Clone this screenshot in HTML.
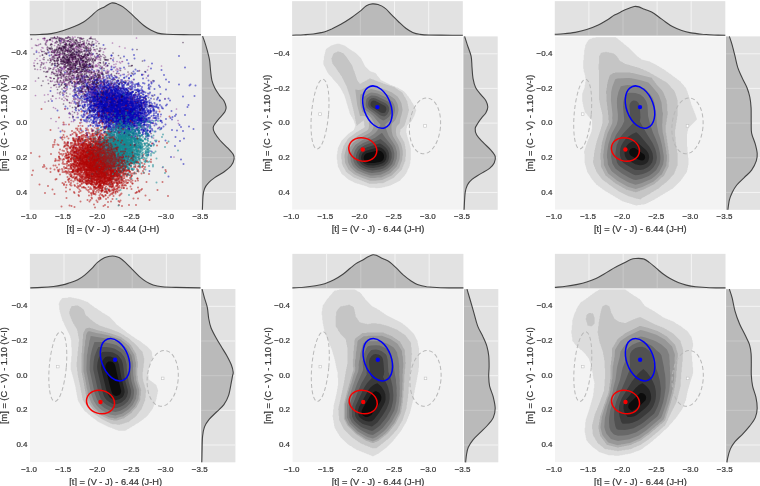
<!DOCTYPE html>
<html><head><meta charset="utf-8"><style>
html,body{margin:0;padding:0;background:#fff;overflow:hidden;}
svg{display:block;font-family:"Liberation Sans", sans-serif;will-change:transform;}
text{-webkit-font-smoothing:antialiased;}
</style></head><body>
<svg width="760" height="486" viewBox="0 0 760 486" font-family='"Liberation Sans", sans-serif' font-size="8" fill="#333333" stroke="none"><defs><clipPath id="c00"><rect x="29.66" y="36.00" width="171.40" height="173.80"/></clipPath><clipPath id="c01"><rect x="292.10" y="36.40" width="170.70" height="173.40"/></clipPath><clipPath id="c02"><rect x="554.80" y="36.40" width="170.50" height="173.40"/></clipPath><clipPath id="c10"><rect x="29.90" y="289.00" width="170.60" height="173.30"/></clipPath><clipPath id="c11"><rect x="292.35" y="289.00" width="171.05" height="173.30"/></clipPath><clipPath id="c12"><rect x="554.90" y="289.00" width="170.60" height="173.30"/></clipPath></defs><rect width="760" height="486" fill="#ffffff"/>
<rect x="29.66" y="36.00" width="171.40" height="173.80" fill="#eeeeee"/>
<g clip-path="url(#c00)"><g transform="scale(.5)">
<path d="M121 82h0m32 23h0m26 2h0m44 4h0m81 16h0m-35-10h0m-109 10h0m-14 15h0m23-11h0m3 10h0m8-10h0m4 8h0m4 3h0m27-11h0m9 8h0m47 0h0m31-2h0m21 3h0m5 10h0m-44-1h0m-17 0h0m-39 7h0m-21 2h0m-2-10h0m-1-1h0m-13 4h0m-17 2h0m-4 1h0m-2-2h0m-15 5h0m-19 17h0m23-10h0m14 9h0m0-13h0m5 6h0m4 5h0m5 3h0m1-9h0m0 10h0m3-14h0m4 10h0m5 1h0m2 1h0m1-11h0m2 1h0m4 12h0m1-2h0m0-6h0m4 7h0m2-3h0m2-8h0m2 3h0m1 5h0m1-1h0m2-1h0m5 4h0m1-5h0m1 0h0m6-2h0m2 8h0m0 1h0m1-7h0m5-3h0m1 3h0m2-5h0m0 0h0m5 3h0m1-1h0m5 1h0m6 9h0m7-3h0m6 0h0m0-4h0m25 5h0m17-2h0m20-7h0m-42 23h0m-9-4h0m-5 3h0m-10-1h0m0 5h0m-8-6h0m0 0h0m-1 6h0m-1-4h0m-1-1h0m-1 4h0m-4-13h0m0 15h0m-1-6h0m0 2h0m-1 3h0m-1-13h0m-4 2h0m-2 11h0m-2-1h0m-1-8h0m-5 7h0m-3-10h0m0 8h0m-3-5h0m-2 9h0m0-8h0m0 0h0m0 7h0m-1-8h0m-1 10h0m-1-15h0m-3 5h0m0 9h0m-1-8h0m-2 5h0m-1-7h0m0 11h0m-1-10h0m-1 6h0m-2-7h0m0 5h0m0-4h0m-2 8h0m-2-3h0m0-4h0m0 6h0m-1 1h0m0 0h0m0-7h0m0 4h0m-1 0h0m-1 1h0m0 0h0m-1 2h0m-2-7h0m0 3h0m0 3h0m0-4h0m0 6h0m-2-13h0m0 12h0m-3-6h0m0 1h0m0 4h0m-1 3h0m0-1h0m-1-7h0m-4 6h0m-1 2h0m0-8h0m0 7h0m-4-5h0m-2-2h0m0 5h0m0-12h0m-3 9h0m-2-6h0m-2 12h0m-12-1h0m-6-11h0m-1 5h0m-1-7h0m-3 7h0m-1 2h0m-1-10h0m-5 13h0m-51-7h0m3 20h0m51-9h0m16 6h0m1-6h0m1 2h0m0 4h0m1-1h0m0 4h0m0-7h0m4 7h0m1-7h0m0-1h0m2 6h0m4-6h0m2 9h0m1 4h0m3 0h0m1-6h0m1 5h0m0 1h0m1-10h0m1-3h0m0-1h0m0 6h0m0 6h0m1-3h0m0 2h0m0 3h0m1-10h0m0 10h0m1-13h0m0 5h0m0-6h0m0 1h0m1 2h0m0 11h0m0-12h0m0 3h0m0-1h0m0 6h0m0-10h0m1 10h0m0-7h0m0 10h0m1-3h0m1-9h0m0 4h0m1 6h0m1-6h0m0 0h0m1 6h0m2 0h0m0-9h0m0-1h0m1 8h0m0-9h0m1-1h0m0 0h0m1 8h0m0 6h0m1-12h0m0 1h0m0 8h0m1 0h0m0-11h0m0 12h0m0-5h0m0-7h0m1 12h0m0-7h0m0 10h0m0-5h0m0 0h0m1 2h0m0-5h0m1-7h0m1 2h0m0 2h0m0 0h0m2 10h0m0-4h0m0-10h0m1 0h0m0 4h0m0 10h0m0-9h0m1 3h0m0-6h0m1 2h0m0 4h0m0-5h0m1 4h0m0 0h0m1-1h0m0-4h0m0 12h0m0-14h0m0 15h0m1-9h0m0 0h0m0 6h0m1 3h0m0-9h0m1-2h0m0-4h0m0 10h0m0-1h0m1 4h0m0-3h0m0-5h0m1-1h0m0-4h0m1 12h0m0 3h0m1-7h0m0 1h0m2-3h0m1 0h0m0 0h0m2 1h0m0 5h0m1-6h0m1-2h0m0 4h0m0 0h0m0 3h0m1-4h0m0 6h0m1-7h0m0-3h0m0 5h0m1 5h0m0-1h0m1-4h0m0-3h0m0-5h0m1 6h0m1-6h0m0 10h0m2-10h0m0 15h0m2-4h0m1 3h0m0-2h0m0 3h0m0-2h0m1-5h0m0-5h0m0 6h0m2 4h0m0-6h0m0 0h0m0 1h0m0-2h0m1-4h0m0-1h0m1 12h0m0-3h0m0-10h0m2 13h0m0-7h0m0-2h0m1 10h0m0-4h0m0-1h0m0 6h0m1-2h0m0 0h0m1-3h0m0 1h0m3 4h0m0-13h0m3 11h0m1 0h0m1-7h0m0 2h0m1-7h0m0 5h0m0 9h0m1-12h0m0 5h0m1 4h0m0-9h0m1 12h0m1-3h0m0 2h0m1-1h0m2-5h0m1 7h0m0-14h0m1 5h0m2 3h0m2 0h0m1 3h0m2-3h0m3-1h0m1 7h0m4-15h0m23 7h0m1-2h0m22 0h0m-11 20h0m-12-8h0m-1 14h0m-7-2h0m-4-9h0m-2 9h0m-1-11h0m-10 1h0m-1 6h0m-2-8h0m0 2h0m0 12h0m-1-14h0m0 12h0m-2-3h0m0-7h0m-1 3h0m0-4h0m-2 8h0m-1-6h0m0 5h0m0 1h0m0-4h0m-1-4h0m-1 13h0m-3-12h0m0 2h0m-2 1h0m0 2h0m0-4h0m-1 10h0m-1-4h0m0-2h0m-1 4h0m0-5h0m0 7h0m-1-3h0m-1-1h0m0-8h0m0 11h0m0-6h0m0 1h0m-1-8h0m0 15h0m-1 0h0m0-5h0m0-1h0m-1 3h0m0 0h0m0-7h0m0 0h0m-1 5h0m0-10h0m-1 7h0m0-7h0m0 4h0m0-2h0m-1 10h0m0-12h0m-1 7h0m0 3h0m0 5h0m-1-2h0m0-10h0m-1 7h0m-1-7h0m0 0h0m-1 1h0m0 7h0m-1 3h0m0-13h0m0 4h0m0 3h0m-1-3h0m0-4h0m-1 8h0m0-3h0m-1 0h0m0 7h0m0 2h0m0-5h0m0 1h0m0 0h0m-1-1h0m-1 2h0m0-11h0m-1 6h0m0 5h0m0-1h0m0 0h0m0 2h0m-1-2h0m-1-7h0m0 11h0m-1-2h0m-1 0h0m0-8h0m0 0h0m0 1h0m0-1h0m-1 1h0m0-1h0m-1 1h0m0 7h0m-1-3h0m0-3h0m0 4h0m0 2h0m-1-3h0m0-3h0m0-3h0m0 4h0m0 4h0m-1-12h0m0 15h0m0-14h0m-1 8h0m-1 5h0m-1-3h0m0-9h0m-1 3h0m0-4h0m-1 11h0m0-2h0m-1-5h0m0 10h0m0-4h0m-1-8h0m0 1h0m0 6h0m-1-8h0m0 2h0m-1 0h0m0 0h0m0 4h0m0 5h0m-1-4h0m0 0h0m-1 0h0m0-3h0m0 6h0m0-7h0m-1 9h0m0-10h0m0 2h0m-1 0h0m-1 1h0m0 3h0m0 2h0m-1-7h0m0 2h0m0-1h0m-1 8h0m0 1h0m-1-3h0m0 1h0m0-1h0m0-4h0m-1-5h0m-1 5h0m0 1h0m-2-6h0m0 5h0m-1-6h0m0 5h0m-1-4h0m0 0h0m0 6h0m-1 3h0m0-1h0m-1-1h0m0 5h0m0-9h0m0 2h0m-1-3h0m0 9h0m0-11h0m-1 10h0m0-1h0m-1-7h0m0 2h0m0 4h0m-1-4h0m0 1h0m0 6h0m-2-6h0m-1-2h0m0-4h0m-1 0h0m-1 13h0m-1-4h0m0 4h0m-2-1h0m0-5h0m0-4h0m0 0h0m0 9h0m-1-12h0m-1 13h0m0-11h0m0-4h0m-2 14h0m0-9h0m-2 3h0m0-6h0m0 1h0m-1 2h0m-1 4h0m-2-5h0m-3 1h0m-1-2h0m-3 1h0m-1-1h0m-1 9h0m-2-7h0m-13-3h0m0 13h0m-3-9h0m-31 3h0m-4-4h0m15 21h0m22-6h0m5-1h0m1 8h0m5-4h0m2-2h0m7 5h0m2 0h0m2-5h0m1 6h0m2-11h0m2 2h0m1 6h0m0-5h0m2 8h0m1 1h0m1 2h0m1-5h0m1 0h0m1-6h0m1-3h0m0 0h0m2 5h0m0-4h0m1 2h0m1 1h0m0 4h0m1-5h0m0 7h0m0 1h0m0-4h0m0-4h0m2 2h0m0 0h0m0 2h0m3 5h0m1-12h0m1 4h0m2 6h0m0 3h0m0-6h0m2-6h0m0 8h0m1 1h0m1 1h0m0 0h0m1 4h0m0-6h0m0 6h0m1-2h0m1-8h0m0 5h0m1-4h0m0 5h0m1-10h0m1 14h0m0-7h0m1-2h0m1 2h0m1 7h0m0-10h0m0 4h0m1-4h0m0 7h0m0-9h0m0 11h0m1-8h0m0-3h0m0-1h0m0 12h0m1-10h0m0 6h0m0-7h0m0 1h0m1 4h0m0-4h0m0 7h0m1-4h0m0-6h0m0 3h0m1-2h0m0 5h0m0-4h0m0 3h0m1 1h0m0-3h0m0 11h0m0-15h0m0 8h0m1 5h0m0 1h0m0-6h0m0 1h0m1 6h0m0-8h0m0 6h0m1-5h0m0-3h0m0 2h0m2-3h0m0 10h0m0-8h0m0 0h0m0 8h0m1-2h0m0-4h0m1-2h0m0 1h0m0-2h0m0 10h0m1-13h0m0 12h0m0-13h0m0 4h0m0-1h0m0 7h0m1-10h0m1 1h0m1 13h0m0-15h0m2 11h0m1-3h0m0 7h0m1-15h0m1 1h0m0 8h0m2-8h0m0 12h0m0-4h0m1-7h0m1 10h0m2-7h0m1 10h0m0-5h0m0 1h0m1 0h0m0-10h0m1 6h0m1-3h0m2 9h0m0-13h0m1 2h0m0 2h0m0 10h0m0 1h0m1-3h0m2-1h0m2 1h0m1 1h0m0-4h0m0-2h0m0-6h0m1 12h0m1-3h0m0-3h0m1-7h0m1 13h0m1 2h0m0-14h0m1 12h0m1 0h0m2-10h0m2 10h0m1-5h0m0 7h0m2-10h0m1-3h0m3 13h0m2-15h0m13 7h0m4 1h0m1 4h0m39-7h0m26 24h0m-76-8h0m-8-3h0m-5 7h0m-1-4h0m0 9h0m-6-8h0m0 6h0m0-12h0m0 0h0m-1 1h0m-1 9h0m-1-8h0m-1 3h0m-1 6h0m-1-3h0m-1-8h0m0 7h0m-2-4h0m-3 9h0m-1-12h0m0 12h0m0-9h0m0 3h0m-1 7h0m-1-3h0m-3-9h0m-1 2h0m0 6h0m-1-7h0m0 3h0m0-5h0m0 15h0m-1-5h0m0-7h0m0 4h0m-1-4h0m-1 6h0m-2-5h0m0 9h0m-1-12h0m0 2h0m0-1h0m-4 12h0m0-12h0m-1 1h0m0 0h0m0 4h0m-1 4h0m0-9h0m-1 8h0m-1-2h0m0-6h0m0-1h0m0 1h0m-1-1h0m-1 14h0m-1-3h0m-1-2h0m0-4h0m-1 8h0m0-14h0m-1 2h0m0 6h0m0 5h0m-2-10h0m-1 6h0m-1-3h0m-1-3h0m-1 4h0m0-1h0m-1 2h0m0 7h0m-1-4h0m-1 0h0m0 2h0m-1-3h0m-1-2h0m-1 1h0m-2-8h0m-1 1h0m0 2h0m-2-2h0m-3 0h0m-1 12h0m-1-14h0m0 1h0m0 2h0m-1 2h0m-1-5h0m0 5h0m-1 6h0m-1-2h0m-3-6h0m0 8h0m-1 2h0m-4-13h0m-8 0h0m-1 5h0m0-5h0m-12 0h0m-66 23h0m53 8h0m36-8h0m0-6h0m9 3h0m5 8h0m16-8h0m9-4h0m1 9h0m5-3h0m4-5h0m6 2h0m0 7h0m2-1h0m0-1h0m1 4h0m3 0h0m7 3h0m1-9h0m3-3h0m3-3h0m1 12h0m5-1h0m0-10h0m1 10h0m1-10h0m1 10h0m0-9h0m1 13h0m1-10h0m5-5h0m53 5h0m-3 13h0m-45 13h0m-10-10h0m-44-5h0m-6 1h0m-3 1h0m-27 7h0m-19-5h0m-31 9h0m0 12h0m131 8h0m40 48h0" stroke="#0000b4" stroke-opacity="0.5" stroke-width="4.0" stroke-linecap="round" fill="none"/>
<path d="M186 108h0m79-9h0m-24 38h0m34 5h0m16 2h0m-5 13h0m-16-10h0m-17 6h0m-34 2h0m-28-4h0m-30 8h0m-12-4h0m-31 14h0m24-6h0m20 12h0m2-3h0m16-11h0m1-1h0m3 14h0m2-12h0m2 9h0m2-11h0m1 14h0m0 0h0m1-14h0m3 12h0m1-11h0m4 2h0m1 12h0m0-5h0m2 3h0m1 0h0m2 0h0m2-12h0m1 10h0m0-11h0m3 15h0m0-2h0m1-8h0m4 4h0m1-1h0m3 6h0m1-4h0m0 4h0m2 1h0m3-5h0m8-7h0m1 8h0m0-10h0m10 11h0m2-2h0m2-5h0m0 2h0m10 6h0m13-5h0m11 6h0m5-7h0m8-6h0m0 10h0m1 4h0m5-8h0m78 2h0m10 2h0m-59 8h0m-23-1h0m-10 0h0m-11 6h0m-9-3h0m-1 9h0m0-8h0m-1 1h0m-2-1h0m-6-2h0m-5-1h0m0 7h0m-4 0h0m-1-9h0m0 9h0m-1-9h0m-1 13h0m-1-4h0m-2 4h0m0-10h0m-1 0h0m0 7h0m0-8h0m-2 5h0m-1-7h0m-1 4h0m-1 6h0m-1-9h0m-1 9h0m0 1h0m0-4h0m0 5h0m-3-12h0m-2 3h0m-1 9h0m-1-6h0m0 4h0m-1-3h0m-1 5h0m0-1h0m-1-8h0m0 11h0m-1-11h0m0 6h0m-3-9h0m0 13h0m-2-6h0m0 7h0m0-5h0m-1 4h0m-1-6h0m-1 3h0m0 4h0m-1-3h0m0 3h0m0-6h0m-1 3h0m-1-6h0m-1-5h0m-1 3h0m0 6h0m-1-4h0m0 5h0m0-6h0m-1 9h0m0-4h0m0 5h0m-1-15h0m-1 13h0m-1-4h0m0-1h0m0-6h0m-1 1h0m-5 6h0m-1 3h0m0-2h0m-2 0h0m-1-3h0m-1 5h0m-1-2h0m0 2h0m-2-9h0m0 12h0m-3-1h0m-2-13h0m0 14h0m0-15h0m-1 13h0m-1 1h0m0-2h0m-2-5h0m-5 6h0m-1-6h0m-1 3h0m0-8h0m0-1h0m-1 2h0m-2-1h0m-5 12h0m-1-12h0m-1 5h0m-25 6h0m-2 1h0m-24 0h0m37 2h0m3 0h0m10 4h0m3 5h0m1 6h0m2-2h0m0-10h0m0 2h0m2 4h0m5-8h0m0 4h0m3-3h0m0 2h0m2 3h0m0 3h0m0-9h0m0 4h0m2 10h0m2-3h0m0-2h0m2 4h0m0-7h0m0-6h0m0 13h0m0-7h0m1 7h0m0-12h0m3 0h0m0 0h0m0 13h0m1-3h0m0-7h0m1 2h0m2-1h0m0-3h0m0 5h0m0-7h0m1 11h0m0 2h0m0-10h0m3 7h0m1 1h0m0-7h0m0-4h0m1 6h0m0 6h0m0-1h0m1-1h0m0 4h0m1-7h0m1-1h0m0-3h0m1 2h0m0 7h0m2 1h0m0-11h0m1-3h0m0 1h0m0 11h0m0-12h0m1 3h0m0 1h0m1 11h0m0-2h0m0-4h0m0-8h0m2 8h0m0-5h0m0-1h0m0 8h0m0-1h0m1 4h0m0-10h0m0 11h0m0 0h0m1-3h0m0-5h0m1-7h0m0 10h0m1 3h0m0-11h0m0 1h0m0 9h0m1-10h0m0 6h0m0-8h0m1 8h0m1 1h0m0-6h0m0 5h0m1-8h0m0 3h0m0 1h0m1-2h0m1 3h0m0 9h0m0-3h0m1-3h0m1 0h0m0-8h0m0 4h0m0 1h0m1 5h0m0 4h0m0-5h0m0 4h0m0-1h0m0-1h0m1-9h0m0 12h0m1-6h0m0 6h0m0-4h0m2 4h0m0-2h0m1-1h0m0-4h0m0 5h0m1-3h0m0-8h0m0-1h0m0 13h0m1-6h0m0-7h0m0 0h0m0 11h0m0 2h0m2 1h0m1 0h0m0-13h0m0 14h0m1-12h0m0 11h0m1-7h0m1 8h0m1-7h0m0-4h0m1 0h0m1 8h0m0 0h0m0-1h0m0-1h0m0-2h0m1-2h0m0 8h0m0-9h0m1 8h0m0 2h0m0-6h0m3 6h0m0-12h0m0 1h0m0 0h0m0-1h0m2 7h0m0 0h0m1 2h0m2-10h0m1 12h0m0-2h0m1 3h0m0 0h0m2-13h0m1 13h0m0 0h0m1-4h0m1-9h0m0 12h0m0-12h0m0 9h0m1 1h0m1 3h0m0-1h0m1-12h0m2 11h0m0-1h0m3-11h0m0 5h0m1 0h0m1-5h0m3 1h0m1 6h0m1 0h0m1 6h0m4-5h0m2 2h0m1 2h0m81 9h0m-51 2h0m-4-6h0m-7 1h0m-6 7h0m-1-6h0m-3 0h0m0 11h0m-1 0h0m-1-6h0m0 4h0m-1-9h0m-3 8h0m-7 3h0m-1-5h0m0 0h0m-2 1h0m-3-6h0m0 3h0m0-5h0m-1 11h0m0-12h0m-3 9h0m0 0h0m-1-6h0m-1 0h0m-1 8h0m-1-7h0m-1-3h0m0 1h0m0 11h0m-1-6h0m-3-8h0m-1 8h0m0 5h0m-1-7h0m0 5h0m-1-8h0m-1 6h0m0 0h0m-1-9h0m0 10h0m-2 3h0m0-8h0m0-3h0m0 9h0m-1-3h0m-1 4h0m0-4h0m-2-6h0m0 4h0m0 3h0m-1-1h0m0-6h0m-1 4h0m0-6h0m-1 2h0m-1 3h0m0-1h0m-1-1h0m-1 1h0m0 5h0m-1-7h0m0-3h0m0 11h0m0 2h0m0-10h0m0-3h0m-2 5h0m0-2h0m-1 5h0m0-6h0m-1 13h0m0-11h0m0 6h0m0 2h0m-1-1h0m0-1h0m0-7h0m0 12h0m-1-7h0m0 7h0m0-14h0m0 11h0m0-5h0m-1-5h0m0 0h0m-1 0h0m0-1h0m0 5h0m0 7h0m-1-1h0m0-9h0m0 1h0m-1-4h0m0 10h0m0 2h0m0-2h0m0 3h0m0-6h0m0-7h0m-1 6h0m0-3h0m0 2h0m-2 9h0m0-6h0m-1 1h0m0 2h0m0 0h0m0-4h0m0 0h0m-1-4h0m0 2h0m0-3h0m0-1h0m-1 3h0m0 0h0m0 10h0m0-11h0m0 11h0m0-7h0m-1-6h0m0 2h0m0 4h0m0-2h0m-1-4h0m0 13h0m-1-13h0m0 11h0m0-7h0m-1 5h0m0 2h0m0 1h0m0 2h0m-1 0h0m0-15h0m-2 11h0m0-9h0m0 6h0m0-8h0m0 12h0m-1 3h0m-1-14h0m0 6h0m0-3h0m0 7h0m0-5h0m0 1h0m-2-1h0m-1-4h0m0-1h0m0 11h0m-1-2h0m0-9h0m0 12h0m0-12h0m0 1h0m-2 1h0m0 3h0m0 9h0m-1-9h0m0-4h0m0 8h0m-1-10h0m0 9h0m0 6h0m0-10h0m0 7h0m-1-12h0m0 8h0m-1 4h0m0-10h0m-1 0h0m0 10h0m-1-6h0m-1-1h0m0 2h0m0-4h0m-1 7h0m0-6h0m0 6h0m-1 1h0m0-2h0m0 6h0m-1-4h0m-1 1h0m0-1h0m0-6h0m0-5h0m-2 2h0m0 0h0m0-1h0m0 7h0m0-3h0m-1-3h0m0 10h0m0-1h0m0 0h0m-1 3h0m-2 0h0m0-1h0m-1-3h0m0-10h0m0 15h0m0-9h0m-1 1h0m-1 3h0m-2-7h0m-2 0h0m-1 4h0m-1-4h0m-1 4h0m-4 5h0m0-7h0m0-4h0m-1 4h0m0 1h0m-1 9h0m0-15h0m0 7h0m-1-3h0m-1 6h0m-1 3h0m0-1h0m-4-8h0m0 4h0m-2 7h0m0-14h0m-3 7h0m-2 3h0m-10-8h0m-7 10h0m-1-9h0m-1 23h0m23 1h0m6-7h0m4 8h0m2-2h0m5-10h0m0-1h0m0 3h0m0 4h0m1-1h0m1-1h0m1 2h0m3 2h0m1 3h0m2-5h0m1 2h0m0 4h0m0-4h0m1 5h0m1-4h0m2-5h0m0 1h0m0-5h0m1 3h0m0 4h0m0 5h0m2 2h0m0-6h0m2-9h0m0 3h0m1-2h0m1 4h0m0 10h0m1 0h0m1-15h0m0 5h0m2-2h0m1 1h0m1 7h0m1-11h0m1 12h0m1-10h0m0 2h0m0 1h0m2 1h0m0 4h0m0-9h0m1 7h0m1 1h0m1-3h0m0-6h0m2 9h0m1-5h0m0 2h0m0 8h0m0-8h0m0-1h0m1-4h0m0 3h0m0 0h0m1 6h0m0 5h0m1-1h0m0-13h0m1 3h0m0 0h0m1 11h0m0-3h0m1-9h0m0 9h0m0-11h0m0 6h0m1-2h0m1 6h0m0-10h0m1 3h0m0 7h0m0 3h0m1-13h0m0 9h0m0-6h0m1 8h0m0-2h0m2-3h0m0 1h0m0 5h0m3 2h0m0-4h0m2-6h0m0-2h0m1 10h0m0-9h0m0 3h0m0-5h0m0-1h0m0 14h0m1-6h0m0 6h0m0-7h0m0-5h0m1 4h0m0-2h0m0 2h0m1 8h0m1-15h0m0 2h0m0 8h0m0 3h0m0-13h0m1 6h0m0-2h0m0-2h0m1 5h0m0 6h0m1-11h0m0 9h0m1-4h0m0 4h0m0-9h0m1 11h0m0 2h0m0-10h0m0 7h0m1-5h0m0-7h0m0 13h0m0 1h0m1-11h0m0 8h0m1-1h0m0 5h0m0-5h0m1-6h0m1-4h0m0 14h0m1 0h0m1-8h0m0-5h0m0 8h0m1 1h0m0-9h0m1 14h0m0-14h0m0 4h0m1 1h0m0 2h0m0 2h0m3-5h0m1-4h0m1 10h0m0-1h0m0 1h0m0-4h0m1 6h0m2 1h0m1-6h0m1-5h0m0-1h0m1 10h0m0-11h0m1 4h0m0 7h0m1 0h0m1-9h0m1 1h0m2-2h0m1 6h0m0 5h0m0 2h0m2 0h0m0-8h0m1 2h0m4 3h0m11-9h0m4-1h0m4 4h0m28 9h0m1-5h0m5-2h0m9 18h0m-48-3h0m-5-1h0m-6 4h0m-2-6h0m-5 7h0m-5-2h0m-2-9h0m-2 0h0m-2 7h0m0-5h0m0 12h0m-2-13h0m-2 4h0m-1-5h0m-1 1h0m-1 0h0m-3 12h0m0-2h0m-1-11h0m-2 1h0m0 10h0m-2 0h0m0 0h0m-1-2h0m-2-7h0m0 0h0m-4 1h0m0-2h0m-2 7h0m0 4h0m0-6h0m0-4h0m-1 5h0m0 0h0m-1-1h0m0 0h0m0 6h0m-2-8h0m-2-4h0m0 1h0m-1-1h0m-1 13h0m-1 2h0m-1-13h0m0 10h0m0 0h0m0-5h0m0-1h0m-1 1h0m-3-3h0m0 5h0m0-9h0m-3 3h0m-1 2h0m0 1h0m-1 8h0m0-5h0m-1 4h0m-1-2h0m0-10h0m-1 7h0m0-6h0m-3 12h0m0-9h0m-1 3h0m0 5h0m-1-11h0m-4 12h0m-1-14h0m-1 6h0m-1-5h0m0 1h0m-2 1h0m-3 1h0m-1 7h0m0 1h0m-1-10h0m-3 3h0m-2 8h0m-3-9h0m0 4h0m-3-4h0m-5-1h0m-1 8h0m-6-4h0m0-7h0m-3 9h0m-16-7h0m-12 19h0m9 0h0m2 5h0m34-10h0m11 7h0m3-1h0m1-3h0m4 2h0m2 8h0m2-5h0m1-5h0m1 0h0m1 8h0m2-4h0m4 6h0m1-5h0m1-7h0m1 7h0m0-2h0m0-3h0m0 2h0m0-1h0m2 11h0m9-9h0m1-6h0m3 4h0m0 3h0m1-4h0m4 1h0m3 6h0m1 5h0m3-10h0m2-5h0m4 4h0m28-2h0m12-1h0m28 3h0m22 2h0m-74 12h0m-18 3h0m-10-3h0m-27 8h0m-5-2h0m-17 11h0m24 5h0m123 23h0m-20-5h0m-72-7h0m-29-1h0" stroke="#0000b4" stroke-opacity="0.5" stroke-width="4.0" stroke-linecap="round" fill="none"/>
<path d="M73 104h0m195 6h0m-20 3h0m-36 13h0m-47-3h0m1 16h0m7-10h0m6 12h0m17 0h0m27-7h0m12 9h0m23 14h0m-9-2h0m-1-6h0m-14 6h0m-10-2h0m-11-1h0m-7 0h0m-27 6h0m-6-7h0m-10 1h0m-33 16h0m21 0h0m4-3h0m11 9h0m1-7h0m1 6h0m1-12h0m2 1h0m4 10h0m1 2h0m11-5h0m1 6h0m1-2h0m4-5h0m1-3h0m0 9h0m1-14h0m6 5h0m2 4h0m0-1h0m2 4h0m0 1h0m3-9h0m1 3h0m0 1h0m1 6h0m0-9h0m3 0h0m1 6h0m1-8h0m0 7h0m1-9h0m4 13h0m9-9h0m1 3h0m1-1h0m1 8h0m1-5h0m1 1h0m3 4h0m3-9h0m0 9h0m5-2h0m12-5h0m7 2h0m0 1h0m1-6h0m1 3h0m0 5h0m11-7h0m1 3h0m22 16h0m-1 2h0m-2-10h0m-11 12h0m-6-8h0m-4-2h0m0 11h0m-8 0h0m-2-6h0m-1-8h0m-2 13h0m0-1h0m-1-10h0m0 10h0m0-1h0m-5-1h0m0 0h0m0-2h0m-1-1h0m-1-2h0m-1 4h0m-1-6h0m0 9h0m-1 0h0m-1 0h0m-1-2h0m-1 4h0m-1-2h0m0-3h0m-2-9h0m-3 13h0m-2 2h0m-2-1h0m-1-9h0m-1 8h0m0 0h0m-1-8h0m-2-1h0m0 9h0m0 0h0m0-6h0m-1 3h0m-1-4h0m-1-6h0m0 10h0m-2-5h0m0 5h0m-1 5h0m0 0h0m0-2h0m0-9h0m-2 6h0m-1-6h0m-1 8h0m-1-3h0m-3-1h0m-2 2h0m0 1h0m0 1h0m-1 3h0m0-1h0m0-12h0m0 13h0m-1-3h0m0 0h0m0-7h0m-1-3h0m0 7h0m-1-9h0m-1 7h0m0 5h0m-1-5h0m0 5h0m0 1h0m-2-2h0m-2-3h0m-1 0h0m-1 1h0m0-8h0m0 9h0m-4-3h0m-3-4h0m-2 10h0m-1-4h0m-1-4h0m-1 1h0m-1 4h0m0 0h0m0 5h0m0-9h0m0 2h0m-2-3h0m0 0h0m-1 8h0m-1 1h0m-3 0h0m-1-4h0m0 0h0m0 1h0m-1 3h0m-3-12h0m-4-2h0m-1 2h0m-19 1h0m-3-3h0m-6 18h0m8 1h0m5 2h0m1-3h0m6 0h0m1 5h0m1-7h0m3 0h0m1 9h0m2-9h0m1 1h0m7 1h0m0-1h0m3 3h0m0 7h0m0-10h0m0 5h0m2 3h0m0 2h0m1-3h0m1-3h0m3 6h0m1-7h0m0-4h0m1 11h0m1 4h0m1-6h0m0-3h0m1 2h0m1 5h0m0-1h0m0-12h0m1 10h0m0-1h0m1-9h0m0 12h0m1 1h0m0 0h0m0-4h0m0-6h0m1 1h0m1-2h0m1 7h0m0 0h0m1-5h0m0 1h0m2 8h0m0-9h0m0 2h0m1-2h0m1 5h0m0 3h0m0 0h0m0 0h0m0-5h0m0 2h0m1 1h0m0 0h0m0-1h0m0-5h0m2-2h0m0-1h0m1-1h0m0 15h0m0-10h0m1 8h0m1-5h0m2-8h0m0 9h0m1 3h0m1-6h0m1 6h0m0-1h0m1 0h0m0-5h0m1 8h0m0-4h0m0-3h0m0 2h0m1 2h0m0-4h0m0 0h0m0 8h0m0-6h0m0 5h0m1-2h0m1-2h0m0-9h0m0 11h0m0-4h0m2 7h0m0-5h0m0-9h0m1 8h0m0 4h0m0-3h0m0 3h0m0-6h0m1-1h0m1 8h0m0-11h0m0 4h0m0 2h0m1 6h0m0-2h0m0-4h0m1 2h0m0-8h0m0 11h0m1-6h0m0-2h0m0 9h0m0-4h0m1-4h0m0-5h0m1 11h0m0 2h0m0-7h0m0-8h0m1 15h0m0-7h0m0 2h0m1 1h0m1-3h0m0-2h0m0 0h0m1 7h0m1-3h0m0-7h0m1 2h0m0 7h0m0-7h0m1 3h0m0 5h0m0-5h0m0-3h0m2 6h0m1-9h0m0 3h0m2 5h0m0 2h0m1-6h0m1 7h0m0 2h0m0-7h0m1 7h0m1-3h0m1 0h0m0-8h0m0 8h0m0 1h0m1-10h0m0 11h0m0-3h0m1-2h0m0 0h0m1-2h0m0-1h0m1 5h0m2 2h0m0 1h0m1-3h0m0-6h0m2 6h0m1-3h0m3-6h0m0-1h0m1-1h0m1 2h0m1 11h0m0-6h0m0 3h0m1 2h0m1-5h0m1 3h0m0-4h0m1 8h0m0-5h0m1-8h0m0 8h0m1-4h0m1 5h0m3-9h0m0 8h0m1 5h0m2 0h0m3-11h0m1 10h0m2-1h0m1-10h0m2 11h0m7 1h0m10 0h0m34 16h0m-11-11h0m-23 11h0m-1-9h0m0 10h0m-1-4h0m0-4h0m-3-7h0m-2 14h0m-1-10h0m-3 0h0m-2 10h0m-2-1h0m0-1h0m0-11h0m-3 6h0m-1-7h0m0 3h0m-2-3h0m-1 11h0m-2-3h0m0 1h0m-1-2h0m-1 6h0m-1-10h0m-1-2h0m0 2h0m-1 1h0m-2 5h0m-1-8h0m-1 8h0m0-3h0m0-3h0m-1 11h0m-3-1h0m-1-4h0m0-2h0m-1 5h0m0-6h0m-1 7h0m-1 2h0m-1-5h0m0-10h0m-1 4h0m-1 10h0m0-6h0m0 5h0m-1 0h0m0-6h0m0 2h0m0 4h0m0-6h0m-1-5h0m0 1h0m0 11h0m-1-14h0m0 7h0m0 2h0m0 6h0m0-3h0m-1-10h0m-1-2h0m0 14h0m0-1h0m-3-9h0m0 4h0m-1-6h0m0 3h0m0 1h0m0-1h0m0 5h0m0 3h0m-1-8h0m0 10h0m0-2h0m0-10h0m-1 3h0m-1 3h0m0-1h0m0 4h0m0-3h0m-1-3h0m0 1h0m0-4h0m0 11h0m0-5h0m-1-5h0m-1 11h0m0-6h0m-1-5h0m-1 4h0m-1-2h0m-1 2h0m0-2h0m0 8h0m-1-10h0m0 2h0m-1 1h0m0-7h0m0 5h0m-1 3h0m0-5h0m0 3h0m0-1h0m0 10h0m0-13h0m0 3h0m0 4h0m-1-1h0m0-8h0m0 15h0m-1-3h0m0 3h0m0-12h0m0-2h0m0 5h0m-1 5h0m-1 2h0m-1-9h0m0 0h0m0 3h0m-1-4h0m0 4h0m0-3h0m0 1h0m0-2h0m-1 9h0m0-6h0m0 7h0m0-9h0m0 7h0m0 3h0m-1-2h0m0-4h0m0-6h0m0 12h0m0-14h0m0 6h0m-1-3h0m-1-1h0m0 10h0m-1-8h0m-2 6h0m-1-4h0m0-2h0m-1-2h0m0 10h0m0-9h0m-1 8h0m0-9h0m0-2h0m-1 13h0m-1-8h0m-1 3h0m0-2h0m0 5h0m-1 2h0m0-5h0m0-7h0m0-1h0m-1 12h0m0 3h0m0-8h0m0-3h0m-1 2h0m0-2h0m0 8h0m0-5h0m0 6h0m-1 0h0m0-9h0m-1-2h0m0-1h0m-1 2h0m-1-1h0m-1 13h0m-1-6h0m0-7h0m-1 10h0m0-11h0m-1 5h0m0 5h0m0 3h0m0-12h0m0 2h0m-1 1h0m0-5h0m0 15h0m-2-13h0m0 1h0m-1-1h0m0 9h0m0-8h0m0 6h0m0-5h0m0 10h0m-2-1h0m0 1h0m0-11h0m-1 1h0m0 1h0m0 8h0m0-5h0m-2-8h0m0 8h0m0-1h0m-1 0h0m0-3h0m0-3h0m-1 14h0m0-14h0m-1 14h0m-2 0h0m0-9h0m-1-5h0m-1 7h0m0-5h0m-1-3h0m-1 10h0m-2-9h0m-1 3h0m-1 6h0m-1 1h0m-2-9h0m-4 0h0m-1 13h0m-2-11h0m-1 2h0m-1 6h0m-1-5h0m-8-2h0m-2 2h0m-1 7h0m0 12h0m0-4h0m2-6h0m0 7h0m7 4h0m1 0h0m3-11h0m2 15h0m1-8h0m4 3h0m3 3h0m3-10h0m0 1h0m1 8h0m2-10h0m1 3h0m1-4h0m0 9h0m5-3h0m1 0h0m0 0h0m0-4h0m1 2h0m0-2h0m0 12h0m0-7h0m0-8h0m0 0h0m1 4h0m1 8h0m0 1h0m1 0h0m1-10h0m1-3h0m1 4h0m0 2h0m1 6h0m1 3h0m1-11h0m0 0h0m1-2h0m0 7h0m2 2h0m0-4h0m1-1h0m0 5h0m0 2h0m4-3h0m0-8h0m0-2h0m1 9h0m0-7h0m0 12h0m1-12h0m1 0h0m0 7h0m1 3h0m0-11h0m1 3h0m0 1h0m1 7h0m1-4h0m0-1h0m1 6h0m0-12h0m0 10h0m0-9h0m0-2h0m1 9h0m1 0h0m1-3h0m0 8h0m2-10h0m0 8h0m1-3h0m0-5h0m0-2h0m1 10h0m3-8h0m1 7h0m0-8h0m0 6h0m0-1h0m0 0h0m0 2h0m1-4h0m0-4h0m2 12h0m0-11h0m0 0h0m0 3h0m1 1h0m0 3h0m0-2h0m0 6h0m0-14h0m1 7h0m0-1h0m1-6h0m0 12h0m0-3h0m1 3h0m0-3h0m0 3h0m1-1h0m1-2h0m0-5h0m0 9h0m0-13h0m1 0h0m0 15h0m1-10h0m0 8h0m1-3h0m0-6h0m0-2h0m1 4h0m0 3h0m0 0h0m1 3h0m1-6h0m2-3h0m0 2h0m0 2h0m0 0h0m0 7h0m1-12h0m1 2h0m0-4h0m1 0h0m1 5h0m0 0h0m0 3h0m1-7h0m1 9h0m1 0h0m1-1h0m0 4h0m1-8h0m2-2h0m2 7h0m1-4h0m0 0h0m1 9h0m1-2h0m1-5h0m2 2h0m0-3h0m0-3h0m1 4h0m2 5h0m0-11h0m1 6h0m0 0h0m0-4h0m0 7h0m3 3h0m6-9h0m5 1h0m3-4h0m1-1h0m11 11h0m7 1h0m5-8h0m40 25h0m-31-5h0m-4 4h0m-6-11h0m-8 7h0m-2-8h0m-14 9h0m-2 4h0m-3-13h0m0 3h0m-2 0h0m0 6h0m-2-9h0m-2 3h0m0 6h0m-2-6h0m-2 8h0m-2-1h0m-4 4h0m-7-8h0m0-7h0m0 11h0m-1-1h0m0-8h0m-1 13h0m-1-1h0m-1-14h0m-2 5h0m0 8h0m-3-6h0m0 7h0m-4-14h0m-1 6h0m0 6h0m-1 0h0m0-7h0m0 5h0m-2 3h0m0-8h0m0 6h0m-1-11h0m0 4h0m0 4h0m-2-2h0m0-5h0m0 2h0m-1-3h0m0 8h0m-1 7h0m-1-10h0m-2-1h0m-1 5h0m-1-2h0m-1-4h0m0 5h0m0-8h0m-1 1h0m0 3h0m0-3h0m-1 11h0m-2-9h0m-1-2h0m0 6h0m-5-5h0m-2 2h0m-3 11h0m0-3h0m-2-9h0m-2-2h0m0-1h0m-2 14h0m-2-8h0m-2-4h0m-1 0h0m-1-2h0m-1 1h0m-1 0h0m-3 12h0m-3-8h0m-1-3h0m-3 13h0m-4-8h0m-3 5h0m-2-8h0m-1 8h0m-2-9h0m-3 0h0m-5-3h0m-13 2h0m34 25h0m15-10h0m3 0h0m2 0h0m2 1h0m11 4h0m3 5h0m1-2h0m1 5h0m2-14h0m5 3h0m2 0h0m0 1h0m1 4h0m0 6h0m3-2h0m1-9h0m1 4h0m2-2h0m0-3h0m4 5h0m11 4h0m2-11h0m0 4h0m2 3h0m2-7h0m5 4h0m3 0h0m4 3h0m0 5h0m0-8h0m4 11h0m6-10h0m21-3h0m-19 15h0m-23-1h0m-11 7h0m-5-6h0m-12-1h0m-43 12h0m-33-10h0m-55 1h0m76 13h0m37 1h0m28 5h0m40-3h0m-48 17h0" stroke="#0000b4" stroke-opacity="0.5" stroke-width="4.0" stroke-linecap="round" fill="none"/>
<path d="M99 111h0m74-11h0m116 21h0m-35-1h0m-28 0h0m-56 17h0m2-5h0m76 3h0m19 8h0m103-8h0m-74 17h0m-12-2h0m-16 9h0m-10-3h0m-27-3h0m-9-3h0m-8 6h0m-14 0h0m-6 2h0m-5-3h0m-1 3h0m-22-4h0m-36-9h0m19 29h0m0-3h0m5-4h0m6 7h0m7-1h0m8-2h0m4 2h0m9 0h0m0-5h0m1 0h0m1-3h0m1-5h0m1 13h0m2-9h0m13-2h0m3 11h0m3-6h0m4 1h0m0 2h0m1 1h0m1 4h0m5 0h0m1-1h0m1 1h0m1-2h0m9-12h0m2 6h0m6 0h0m6-2h0m9-2h0m4 0h0m7 12h0m5-6h0m5 3h0m6-6h0m23 24h0m-24-9h0m-7 3h0m0 4h0m0 1h0m-1-2h0m-6 4h0m-6-7h0m-2 1h0m-2 1h0m-2 4h0m0-1h0m-5-3h0m-1 2h0m-1-1h0m-1 3h0m-1-9h0m-2-2h0m-2-1h0m0 8h0m-3-1h0m0 6h0m-1-1h0m0 0h0m0-12h0m-1 9h0m0-6h0m-2 6h0m-1 4h0m0-4h0m-1 4h0m0 0h0m-1-6h0m0-7h0m0 8h0m-1-9h0m-1 7h0m-1 7h0m-1-13h0m-2 5h0m0 4h0m-2-8h0m-1 7h0m0-8h0m-1 13h0m-1-8h0m-1 0h0m0 8h0m-1-5h0m0-6h0m-1 0h0m-1 8h0m0 1h0m-1-4h0m0-5h0m-2-3h0m-1 11h0m-3-5h0m0 6h0m0-5h0m-1-8h0m0 9h0m-1 4h0m0-6h0m-2 4h0m0-5h0m0 7h0m-1-12h0m-3 0h0m-2 12h0m-1-12h0m-3 8h0m0 6h0m-2 0h0m-1-3h0m-1-2h0m0-10h0m-1 15h0m0-2h0m-1 2h0m-1-4h0m-3-2h0m0 5h0m-1 1h0m0-15h0m-2 3h0m0 5h0m0-2h0m0 0h0m-3 9h0m0-9h0m-1 1h0m0-3h0m-1 4h0m-5-1h0m-2 7h0m-5-10h0m-5 4h0m-15-6h0m-23 4h0m24 15h0m13 7h0m1-2h0m10-4h0m4-4h0m1 9h0m1 3h0m5-7h0m3-1h0m0 4h0m1-2h0m0 1h0m0-6h0m2 12h0m0 0h0m2-15h0m1 5h0m0 10h0m1-8h0m0-5h0m0 6h0m1 2h0m1-3h0m0 3h0m1-6h0m0-3h0m1 12h0m1 0h0m0 1h0m0-5h0m3-7h0m0 6h0m0 5h0m0-9h0m0 10h0m0-3h0m1-4h0m0-3h0m1-1h0m2 4h0m0 7h0m1-4h0m0 2h0m0 1h0m0 0h0m0-8h0m0 8h0m0-13h0m1 2h0m1 2h0m0-2h0m0 12h0m3-5h0m0-6h0m1 4h0m1 0h0m0 8h0m0-11h0m0 5h0m0 0h0m1 6h0m1 0h0m1 0h0m0-6h0m0-8h0m1 12h0m0-6h0m1-1h0m1 7h0m0-1h0m0-10h0m1 13h0m0-12h0m0 12h0m0-1h0m1-6h0m0 1h0m0-3h0m1 7h0m0-2h0m1-4h0m0 3h0m0-4h0m0 2h0m1-7h0m0 5h0m0 8h0m0-14h0m0 7h0m1 2h0m1-9h0m1 3h0m1 8h0m0-8h0m1 8h0m0-4h0m0-2h0m0-4h0m0 3h0m1 1h0m0-5h0m0 7h0m0 6h0m1-5h0m0 0h0m1 4h0m1-11h0m0 0h0m0 5h0m1 7h0m0 1h0m1-3h0m0-8h0m0 10h0m1-1h0m0-6h0m0 9h0m0-11h0m2 11h0m0-5h0m0-6h0m0 6h0m0-1h0m1 4h0m0-8h0m1 4h0m0-6h0m0-1h0m1 9h0m1 4h0m0-8h0m1 4h0m0 4h0m0-14h0m2 9h0m0-2h0m0-2h0m0 3h0m1-6h0m1-2h0m0 11h0m1-8h0m0-3h0m0-1h0m0 1h0m0 10h0m0 4h0m0-1h0m1-9h0m0 8h0m1-1h0m0 0h0m1-10h0m0 13h0m0-9h0m1 4h0m0-10h0m0 6h0m0 6h0m1-7h0m1 0h0m0 6h0m0 0h0m0-9h0m1 10h0m0 1h0m0-4h0m0-6h0m1 6h0m0 5h0m0-11h0m1-2h0m0 8h0m0 1h0m0 2h0m1 2h0m0-7h0m2 6h0m0-1h0m0-8h0m0-2h0m1 6h0m2 5h0m0 1h0m2 0h0m1-5h0m3 6h0m1-3h0m1 0h0m1-2h0m1 4h0m1 0h0m1-2h0m0-6h0m1-2h0m1 9h0m2-3h0m1 5h0m0-6h0m0 1h0m4 3h0m1-8h0m2 7h0m0 0h0m26-9h0m3 6h0m11-3h0m10 3h0m49-9h0m-75 22h0m-10-2h0m-6 2h0m-2 8h0m-2-9h0m-1-5h0m-2 6h0m-1-6h0m-1 13h0m-1 1h0m-2-2h0m-2-4h0m-1 2h0m-2-1h0m0 3h0m-1-11h0m-1 10h0m-6-6h0m-1-3h0m-3 11h0m-1 1h0m0-5h0m0 3h0m-1 2h0m0-4h0m-1 2h0m0-7h0m-1 8h0m0-8h0m0 7h0m0 3h0m-1-14h0m0 11h0m-1-12h0m0 11h0m0-10h0m0 3h0m-1 3h0m-1 3h0m-1 1h0m0 1h0m-1 1h0m0-12h0m-1 1h0m-1 7h0m0-2h0m-1 6h0m0 1h0m0 0h0m-1-3h0m-1-9h0m0 11h0m-1-2h0m0-11h0m0 9h0m-1-3h0m0 0h0m-1 2h0m0 7h0m0-12h0m0 8h0m0 2h0m-1-2h0m0-10h0m0 4h0m0 3h0m-1-3h0m0 1h0m0 0h0m-1 0h0m0 7h0m0-10h0m0 5h0m0-5h0m-1 0h0m0 2h0m0 8h0m-1-10h0m0 12h0m-1-12h0m-1 5h0m0-2h0m0-6h0m0 9h0m0 1h0m-1-9h0m-1 8h0m0 6h0m0-10h0m0 9h0m-1-2h0m-1-5h0m-1 2h0m-1-7h0m0 10h0m0 3h0m-1-9h0m0 5h0m0-2h0m0-2h0m-1 6h0m0 0h0m-1-8h0m0-5h0m0 5h0m0 5h0m-1-3h0m0 0h0m0-4h0m0 6h0m0 5h0m-1-10h0m0 7h0m-1 3h0m0-6h0m0 5h0m0-7h0m0 4h0m0-5h0m-1-3h0m0 1h0m-1-1h0m0 2h0m0 3h0m0-2h0m-1 2h0m0 8h0m-1-5h0m0-7h0m-1-3h0m0 3h0m-1 3h0m0 0h0m0-5h0m0-1h0m-1 13h0m0-6h0m0 2h0m0-2h0m-1 5h0m0-10h0m-1-2h0m-1 6h0m0-4h0m0-2h0m0 8h0m0-3h0m-1-5h0m0 10h0m0 1h0m-1-4h0m0 1h0m0-1h0m-2 2h0m0 6h0m-1-5h0m0-3h0m0-3h0m0 6h0m-1-9h0m0 8h0m0 3h0m0-11h0m0 4h0m-1 8h0m-1-3h0m-2-9h0m0 10h0m-1-10h0m0 5h0m0 0h0m-1 7h0m0-5h0m0-1h0m0-3h0m-1 8h0m0 1h0m0-8h0m0 8h0m-1-8h0m0 8h0m0-10h0m0 6h0m-1 6h0m0-2h0m0-4h0m-1-9h0m0 5h0m-1-1h0m-1 7h0m0 3h0m0-1h0m-1-12h0m-1-1h0m-2 10h0m-2-1h0m0 3h0m0-5h0m0 8h0m0-9h0m-2-2h0m0 7h0m-2-9h0m-1 3h0m-1-5h0m-1 3h0m0 1h0m-1 2h0m0-2h0m0 7h0m-1-4h0m0 6h0m-1-10h0m0 8h0m-8-10h0m-1 14h0m0-2h0m-8 1h0m-1-13h0m-18-1h0m-13 19h0m26 7h0m8 3h0m6-10h0m5 6h0m3-9h0m1 5h0m1-5h0m1 5h0m5 0h0m1 8h0m1-1h0m3-5h0m1 2h0m2 3h0m0-6h0m2 6h0m0-3h0m0-5h0m1 4h0m1-3h0m0 0h0m1 2h0m0-6h0m0 0h0m2 0h0m1 10h0m1-11h0m0 10h0m0-10h0m0 1h0m1 9h0m1 2h0m1 0h0m1 3h0m1 0h0m0-4h0m1-9h0m0 3h0m0 0h0m1-5h0m0 3h0m1 4h0m0-3h0m0-2h0m1 0h0m0 4h0m2-1h0m0 5h0m0-8h0m1 8h0m1 0h0m0 3h0m1 0h0m0-5h0m0-1h0m1-1h0m2-2h0m0 5h0m0-3h0m1 2h0m0 0h0m0-6h0m1 9h0m1-6h0m0 7h0m1-12h0m0 12h0m0-7h0m1 8h0m0-7h0m0-1h0m1 4h0m0-8h0m1 4h0m1-1h0m0 2h0m0 0h0m0 4h0m1 2h0m0-7h0m0 8h0m0-12h0m0 2h0m2 7h0m0-1h0m0 5h0m1-5h0m0-9h0m0 0h0m1 13h0m0-8h0m1 7h0m0 2h0m0-11h0m0 6h0m0-5h0m0-1h0m1 10h0m0-7h0m0-1h0m0 2h0m1-6h0m1 0h0m0 11h0m0-3h0m2 2h0m0-8h0m1-3h0m0 5h0m0 2h0m0-6h0m0 5h0m1-3h0m0 4h0m1-1h0m0 0h0m0-3h0m0 11h0m2-2h0m0-3h0m1 3h0m0-9h0m2 7h0m0-1h0m1-8h0m0 13h0m1-3h0m0-8h0m0 4h0m2 5h0m0-11h0m0 7h0m1 0h0m0-4h0m0 1h0m1-3h0m0 4h0m0 3h0m0-2h0m1 1h0m0 3h0m0 4h0m1-7h0m1-5h0m0 0h0m0 11h0m0-3h0m1-3h0m1 2h0m0-10h0m0 3h0m2 3h0m2 9h0m1-8h0m0-6h0m0 7h0m1-4h0m1-1h0m1 2h0m0 3h0m1 4h0m1-10h0m0 12h0m1-4h0m0-9h0m2 12h0m1-9h0m3 4h0m3 2h0m0-7h0m2-3h0m0 13h0m2-3h0m1-2h0m2 5h0m0 1h0m3-2h0m1-7h0m1 8h0m2-11h0m40 10h0m-32 15h0m-7-5h0m-2-2h0m-5 5h0m-2 0h0m-3-6h0m-1 3h0m-1 4h0m-2-9h0m-1 4h0m-3-5h0m0 8h0m-3 1h0m-1-6h0m0-3h0m0 9h0m-2-3h0m-1 5h0m-1-11h0m-1 7h0m0-1h0m0 3h0m-2-4h0m-1-1h0m-1 8h0m-1 1h0m-1-10h0m-2-1h0m-1 5h0m0 0h0m0 1h0m-2-8h0m-5 3h0m0 10h0m0-2h0m-3 0h0m-1-3h0m0-5h0m0 8h0m-1-1h0m0-5h0m-1-1h0m0-3h0m0 8h0m0 2h0m-1-2h0m-1-1h0m0-5h0m0-1h0m-1-1h0m0 6h0m0 4h0m-1-3h0m-1 5h0m-3-1h0m-1-9h0m-1 7h0m-1 2h0m-1-7h0m-1-5h0m-1 6h0m-1-2h0m0 8h0m-1-5h0m-1-4h0m-1 6h0m0-8h0m0 10h0m-1-6h0m-3-2h0m-2 0h0m0 1h0m0-3h0m-7 6h0m-1-5h0m-1 12h0m0-3h0m-2 2h0m0 0h0m-3-9h0m0 6h0m-1-4h0m-4 7h0m-3-11h0m-2 0h0m0-2h0m-5 11h0m-4-1h0m-2-7h0m-4 1h0m-26-3h0m-14-1h0m37 22h0m24 2h0m2-8h0m6 2h0m5 1h0m7 5h0m3-7h0m7-1h0m0 4h0m8 9h0m2-3h0m3-5h0m2-1h0m1 4h0m1-2h0m2-5h0m0-1h0m0 0h0m0 12h0m10-9h0m2 4h0m4-5h0m1-2h0m3 9h0m2 1h0m5-2h0m3-2h0m7-1h0m1 9h0m0-3h0m4-4h0m-29 14h0m-1-4h0m-1 3h0m0 4h0m0 4h0m-7 0h0m0-9h0m-11-2h0m-18 2h0m117 17h0m-114 27h0m131 9h0" stroke="#0000b4" stroke-opacity="0.5" stroke-width="4.0" stroke-linecap="round" fill="none"/>
<path d="M257 127h0m-61-15h0m-2 1h0m-43 18h0m3 6h0m24-5h0m23 5h0m21 2h0m6-4h0m34 16h0m-14 5h0m-7-5h0m-13 8h0m-2-3h0m-3 3h0m-4-6h0m-1-2h0m-1 0h0m-6 8h0m-16-2h0m-33-13h0m-6 12h0m3 11h0m6-4h0m6 3h0m2 3h0m3 5h0m7-6h0m1 1h0m0 5h0m2-9h0m1 3h0m7-3h0m1 7h0m5-1h0m0 1h0m1 1h0m0-4h0m1-2h0m2-2h0m6 5h0m6 4h0m1-2h0m3-10h0m0 0h0m1 7h0m8 6h0m3-2h0m1-11h0m2 13h0m4-6h0m4-9h0m1 15h0m0-15h0m4 14h0m0-10h0m6 6h0m7 3h0m9-4h0m28 0h0m9-6h0m1-1h0m13 26h0m-34 1h0m-2-5h0m-1 2h0m-8-3h0m-4-3h0m-2 10h0m-3 0h0m-1-7h0m-4 6h0m-4 1h0m-3-2h0m-1-3h0m-2-7h0m-1 6h0m-3 3h0m-2-5h0m-1 5h0m0 4h0m-1-1h0m-1-7h0m0 6h0m0-13h0m0 0h0m0 8h0m-1 2h0m0-2h0m-1 6h0m0-2h0m-1-5h0m0 2h0m-1-2h0m-1-6h0m-1 1h0m-1 13h0m-1-1h0m0-6h0m0 2h0m-1-8h0m0 3h0m-3-3h0m0 3h0m-1-4h0m0 11h0m-2-10h0m0 12h0m-1-5h0m-2 0h0m-1 4h0m-1-1h0m-2 3h0m0-9h0m-1-5h0m-2 13h0m0-2h0m-1 3h0m-1-1h0m-1-4h0m-1-4h0m0-1h0m0 4h0m0 1h0m-2-7h0m0 2h0m-1 3h0m0 7h0m-2-11h0m0-1h0m-2 10h0m0-13h0m0 6h0m-1 7h0m0-13h0m-1 13h0m-1-6h0m0 2h0m0-5h0m-3 5h0m0-9h0m0 0h0m0 8h0m-1 4h0m-1 0h0m-1 2h0m-1-13h0m-1 12h0m-2 2h0m0-7h0m0-6h0m-1 11h0m0 0h0m-1-11h0m-1 0h0m0 3h0m-1 7h0m0-3h0m-1-9h0m0 14h0m-5-2h0m-1-2h0m-1-8h0m-2 11h0m0-5h0m-3 1h0m0-4h0m-1 5h0m-3 1h0m-1 2h0m-2 1h0m-1 0h0m-7-6h0m-4-3h0m-2 1h0m-7 2h0m10 13h0m6 0h0m3 7h0m1 1h0m0-7h0m3-1h0m3 0h0m5-1h0m0 3h0m2 4h0m1 1h0m0 0h0m0 1h0m0-11h0m2 8h0m0-5h0m0 3h0m1-8h0m1 2h0m0 2h0m1 6h0m0 2h0m1-5h0m0 1h0m1 3h0m1-10h0m0 6h0m1 5h0m0-11h0m2 12h0m0-11h0m0 5h0m1 4h0m2 2h0m1 0h0m0-5h0m2 6h0m1-6h0m1 3h0m1-10h0m0 8h0m1-3h0m1 4h0m0 3h0m0-2h0m0-7h0m1-2h0m0-1h0m2 1h0m0 9h0m1 0h0m1 0h0m3-6h0m0-1h0m0-4h0m0 0h0m0 4h0m1 9h0m0-4h0m0 1h0m1-4h0m0-3h0m0 5h0m0 2h0m2-2h0m0 4h0m0 1h0m0-1h0m1 2h0m0-5h0m1-7h0m0-1h0m0 13h0m1-4h0m0-4h0m0 2h0m0 7h0m1 0h0m1-11h0m0 11h0m0 0h0m1-5h0m0-3h0m0-4h0m1 10h0m1-12h0m0 3h0m1 2h0m0 7h0m0-2h0m3 3h0m0-4h0m1-5h0m0 10h0m1-1h0m0-6h0m1-2h0m0-5h0m0 10h0m1-8h0m0-3h0m1 13h0m0-6h0m1 2h0m0 3h0m0-11h0m1 6h0m0 7h0m2-4h0m0-5h0m0 8h0m0-12h0m0 13h0m1-10h0m0-1h0m0-3h0m1 13h0m1-9h0m0 10h0m0-1h0m0-7h0m0 3h0m0-1h0m1-8h0m0 5h0m0-3h0m1 9h0m0-10h0m0 8h0m0 5h0m0-9h0m1 9h0m0-14h0m0 1h0m0 2h0m1 6h0m0 1h0m2-1h0m0-6h0m0-1h0m0 5h0m1-3h0m0 10h0m1 0h0m1-10h0m1 0h0m0 7h0m1 4h0m1-13h0m0 3h0m0 5h0m1-6h0m0-3h0m0 13h0m2-4h0m1-6h0m0-2h0m0 7h0m1 3h0m0-5h0m0 8h0m1-8h0m0-5h0m0 11h0m1-5h0m1 5h0m0-2h0m0 4h0m1-1h0m0-8h0m1 2h0m0 7h0m3-7h0m0-5h0m0 8h0m1-4h0m1-3h0m0 0h0m0 0h0m1 7h0m0-5h0m1 1h0m2 0h0m3 5h0m7-9h0m1 11h0m4 0h0m1-11h0m0 6h0m4-9h0m0 5h0m0 2h0m4 4h0m1-8h0m5 2h0m21 16h0m-6 2h0m-5-1h0m-22 7h0m-4-1h0m-2-12h0m0 0h0m-2 5h0m-1-1h0m-2-1h0m-1-1h0m0 2h0m0 3h0m-3 5h0m-1-6h0m0 2h0m0-3h0m-1 3h0m0-7h0m0 5h0m-1 8h0m0-10h0m-3-2h0m0 9h0m0-4h0m-1 7h0m-1-9h0m-2 8h0m0-2h0m-1-11h0m-1 10h0m0-8h0m0 13h0m0-10h0m-1 8h0m0 1h0m0-3h0m0-2h0m0-9h0m-1 15h0m-2-15h0m0 12h0m0-4h0m-2 5h0m0-1h0m-1-2h0m-1-6h0m-1 11h0m-1-13h0m0 13h0m-1-14h0m0 14h0m0-11h0m0 8h0m0-7h0m0-3h0m0 0h0m0 7h0m-1 2h0m0-8h0m-1 1h0m0 11h0m-1-14h0m0 11h0m-1-6h0m0 2h0m-1 2h0m0 0h0m-1-10h0m0 0h0m0 14h0m0-5h0m0-4h0m-1-3h0m0 4h0m0-5h0m0 0h0m-1 13h0m-1-1h0m0 0h0m-1-13h0m0 0h0m-1 13h0m0-13h0m-1 13h0m-1 0h0m0-8h0m0 2h0m-1 8h0m0-2h0m-1-13h0m0 5h0m0 10h0m-1-7h0m0-2h0m-1-3h0m0 3h0m0 6h0m0-3h0m0-5h0m-1 0h0m0-1h0m0 9h0m0 3h0m-1-12h0m0 12h0m0 0h0m0-15h0m0 6h0m0-4h0m-1 8h0m0-8h0m-1 0h0m0 10h0m0 2h0m0-9h0m0 5h0m-1-7h0m-1 10h0m0 1h0m0-3h0m-1 2h0m0-1h0m-1-5h0m0 4h0m0-9h0m-1 10h0m0-5h0m-1-3h0m0 3h0m0 5h0m-1-1h0m0 1h0m0-9h0m-1 2h0m0-2h0m0 10h0m0-7h0m-1 5h0m0-10h0m-3 3h0m0 11h0m-1-4h0m0-7h0m-1 0h0m0-4h0m0 15h0m-1-13h0m0 8h0m0-1h0m0-1h0m-1 2h0m0 4h0m-1-8h0m0 1h0m0 8h0m-1-11h0m0 7h0m-1-7h0m-1-1h0m0-1h0m0 11h0m-1-6h0m0 6h0m0 2h0m0-12h0m-1-2h0m0 1h0m0 8h0m0-1h0m-1-2h0m0-5h0m-1 12h0m0-2h0m-1-9h0m-1 6h0m0-8h0m0 5h0m-1 9h0m0-2h0m-1-13h0m0 1h0m-1 4h0m0 10h0m-2-14h0m0 12h0m-1-6h0m-1-6h0m-1 3h0m0-1h0m0-1h0m-2 11h0m0-9h0m-1-4h0m-4 4h0m0 9h0m-1-13h0m0 3h0m-2 6h0m0 0h0m-1-5h0m0 4h0m0 2h0m-1 1h0m-1-8h0m0 6h0m0 0h0m0 3h0m-1-12h0m-1 14h0m0-9h0m-2 0h0m-5-4h0m-1 13h0m-9-9h0m0 8h0m-6-10h0m-44 10h0m48 10h0m11-6h0m1 9h0m2-3h0m11 6h0m1 2h0m2-9h0m3-5h0m0 8h0m2-4h0m2-2h0m2-3h0m0 4h0m0-2h0m0 0h0m1-2h0m3 0h0m1 7h0m0-4h0m0 12h0m1-11h0m1 5h0m1-6h0m1-1h0m0 1h0m0 2h0m1 2h0m0-6h0m0 6h0m1-1h0m0 1h0m0 0h0m1 6h0m1-8h0m0-5h0m0 7h0m1-7h0m1 2h0m1 5h0m1 6h0m0-1h0m0-5h0m1-5h0m0 0h0m0 10h0m1-7h0m0-5h0m0 2h0m1 1h0m0 11h0m1-5h0m1 6h0m0-15h0m2 3h0m0 1h0m1 11h0m1-15h0m1 5h0m0 3h0m1 1h0m1-8h0m0 2h0m0 3h0m2 4h0m0-9h0m1 8h0m0-5h0m0 3h0m1-7h0m0 11h0m0-8h0m0 4h0m0-3h0m0-4h0m0 9h0m1 0h0m2-8h0m0 12h0m1-8h0m0 9h0m0-4h0m0-1h0m0 1h0m1-6h0m0 2h0m1 7h0m0-8h0m1-4h0m0 13h0m0-13h0m1 11h0m0-6h0m0-6h0m1 5h0m0 5h0m0 5h0m1-12h0m0 9h0m1-3h0m0-7h0m0 6h0m1 2h0m0 1h0m0-4h0m0 2h0m2 3h0m0 1h0m1-10h0m1 4h0m0 2h0m1 3h0m0-7h0m1 10h0m0-3h0m1 3h0m1-7h0m0-1h0m0 4h0m1-10h0m1 8h0m0-6h0m0-1h0m1-2h0m1 14h0m0-4h0m0-10h0m1 6h0m1-3h0m1-1h0m0 4h0m0-3h0m0 2h0m1 7h0m0-9h0m0 2h0m1-2h0m0 10h0m2 1h0m0 1h0m0-10h0m2 3h0m0 5h0m1 0h0m0 2h0m0-11h0m0-2h0m0 0h0m0 7h0m0 4h0m2-6h0m1 8h0m0-12h0m0-1h0m1 7h0m1-1h0m1-2h0m4-4h0m0-1h0m0 1h0m2 5h0m0 2h0m0 4h0m0 1h0m1-13h0m1 2h0m0-1h0m1 7h0m0-6h0m2 9h0m0-9h0m1 5h0m0 4h0m2-3h0m2 3h0m2-11h0m1 13h0m5-11h0m1-3h0m2 11h0m1-11h0m6 7h0m1 5h0m3 0h0m13 9h0m-1-3h0m-19-1h0m-7 12h0m0-13h0m-1 0h0m-1 2h0m-5 0h0m-2 1h0m-5-1h0m0-2h0m-1 1h0m-5 0h0m-1 0h0m-1 6h0m-7 0h0m-1 2h0m0-6h0m0 10h0m-1-2h0m-1-5h0m0-6h0m-3 11h0m-1-7h0m0-3h0m-1 0h0m0 8h0m0-7h0m0 3h0m-1 4h0m-1 5h0m0-14h0m-1 4h0m-3-2h0m0 5h0m-1-4h0m0 1h0m-1-3h0m-2 2h0m0-1h0m-1-2h0m-2 4h0m0 2h0m-2 8h0m-1 1h0m0-5h0m-1-1h0m-1-8h0m0-1h0m-1 10h0m0-7h0m-1 8h0m0-4h0m-1-6h0m0 6h0m-2 3h0m-2-9h0m-1 13h0m0-8h0m-1-4h0m-2 11h0m-1-1h0m0 3h0m-3-5h0m-4-6h0m0-3h0m-1 7h0m0 1h0m-2-3h0m-1 6h0m-1-3h0m0-9h0m0 4h0m0 0h0m-3-1h0m-2 3h0m0 8h0m-1-10h0m-5 0h0m-3 1h0m-8 7h0m-9-6h0m-6 4h0m-2-7h0m-2 9h0m-5-9h0m-4-3h0m6 29h0m17-1h0m25-10h0m1-2h0m0 10h0m8-5h0m2-5h0m1 0h0m0 2h0m2 0h0m1 3h0m6 1h0m0 3h0m1 1h0m5-9h0m3 0h0m2 10h0m1-4h0m2 1h0m2 2h0m2 3h0m4-6h0m1 1h0m11-4h0m1-1h0m1-1h0m5 9h0m6-8h0m1 10h0m1-4h0m1-5h0m14 3h0m22-7h0m45 21h0m-56 6h0m-33-4h0m-17-1h0m-1 3h0m-23-7h0m-4 9h0m-35-10h0m5 15h0m76 6h0" stroke="#0000b4" stroke-opacity="0.5" stroke-width="4.0" stroke-linecap="round" fill="none"/>
<path d="M207 90h0m-20 0h0m-90 15h0m126 6h0m135 1h0m-196 8h0m-52 11h0m14 6h0m52 6h0m32-2h0m124 18h0m-70-7h0m-30 3h0m-7 4h0m-9-15h0m-17 15h0m-16-5h0m-3 4h0m-14 1h0m-2-3h0m-20 10h0m26-2h0m3 8h0m0-2h0m1-3h0m1 8h0m3 0h0m1-1h0m7-6h0m3 7h0m3-6h0m16-4h0m0 4h0m1-7h0m10 9h0m1 4h0m2-9h0m1-1h0m1 2h0m0 8h0m0-8h0m1-3h0m2 7h0m1 4h0m0-1h0m3-1h0m2-1h0m3 1h0m1-11h0m6 1h0m1 8h0m3-1h0m8-2h0m7-2h0m41-1h0m17 9h0m38-5h0m21 2h0m-75 20h0m-13-6h0m-7-4h0m-1-3h0m-4 9h0m-2-6h0m-2-2h0m-2 1h0m-3 8h0m0 1h0m-3 2h0m-4 0h0m-5-3h0m-1-6h0m-2-2h0m-3 9h0m-3 2h0m-2-15h0m-4 14h0m0-7h0m-1 7h0m-1-12h0m-4 3h0m0-2h0m-4-1h0m0 7h0m-1 0h0m0 6h0m0-2h0m-1-6h0m0 6h0m-2-9h0m-2 8h0m-1 0h0m-1-1h0m-1-6h0m-1 5h0m0-1h0m-1-6h0m0 1h0m0 8h0m-1 2h0m-1-13h0m-1 14h0m-2-12h0m0 12h0m0 0h0m0-5h0m-1-9h0m-1 5h0m-1-6h0m-1 12h0m-2 1h0m-2-13h0m0 3h0m-1 6h0m-2-7h0m0 11h0m-1-2h0m-2-1h0m-4-6h0m0 9h0m-2-2h0m-1 3h0m-3 1h0m-1-4h0m0 3h0m0-8h0m0-2h0m-1-2h0m-1 1h0m-2 4h0m0 5h0m-1-10h0m-1 5h0m0 2h0m-1-5h0m-1 8h0m0-2h0m-2 0h0m0-4h0m-1-4h0m0 5h0m-1 1h0m0 0h0m-1 4h0m-3 0h0m-3 2h0m-1-6h0m-11-3h0m-7 10h0m-3-10h0m-1 10h0m-2-11h0m-18 3h0m16 9h0m3 11h0m1 2h0m8 1h0m14-2h0m1-12h0m1 6h0m0 7h0m3-7h0m4 4h0m2 2h0m0-1h0m1-2h0m2 0h0m0-3h0m1-4h0m1 1h0m3 7h0m1-7h0m1 4h0m1-6h0m0 3h0m1-3h0m2 3h0m0 2h0m1-2h0m1 3h0m1-1h0m0 6h0m0-5h0m1 2h0m1-8h0m1 14h0m1-5h0m2-9h0m2 6h0m1 0h0m0 3h0m1 1h0m0-2h0m0 2h0m0 1h0m0 1h0m1-1h0m0-8h0m1 5h0m1-8h0m1-1h0m0 7h0m0-7h0m0 15h0m2-8h0m1-4h0m0 0h0m1 7h0m0 5h0m0-9h0m0-2h0m0-1h0m1 5h0m0 7h0m1-3h0m0-10h0m1 13h0m0-2h0m0-2h0m1-6h0m1 0h0m0 8h0m0-12h0m0 1h0m0 13h0m0-6h0m1 1h0m0-2h0m1-4h0m0 11h0m0-14h0m0 14h0m2 0h0m0-13h0m0 5h0m1-2h0m1 8h0m0 1h0m0-6h0m0-1h0m1-5h0m0 12h0m1-8h0m0 6h0m0-8h0m1 9h0m0 2h0m1-11h0m0 9h0m0-5h0m1 3h0m0-3h0m0 4h0m0-11h0m1 0h0m0 12h0m0-5h0m1 3h0m0-1h0m1 5h0m0 0h0m1-6h0m0 1h0m0 0h0m1 4h0m0 1h0m0-10h0m0 8h0m0-9h0m1 2h0m0 4h0m0-8h0m1 3h0m0 5h0m1 5h0m0 0h0m1-1h0m0-7h0m1 4h0m0-10h0m0 5h0m1-1h0m1 4h0m0 5h0m0 1h0m0-6h0m0-9h0m1 11h0m1-6h0m0 1h0m2 5h0m0 0h0m1 4h0m2-8h0m1 5h0m1-3h0m0 1h0m1 4h0m0-8h0m0 0h0m2-1h0m1 0h0m2 10h0m0-10h0m1-5h0m0 11h0m0-5h0m1 6h0m0 1h0m1 1h0m0-10h0m0 1h0m1 9h0m2-3h0m3 3h0m1-1h0m1 2h0m0-1h0m3-9h0m2 5h0m0-1h0m1 5h0m2-3h0m0-7h0m3 5h0m0 5h0m4-11h0m1 10h0m1-2h0m1-8h0m2 4h0m1 5h0m1-12h0m5 13h0m0-4h0m3 4h0m18-4h0m46-8h0m11 17h0m-43-1h0m-18 7h0m-6-3h0m-2 7h0m-3-5h0m-11 2h0m-1-6h0m-3 2h0m0-4h0m-2 8h0m-2-4h0m-1 4h0m-2-5h0m-3 6h0m0 3h0m0 2h0m-1-9h0m-1-6h0m0 6h0m-1-4h0m-2 8h0m0 0h0m-2 1h0m-1-4h0m-1 8h0m0-7h0m0-3h0m-1-1h0m-1 8h0m0 2h0m0-4h0m0 4h0m-2 0h0m-1-2h0m0-5h0m0-5h0m-1 9h0m-1-3h0m0 0h0m0-3h0m-1 8h0m-1-1h0m-1-5h0m0 0h0m-1 8h0m0-14h0m-1 2h0m0 12h0m-1-1h0m0-13h0m-1 11h0m-1-7h0m0 8h0m0-2h0m-1-1h0m0-10h0m-1 10h0m0-9h0m0-1h0m0 3h0m-1 2h0m-1 3h0m0-2h0m0 4h0m0 2h0m0-6h0m-1-2h0m0 4h0m-1-1h0m-1-5h0m-1 6h0m0 4h0m0 0h0m-1-2h0m0-4h0m0 2h0m0-8h0m0 2h0m0 9h0m-1 2h0m0-1h0m-1-10h0m0 2h0m-1 7h0m-1-8h0m0 3h0m-1-6h0m0 9h0m-1-3h0m0 9h0m0-10h0m0 4h0m-1 6h0m0-4h0m0-11h0m0 3h0m-1 3h0m0 8h0m-1-4h0m0 5h0m-1-11h0m0 1h0m-1 0h0m0 3h0m0 5h0m0 1h0m0-9h0m-1-1h0m0-3h0m0 7h0m0 6h0m0-8h0m-1 4h0m0-4h0m0 7h0m-1-1h0m-1-8h0m0-3h0m0 1h0m-1 3h0m0-5h0m0 7h0m0-2h0m-1 2h0m0-4h0m0 11h0m0-4h0m-1 3h0m0-6h0m0-2h0m-1 10h0m0-6h0m-1 0h0m0-4h0m0 4h0m0 5h0m0-8h0m0-3h0m-1 9h0m-1-11h0m0 13h0m0-2h0m-1-6h0m0-2h0m0 11h0m0-13h0m-1 11h0m-1-13h0m0 1h0m0 6h0m0-3h0m0 11h0m0-15h0m-1 15h0m0-14h0m0 1h0m0 4h0m0-4h0m0-1h0m0 11h0m-1 0h0m0-1h0m0 4h0m-1-6h0m-1 4h0m0 2h0m0-13h0m-1 0h0m-1 9h0m0-10h0m0 9h0m-1-10h0m-2 11h0m0 4h0m0 0h0m0-6h0m0-8h0m0 12h0m-2 1h0m0-9h0m0 0h0m0-2h0m-1 1h0m0 0h0m-1 1h0m0 0h0m0-5h0m-1 12h0m0-6h0m0-1h0m-1 8h0m0-3h0m-1-2h0m0 5h0m0-8h0m0-3h0m-1-2h0m-1 11h0m-1-11h0m0 14h0m-1-8h0m-2 4h0m0-8h0m-1-1h0m-1 14h0m-1-15h0m0 11h0m-1-5h0m0 9h0m0-14h0m-2 7h0m-1-6h0m-1 11h0m-1 1h0m-1-12h0m-1 12h0m-2 0h0m-1-5h0m-1 6h0m-2-6h0m-3-2h0m-1 3h0m-2-9h0m0 9h0m-2-6h0m-6-2h0m-7 8h0m-2-7h0m-8 10h0m0-5h0m-1 3h0m24 16h0m6-1h0m2-2h0m2 0h0m3-8h0m1 8h0m7-1h0m1 3h0m2-4h0m1-1h0m1 2h0m2 5h0m1-3h0m0-5h0m1-3h0m3 14h0m0-14h0m1 1h0m1-1h0m1 8h0m0-6h0m1 3h0m1 7h0m0-7h0m0 2h0m1 1h0m0 1h0m1-1h0m1-5h0m1 10h0m2-4h0m1 0h0m1 5h0m0-14h0m0 11h0m1-5h0m1-7h0m1 6h0m1 5h0m1 4h0m0-2h0m0-6h0m1-5h0m1 0h0m1 7h0m0 3h0m1-1h0m0-5h0m0-2h0m0 9h0m1-12h0m0 4h0m0-1h0m0 7h0m1-1h0m0-7h0m0-3h0m2 7h0m0 6h0m0 0h0m1-9h0m0-2h0m1 4h0m0-3h0m0 3h0m0 3h0m0 3h0m1-2h0m0 4h0m0-12h0m0 11h0m1-13h0m0 12h0m0-1h0m1-9h0m0 6h0m0 6h0m1 1h0m0-9h0m1-6h0m0 8h0m0 2h0m0 0h0m1-2h0m0 6h0m0 0h0m0-8h0m1 0h0m0-2h0m1 11h0m0-10h0m0-4h0m0 5h0m0 5h0m0-8h0m0 6h0m1 2h0m0-5h0m1 1h0m0 2h0m0 5h0m0-12h0m0 13h0m2-3h0m0-3h0m0-5h0m0 10h0m1-3h0m0-8h0m1-1h0m0 11h0m1-9h0m0-2h0m1 2h0m0-1h0m0 6h0m1 0h0m0-4h0m1-4h0m0 8h0m0-4h0m1-3h0m0 0h0m0-2h0m1 12h0m1-3h0m0 6h0m1-12h0m0 11h0m0-2h0m0-1h0m1-1h0m1 4h0m0-12h0m0 9h0m0-3h0m1-6h0m0-2h0m0 10h0m1-10h0m1 15h0m1-14h0m0 0h0m0 10h0m2-5h0m1 5h0m2-3h0m0-5h0m0 1h0m0 9h0m1-9h0m1 9h0m0-1h0m0-8h0m0 7h0m0-3h0m2-4h0m1-3h0m1 4h0m1 7h0m0-10h0m0-1h0m1 9h0m0-9h0m1 3h0m0 4h0m0-5h0m0-1h0m1 9h0m0 4h0m1-14h0m0-1h0m0 1h0m1 11h0m2-10h0m0 0h0m0 10h0m2-12h0m0 1h0m2 12h0m6-11h0m1 4h0m9 2h0m13 1h0m0-5h0m16 10h0m38-8h0m-49 11h0m-2 14h0m-6-15h0m-8 6h0m-4 7h0m-1-12h0m-15 11h0m-1-11h0m-3 2h0m-1 4h0m0-7h0m-1 11h0m-1-1h0m-2-4h0m-2-1h0m0 7h0m-2-7h0m0 1h0m0-3h0m-1 4h0m0-7h0m-2 9h0m-2 1h0m-1-3h0m-1 7h0m-1-9h0m-1 6h0m0 3h0m-1-9h0m0 0h0m-3 1h0m-3 3h0m-1-3h0m-1-6h0m-1 12h0m-3 0h0m0-9h0m-2 8h0m0-9h0m0 3h0m-1 2h0m-1-7h0m0 1h0m-2 10h0m-1-9h0m0 3h0m0 6h0m-1-6h0m0 6h0m0-7h0m-1-3h0m-1 11h0m-2 1h0m0-12h0m-2 0h0m0 1h0m-3-1h0m-1 2h0m-1-3h0m0 13h0m0-9h0m-1-2h0m-1 13h0m0-14h0m-1 3h0m-2-2h0m-1-2h0m0 9h0m-2 6h0m0-8h0m-1 7h0m0-12h0m-1 0h0m0 8h0m-1-10h0m0 2h0m-2 5h0m0-7h0m-1 6h0m0-1h0m-1-2h0m0 11h0m-4-13h0m-2 6h0m-1-6h0m0 14h0m-5-13h0m-4 2h0m-12 2h0m-2 6h0m0-10h0m-2 3h0m-12-5h0m13 20h0m15 10h0m8-5h0m11 4h0m2-2h0m15-2h0m1-8h0m6 0h0m0 6h0m0 6h0m1-9h0m2 1h0m2 4h0m3-6h0m1 1h0m4-2h0m3-1h0m0 14h0m1-11h0m1 11h0m1-6h0m3-7h0m1 10h0m1-2h0m4-3h0m6 2h0m0-5h0m11-3h0m0 5h0m2-4h0m3 7h0m1-3h0m6 2h0m5-3h0m6 2h0m76-5h0m-27 24h0m-29-1h0m-33-9h0m-1 0h0m-25 6h0m-1-6h0m-22 3h0m-27-3h0m22 29h0m36-7h0m23 9h0m-6 7h0m-148-6h0m150 38h0m-106 7h0" stroke="#0000b4" stroke-opacity="0.5" stroke-width="4.0" stroke-linecap="round" fill="none"/>
<path d="M118 235h0m79-9h0m1 3h0m-33 23h0m-5-6h0m-59 14h0m26 10h0m25-2h0m14 2h0m6-13h0m2 2h0m2 1h0m6 11h0m12-6h0m1 4h0m0-8h0m5 1h0m13 9h0m105 12h0m-44-10h0m-28 9h0m-18-6h0m-5 5h0m0-2h0m-6 6h0m-2-8h0m-1 6h0m0-3h0m-1-4h0m-4-3h0m-1 11h0m-1-1h0m-6 4h0m-2-12h0m0 10h0m-1-7h0m0 9h0m-3-3h0m0-1h0m-1 2h0m-1 2h0m-1-5h0m-5 1h0m0-2h0m-4-9h0m-2 7h0m-2 0h0m-2 8h0m-7-7h0m-3-6h0m-4 11h0m-2-4h0m0-2h0m-4 5h0m-7-1h0m-1 4h0m-3-9h0m-10 6h0m-11-10h0m-16 15h0m19 5h0m4 3h0m11-3h0m1 5h0m2-9h0m1 10h0m3-2h0m0-8h0m2 6h0m5-5h0m2 10h0m5-2h0m0-11h0m1 12h0m1-1h0m0-7h0m2 9h0m2-2h0m0-4h0m1 0h0m0 2h0m0 6h0m0-9h0m1 4h0m4-2h0m0-1h0m1 1h0m1 5h0m1-11h0m1 12h0m1-7h0m2 6h0m1-2h0m0 0h0m0-1h0m3 3h0m1-8h0m0 2h0m0-6h0m0 13h0m1-11h0m0-1h0m1 0h0m0 9h0m0-3h0m1 2h0m2 2h0m1-7h0m3-3h0m0 10h0m0-4h0m0 5h0m1-6h0m1-2h0m1 1h0m0 8h0m0-3h0m0 2h0m0-7h0m0 0h0m1 9h0m1-12h0m0 3h0m0 8h0m0-14h0m1 6h0m1-2h0m0 9h0m0-10h0m1 7h0m1 1h0m1-6h0m1 2h0m0 2h0m0-4h0m1 3h0m0-5h0m1 7h0m1 4h0m1-1h0m2-4h0m2-2h0m0-5h0m1 3h0m1 0h0m0 8h0m0 1h0m0-11h0m0 12h0m1-14h0m0 12h0m0-9h0m3 11h0m2-11h0m0 3h0m1 5h0m0 1h0m1-3h0m2 2h0m1 1h0m0-3h0m1 4h0m4-12h0m0 9h0m3-7h0m3 2h0m0 9h0m0-15h0m1 4h0m7 11h0m0-14h0m1 0h0m2 13h0m4-4h0m2-7h0m11 9h0m29-11h0m-10 30h0m-10-5h0m-6 1h0m-3-6h0m-4-5h0m-9 2h0m-3 0h0m0 2h0m0 3h0m-4 7h0m-2-6h0m-1 2h0m-2-6h0m0 11h0m-3-5h0m-1 4h0m-4-5h0m0 4h0m0-12h0m0 13h0m-1-2h0m-2 1h0m0-9h0m0 8h0m-1-10h0m-1 5h0m0-2h0m0-4h0m-1 9h0m0 2h0m-1-7h0m-1 3h0m-1-7h0m0 14h0m-2-9h0m0-4h0m-1-2h0m-1 10h0m-1 2h0m0-3h0m-1-6h0m0 6h0m0 0h0m-2-2h0m-1 5h0m-1-3h0m0 4h0m0-6h0m-1 8h0m0-6h0m-2-1h0m0-5h0m0 5h0m-1-7h0m-2 5h0m-1-4h0m0-2h0m0 13h0m-1-3h0m0-9h0m-1 3h0m0-2h0m0 12h0m0-1h0m0-7h0m-1-6h0m0 9h0m-1-1h0m0 0h0m0-7h0m0 6h0m0-7h0m0 7h0m0-7h0m0 13h0m-3-3h0m0-3h0m0 6h0m0-1h0m-1-1h0m0-9h0m0 7h0m0 1h0m0-7h0m0 7h0m0-4h0m-1 1h0m-1 0h0m0 6h0m-1-1h0m0-5h0m-1 2h0m0-3h0m-1-2h0m0 7h0m0-7h0m0 7h0m0 2h0m-1-7h0m-1-4h0m0 6h0m-1-1h0m0 2h0m-1-8h0m0 4h0m-2-1h0m0-2h0m-1 5h0m0 4h0m0 1h0m-1-4h0m0-1h0m0-5h0m0 0h0m-1 11h0m0-10h0m0-1h0m-1 0h0m-1 2h0m0 1h0m-1 5h0m0-8h0m0 8h0m0-2h0m0 6h0m-2-8h0m0 2h0m-1 1h0m0-4h0m-1 4h0m0 2h0m0-1h0m-1 2h0m-1 3h0m0-13h0m0 12h0m-1-13h0m0 3h0m-1 8h0m0-10h0m-1 4h0m-1-5h0m-1-1h0m0 12h0m-1-3h0m0-8h0m0 5h0m-1-3h0m-1 9h0m-1-5h0m0 0h0m-3-2h0m-1 6h0m0-10h0m0 12h0m-1-3h0m0 5h0m-2-10h0m0 1h0m-1 1h0m0-3h0m0-3h0m0 7h0m-1 0h0m0-6h0m0 11h0m-4 0h0m-3-2h0m0-2h0m-2 5h0m-1 1h0m-4-2h0m-1-7h0m0 1h0m-3 7h0m-4-3h0m-2-4h0m-3 4h0m-1-4h0m-1 5h0m-8-8h0m2 19h0m0-7h0m2 8h0m7 0h0m2-7h0m2 3h0m3-2h0m2-2h0m1 11h0m4-3h0m0-8h0m1 3h0m0 11h0m0-6h0m1-2h0m0 9h0m2-12h0m0 8h0m1-4h0m2-1h0m2-6h0m1 9h0m1 1h0m1-3h0m0-3h0m1-4h0m0 14h0m1-14h0m1 11h0m1 1h0m0-5h0m1 8h0m1-8h0m0 2h0m1-3h0m1 5h0m0-9h0m0 3h0m1 1h0m1 5h0m0-7h0m1-2h0m2 10h0m0-3h0m0 0h0m0-9h0m1 3h0m0 2h0m1 6h0m0-8h0m1 7h0m0 3h0m1 1h0m1-6h0m1 3h0m1-3h0m0-6h0m0 9h0m0-1h0m1-10h0m0 6h0m0-1h0m0 5h0m1-3h0m1 5h0m0-1h0m0-5h0m1 0h0m0-1h0m1 7h0m0-7h0m1 5h0m0-9h0m0-1h0m1 15h0m1-2h0m0-7h0m0 8h0m0-12h0m0-1h0m1 4h0m0 6h0m0-11h0m1 13h0m0-12h0m0 11h0m0 2h0m1-9h0m0 2h0m0 8h0m1-15h0m0 12h0m0-2h0m0 0h0m0 4h0m1 1h0m0-4h0m0-1h0m0-10h0m0 1h0m0 9h0m0 4h0m0-9h0m1-5h0m1 6h0m1 1h0m0-7h0m1 8h0m0 4h0m0 0h0m1-3h0m0-8h0m0 2h0m1-3h0m0 7h0m0-1h0m1 2h0m0 6h0m0 1h0m1-2h0m0-5h0m0 0h0m1-6h0m0 12h0m0-9h0m0-3h0m1 6h0m0-4h0m0 10h0m1-4h0m0 4h0m1-6h0m0 7h0m0-14h0m0 7h0m0 7h0m1-8h0m0 2h0m0-4h0m0-1h0m0 6h0m0-1h0m1 4h0m0-6h0m0-2h0m0 8h0m1-5h0m2-4h0m0 10h0m0-8h0m1 0h0m0-1h0m0 2h0m1-1h0m0-4h0m1 7h0m0 6h0m0 0h0m2 0h0m0-3h0m1-4h0m0-4h0m1 8h0m1-9h0m0 10h0m0 2h0m0-3h0m0-5h0m1-5h0m0 9h0m0-7h0m1 9h0m1-12h0m0 14h0m1-11h0m0 4h0m1 3h0m0-4h0m0-1h0m0 1h0m1 6h0m2-11h0m1 6h0m0 5h0m2-6h0m1-4h0m0 4h0m1 6h0m1-2h0m3-9h0m1 0h0m0 0h0m2 0h0m0 7h0m2 5h0m1 0h0m0-10h0m1-4h0m4 13h0m8-9h0m5 3h0m10-2h0m2 5h0m-3 17h0m-2 0h0m-2 4h0m-1-4h0m-1 2h0m-2-4h0m-2 5h0m0-14h0m-2 4h0m-3 0h0m-2 0h0m-2 1h0m-2-2h0m0-1h0m-2 13h0m-1-15h0m-3 8h0m-1 0h0m0-1h0m-2-1h0m0-1h0m-1 6h0m0-8h0m-1 12h0m-1-6h0m-2-3h0m0 7h0m-1-13h0m0 0h0m0 9h0m-1 0h0m0 3h0m-2-1h0m0-3h0m-2-4h0m0 7h0m0-4h0m-1 7h0m-1-8h0m-1 0h0m0-1h0m-1 3h0m-1 4h0m-1-7h0m-1 1h0m0-3h0m-1 6h0m-1-7h0m0 8h0m0-7h0m-1-2h0m0-1h0m-2 3h0m-1 0h0m0 9h0m0-8h0m-2 5h0m0 0h0m0 0h0m0 3h0m0 1h0m0-10h0m-2 6h0m-1 5h0m0-10h0m0-1h0m-1 9h0m0-10h0m0 10h0m0-11h0m-1 7h0m0 3h0m-1 3h0m0-11h0m-1 8h0m0-9h0m0 7h0m-1 5h0m0 0h0m0-4h0m-1-3h0m0-3h0m0 2h0m0 6h0m0-10h0m-1 10h0m0-4h0m0 3h0m0-11h0m-1 9h0m0-2h0m0 2h0m0-7h0m-1 5h0m0 6h0m-1-8h0m-1-4h0m-1 11h0m0-5h0m-1 0h0m0-5h0m-1 10h0m0 2h0m0-7h0m-1-3h0m-1 2h0m-1 9h0m0-12h0m0 6h0m0-1h0m-1-2h0m0-2h0m-1 2h0m0-2h0m-1 11h0m-1-9h0m0-3h0m0 1h0m-1 8h0m0-12h0m-1 6h0m-2 2h0m0 1h0m0 0h0m-1-6h0m0 10h0m0-10h0m0-1h0m-1-1h0m0 8h0m-1-8h0m0 0h0m0 10h0m0-7h0m-1-4h0m-1 14h0m0-14h0m0 6h0m-1 3h0m0-8h0m0 11h0m-2 1h0m-1-3h0m-1-6h0m-1 3h0m-2 5h0m0-7h0m-2 3h0m0-3h0m0-5h0m0 9h0m-1-7h0m-2 3h0m0 0h0m-3-5h0m-2 2h0m0 1h0m0 9h0m-1-6h0m-5-3h0m0 4h0m-2-3h0m0 9h0m-4-6h0m-1-5h0m-3 5h0m-2 1h0m-2 0h0m0 1h0m-7-1h0m-3 0h0m-2-7h0m-4 7h0m0-4h0m-1-2h0m-11 20h0m12 8h0m11-7h0m14-2h0m2-3h0m3 7h0m5 2h0m1-4h0m2-5h0m6 0h0m0 5h0m1-4h0m2-1h0m2 9h0m1-8h0m3 7h0m0-6h0m1 0h0m0-4h0m0 14h0m1-12h0m0 2h0m1 7h0m1 1h0m1-11h0m0 4h0m1 0h0m0-1h0m1-1h0m0 9h0m2-10h0m0 0h0m1 11h0m2-13h0m0 8h0m2-7h0m0 13h0m1-7h0m0 8h0m1 0h0m2-13h0m0 4h0m3-6h0m0 11h0m2-8h0m1 6h0m0-5h0m2 7h0m3 4h0m0-14h0m2 3h0m1-4h0m0 1h0m0 0h0m0 5h0m1 0h0m1-5h0m1 2h0m0 8h0m0 1h0m1-11h0m2 1h0m0 1h0m0-3h0m0 0h0m1 7h0m0-1h0m2 0h0m0 4h0m1 3h0m0-8h0m2-5h0m1 11h0m1 0h0m5-4h0m5-7h0m4 6h0m1 8h0m1-14h0m3 5h0m0 7h0m2-11h0m1 10h0m0 0h0m10 2h0m3-4h0m1-5h0m2 8h0m0-5h0m9 3h0m5-1h0m0 14h0m-13 3h0m-13-8h0m-14-1h0m-9 12h0m-2-8h0m-5 0h0m-6 10h0m-2-3h0m-2-4h0m-5-3h0m-1 9h0m0-4h0m-3-2h0m-1-8h0m0 3h0m-7 5h0m-2-1h0m-3-5h0m-7-2h0m-4 6h0m-4-6h0m-2 8h0m-7-1h0m-3 7h0m-5-6h0m-7-6h0m-6 1h0m-1 0h0m-2 8h0m-12-9h0m55 20h0m4-2h0m5-4h0m5 12h0m0-12h0m6 0h0m11 2h0m2 9h0m3-4h0m7-6h0m15 4h0m26 8h0m6-12h0m-1 25h0m-31-9h0m-2 3h0m-29 6h0m-15-6h0m-14-4h0" stroke="#b00000" stroke-opacity="0.5" stroke-width="4.0" stroke-linecap="round" fill="none"/>
<path d="M149 163h0m54 27h0m52 31h0m-92 2h0m0 16h0m98 3h0m-42 3h0m-14 3h0m0-2h0m-67 3h0m6 13h0m7 3h0m1-8h0m6 6h0m3-4h0m24 8h0m6-3h0m12 7h0m1-2h0m14 2h0m2-1h0m57 17h0m-29-10h0m-5 0h0m-1 5h0m0-8h0m-5-2h0m0 4h0m-8 7h0m-1 4h0m-2-3h0m-6-3h0m-6 4h0m-2-10h0m-1 6h0m-1-3h0m0-3h0m-1 10h0m-2-4h0m-2 4h0m-1-9h0m-2-1h0m0 0h0m-2-2h0m-3 14h0m-6-2h0m-1 1h0m-1-7h0m-1 4h0m-1-5h0m-4 4h0m-2-8h0m-1 4h0m-4 4h0m-2-3h0m-1-4h0m-8 6h0m0-3h0m-3 4h0m-1-8h0m-3 6h0m0-6h0m-1 12h0m-2 1h0m-4-4h0m-4-2h0m-12 4h0m-6-1h0m-6-8h0m2 25h0m10-4h0m12-2h0m1-3h0m5 3h0m1 4h0m4 4h0m1-8h0m0-1h0m2-4h0m0-2h0m0 11h0m1-8h0m2 11h0m0-5h0m1-2h0m2 6h0m1 2h0m0 0h0m2-6h0m5-1h0m0-2h0m0 8h0m0-4h0m1-6h0m5 3h0m1-7h0m1 2h0m0 6h0m0-1h0m0 5h0m2-11h0m0 3h0m1 8h0m0-8h0m0 11h0m1-3h0m1-6h0m2 0h0m1 8h0m0-6h0m1-1h0m0-3h0m0-2h0m2 13h0m1-7h0m1-7h0m2 14h0m0-7h0m0-4h0m1 10h0m1 0h0m1 0h0m0-12h0m0 7h0m1-4h0m0 7h0m1 2h0m1 0h0m1-1h0m2-1h0m1-10h0m1 2h0m1-2h0m0 8h0m1 3h0m0 0h0m1 1h0m1-1h0m1 0h0m2-5h0m1-1h0m1-3h0m1 8h0m1-4h0m1 4h0m1-5h0m1-6h0m1 10h0m0-1h0m0 1h0m0-4h0m1-3h0m1 0h0m1-1h0m2 12h0m1-14h0m1 11h0m1 0h0m0 3h0m2-11h0m4 7h0m2 0h0m9-1h0m5-2h0m4 5h0m27 11h0m-19 5h0m-1-4h0m-4-2h0m-2 4h0m-6-8h0m-2 6h0m-4 6h0m-1-7h0m-2 3h0m-2-5h0m-3 3h0m-1-8h0m-3 14h0m0-1h0m-1-1h0m-1-5h0m0 3h0m-1 2h0m-1-3h0m-1 4h0m0-12h0m-1 13h0m0-7h0m-1-8h0m-1 15h0m0-3h0m-3-11h0m-1 9h0m0 4h0m-1-10h0m0 7h0m0-4h0m-1 4h0m-2-4h0m0 7h0m0-8h0m-1 2h0m-1 7h0m0-7h0m0-2h0m-1 6h0m0-7h0m0 9h0m0-7h0m-1-3h0m0 6h0m-1 1h0m0-9h0m0 11h0m0-1h0m0-7h0m-1 5h0m0-8h0m-1 2h0m0 2h0m0 4h0m-1-5h0m0 1h0m0 9h0m-1-5h0m0-10h0m0 1h0m-1 14h0m-1-13h0m0 6h0m-1 5h0m-1-2h0m0-5h0m-1 5h0m0-7h0m-1 8h0m0 0h0m0-9h0m-1 8h0m0 1h0m0-5h0m-1-3h0m0 4h0m-1 6h0m-1-4h0m0-6h0m-1-1h0m0 2h0m0-1h0m-1 1h0m0 9h0m-1-11h0m-1 6h0m0 1h0m-1-4h0m0 5h0m0 3h0m0-13h0m-1 9h0m0 3h0m0-8h0m0-5h0m0 11h0m-1 1h0m0-1h0m-1-7h0m0 1h0m0 0h0m0 4h0m-1 0h0m0 3h0m-1-11h0m0 14h0m0-15h0m-1 13h0m-1-1h0m0 2h0m0-13h0m-1 7h0m0-8h0m-1 10h0m0-3h0m0 4h0m-1-8h0m-1 11h0m0-8h0m0 8h0m-1-6h0m0-6h0m-2 1h0m0 10h0m0-11h0m0 13h0m0-5h0m-2 2h0m0-1h0m-1-11h0m0 2h0m0 9h0m0-5h0m-1 4h0m0-5h0m-1-2h0m-2 6h0m0 2h0m-1-3h0m-1-7h0m0 7h0m-1 7h0m0-6h0m0 4h0m-1-6h0m0 3h0m0-6h0m-1 7h0m-1-5h0m0-3h0m0 0h0m-1 8h0m0-11h0m-2 5h0m0 10h0m0-11h0m-2-3h0m0 0h0m-1 12h0m-2-2h0m0-3h0m-1-1h0m0-1h0m-1 7h0m0-6h0m-1-1h0m-1 5h0m-1 0h0m0-7h0m0 9h0m-5-6h0m-1 4h0m0-10h0m0 8h0m-2 1h0m0-8h0m-3 10h0m0-6h0m-2-3h0m-5 2h0m0 6h0m0 4h0m-2-15h0m-2 4h0m-5 11h0m-8-11h0m-13 23h0m5-10h0m4 0h0m18 5h0m0-2h0m0 8h0m3-1h0m4-3h0m1 3h0m0 3h0m1-11h0m3 4h0m2 6h0m0-7h0m1 8h0m1-9h0m0-3h0m1 11h0m3-3h0m0-3h0m0 6h0m0-6h0m1-7h0m2 0h0m0 0h0m1 10h0m2-3h0m0-7h0m1 7h0m0-1h0m1 1h0m0-7h0m0 4h0m2 4h0m0 1h0m1-8h0m0 4h0m1 5h0m0 0h0m1-7h0m0 10h0m0 2h0m0-12h0m1 3h0m0 6h0m1 1h0m0-3h0m1 3h0m0-8h0m1-3h0m2-2h0m0 3h0m0 7h0m0-2h0m1 2h0m0 5h0m1-7h0m0-1h0m0 0h0m0 8h0m1-5h0m1-4h0m0 3h0m0-5h0m2 2h0m0 4h0m0 4h0m1 0h0m0-5h0m0-4h0m0-5h0m1 8h0m0 1h0m0 3h0m1 2h0m0 1h0m0-1h0m0-1h0m0 2h0m1-2h0m0-5h0m0-8h0m1 13h0m1-10h0m0 11h0m0-13h0m1 9h0m0-9h0m1 5h0m0-5h0m0 12h0m1 0h0m0 1h0m2-12h0m0 7h0m0-3h0m0 5h0m1-11h0m0 11h0m0 3h0m0-5h0m1 4h0m0-3h0m0 5h0m0-9h0m1 6h0m0 2h0m1-13h0m0 11h0m0 3h0m1-4h0m0-9h0m0 10h0m0-6h0m0-6h0m1 0h0m0 9h0m0 3h0m1 1h0m0-10h0m0-2h0m0 0h0m1 10h0m0-2h0m1-6h0m0 6h0m0 3h0m0-10h0m0 1h0m1 11h0m0-10h0m0 5h0m1 6h0m0-2h0m1 2h0m0-14h0m1 7h0m0 0h0m0-3h0m0 10h0m0-7h0m1-4h0m0 5h0m0-1h0m0 5h0m2-5h0m0-5h0m1 3h0m0-3h0m0-3h0m0 13h0m1-10h0m0 5h0m0 0h0m0 6h0m0-13h0m1 11h0m0 0h0m1-8h0m0 1h0m0 3h0m1-3h0m0-2h0m0 10h0m0-2h0m1-11h0m0 15h0m1-7h0m0-8h0m0 1h0m1 14h0m0-6h0m0-2h0m1-2h0m1 4h0m1 2h0m0-5h0m0 9h0m1-9h0m0-4h0m0 1h0m0 1h0m1-1h0m0 3h0m1 1h0m1-6h0m0 0h0m0 0h0m1 8h0m2-9h0m0 9h0m2 4h0m0-10h0m0-1h0m2 11h0m0-12h0m1 13h0m1 0h0m0 0h0m0-1h0m1-2h0m1-9h0m0 5h0m0 1h0m1 4h0m0-6h0m0-5h0m1 3h0m1 8h0m1 1h0m2-5h0m2 4h0m0 1h0m2-11h0m0-1h0m2 1h0m2 5h0m4-7h0m4 2h0m3 7h0m4-5h0m1 10h0m1-8h0m13-2h0m10 9h0m-9 10h0m-21 6h0m-3 2h0m-2-14h0m0 10h0m-1 1h0m-2-10h0m0 0h0m-1 3h0m-7-4h0m-1 5h0m0 1h0m-2 3h0m0-2h0m0-1h0m-1-7h0m-1 10h0m-2-4h0m-4 6h0m-1-6h0m0 8h0m0-7h0m0-5h0m-2 12h0m-1-8h0m-3 7h0m0-12h0m-1 3h0m-1-4h0m-1 14h0m-1-11h0m-2 5h0m-1-2h0m0-3h0m-1-1h0m0 11h0m0 0h0m-2 1h0m0 1h0m-1-7h0m0-8h0m0 10h0m0-9h0m0 12h0m0-11h0m-1 9h0m-1-2h0m-1 0h0m0-6h0m0-3h0m-1 15h0m-2-7h0m-1 0h0m0-6h0m0 6h0m-1 7h0m-1-2h0m0-5h0m-1-3h0m0 5h0m-1 3h0m0-13h0m-1 8h0m0 3h0m-1-9h0m0 5h0m0 0h0m0 1h0m-1-1h0m0 7h0m0-11h0m0 1h0m0 7h0m-1-9h0m0 3h0m-1 7h0m0-3h0m-1-4h0m0-5h0m0 3h0m0 5h0m-1-6h0m0 9h0m0-8h0m-1 3h0m0-2h0m0 3h0m-2 4h0m0-5h0m-1 2h0m0 1h0m0-7h0m0 13h0m-1-1h0m0-1h0m-1-13h0m0 14h0m0-6h0m-1 2h0m0-1h0m0-9h0m0 4h0m0 5h0m-1-3h0m-1 0h0m0-6h0m-1 15h0m0-15h0m0 3h0m0-3h0m0 11h0m-1-9h0m0 0h0m-1-1h0m0 0h0m0 3h0m-1-4h0m-2 4h0m0 9h0m-1-9h0m0 1h0m-1 9h0m-2-8h0m0 8h0m0 1h0m0-15h0m0 14h0m-1 1h0m-1-6h0m0-7h0m-1-1h0m-2 8h0m-1-6h0m-4 6h0m0-6h0m-1 2h0m-1 10h0m-1-13h0m-1 13h0m-2-3h0m0-11h0m-1 3h0m0 4h0m-1 3h0m-1 0h0m-2-5h0m-1 6h0m0-6h0m-3 7h0m-3-8h0m0 4h0m-7-1h0m-7-8h0m-13 3h0m-18 5h0m10 15h0m28-2h0m2-5h0m3 3h0m4-2h0m0 2h0m6-1h0m5 3h0m3 4h0m1-2h0m1-3h0m1 6h0m0-8h0m1 5h0m5 6h0m0-2h0m0-3h0m3 1h0m2-9h0m1 7h0m1 6h0m0-8h0m1 8h0m0-9h0m2 6h0m1-5h0m2 10h0m0-14h0m0 11h0m0-3h0m2-4h0m1-5h0m4 1h0m0 14h0m1-13h0m2 13h0m0-4h0m0-9h0m1-1h0m0 6h0m0 5h0m1-5h0m0 4h0m2-11h0m0 13h0m0-10h0m0-3h0m0 2h0m1 13h0m0 0h0m0 0h0m1-12h0m0 1h0m0 6h0m1-8h0m2 2h0m2-3h0m1 11h0m0-12h0m2 9h0m0 4h0m1-10h0m0-3h0m0 0h0m4 3h0m4 0h0m0 5h0m0-1h0m2-2h0m1-4h0m1 6h0m1 4h0m1-11h0m0 2h0m1 4h0m1-4h0m0 3h0m0-4h0m0 4h0m1 1h0m1-6h0m2 1h0m5 13h0m1-6h0m2-2h0m1 4h0m2-6h0m3 9h0m0-11h0m6 11h0m7-5h0m37 4h0m22 16h0m-63-9h0m-5 4h0m0 1h0m-4 0h0m-7-2h0m-1 4h0m-1-6h0m0-1h0m-1 8h0m-4-1h0m-2 3h0m-2-13h0m-1 1h0m0 11h0m-1 1h0m-4-8h0m-1-2h0m-1 8h0m-1-11h0m-1 9h0m-2-9h0m-1 5h0m-7 7h0m-1-8h0m-2 1h0m-1-2h0m-1-2h0m-3 3h0m0 8h0m-6-4h0m-2-2h0m-5-5h0m-1 9h0m-16-4h0m-7-4h0m-4 2h0m-2 2h0m-22 1h0m-36-3h0m37 24h0m45-5h0m5 4h0m3-10h0m3 3h0m12 8h0m4-5h0m2 2h0m4-3h0m60-4h0m65 6h0m-78 18h0m-68 5h0m-2-6h0m-13-9h0m-32 12h0m-4-1h0" stroke="#b00000" stroke-opacity="0.5" stroke-width="4.0" stroke-linecap="round" fill="none"/>
<path d="M175 227h0m40-1h0m124 7h0m-74 12h0m-25 4h0m-42-3h0m-41 6h0m-29-3h0m13 21h0m4-2h0m9 1h0m6-3h0m14 4h0m3-5h0m8 6h0m1-3h0m3-1h0m0 0h0m4 1h0m0-11h0m2 10h0m11 3h0m5-6h0m22-4h0m101 26h0m-68-11h0m-14 4h0m-1 7h0m-4-4h0m-8 0h0m-2-4h0m-15 9h0m0-3h0m-1-1h0m0-2h0m-5-6h0m-2 9h0m-1 3h0m-3-5h0m-2 4h0m-3-9h0m-1 10h0m-1-3h0m-1 2h0m-2-13h0m0 14h0m-1-3h0m0-1h0m-1-4h0m-1 5h0m-1-2h0m0-2h0m-1-7h0m-3 14h0m-4-2h0m0-6h0m-1-7h0m0 4h0m-2-1h0m0 2h0m-3 5h0m0-4h0m-3-5h0m-2 12h0m-1-5h0m-5-1h0m0 3h0m-1 3h0m-3 1h0m-1-8h0m0 3h0m-2-3h0m-4 0h0m-4 3h0m-5-1h0m-1 4h0m-2-4h0m-11-3h0m-3 10h0m-4-1h0m-1 1h0m-19-7h0m-4 14h0m23-2h0m3-3h0m4 2h0m5 6h0m0-3h0m1 9h0m1-2h0m1-9h0m2 5h0m0-4h0m5 3h0m0-8h0m1 15h0m4-13h0m1 13h0m2-3h0m2 0h0m1-4h0m2-6h0m1-1h0m1 13h0m1 1h0m0 0h0m0 0h0m2 0h0m1-13h0m1-2h0m1 0h0m1 3h0m1 0h0m1 6h0m0-6h0m1 10h0m0-12h0m0 3h0m0 5h0m0 3h0m3-4h0m0 4h0m0 1h0m2-12h0m0 4h0m1 6h0m0-6h0m1-1h0m0 11h0m1-6h0m0 5h0m0-7h0m0 3h0m1 0h0m0-4h0m0-1h0m1 10h0m1-6h0m2 3h0m2-6h0m1 7h0m1 1h0m0 0h0m0-5h0m1 0h0m0 4h0m0-1h0m1-8h0m0 1h0m1 1h0m0 4h0m2-5h0m1 6h0m0-1h0m0-8h0m0 13h0m1-8h0m0 4h0m0 1h0m0-10h0m1 3h0m1 7h0m2 2h0m0-12h0m1 3h0m2-4h0m1 11h0m0 3h0m0 0h0m2-1h0m0-2h0m0 1h0m2-4h0m0 0h0m2-9h0m0 5h0m3 10h0m0-10h0m2 7h0m0 0h0m0 0h0m1-5h0m1 1h0m1 2h0m1-8h0m2 9h0m2-10h0m1 10h0m5-7h0m1 4h0m1 1h0m1-4h0m1 7h0m1-7h0m12 9h0m0-10h0m4 0h0m6 5h0m5 6h0m-7 5h0m-2 8h0m-3-4h0m-7 7h0m0-8h0m-5-1h0m0 3h0m-3 6h0m0 0h0m-2-14h0m0 4h0m-2 1h0m0 5h0m-2 1h0m0 2h0m-1-6h0m-2 3h0m-1 1h0m0-7h0m0 2h0m0-7h0m-1 14h0m-2-11h0m-1 6h0m0-1h0m-1-7h0m-1 11h0m0-3h0m-1-7h0m0 2h0m-1 8h0m-3-4h0m0 4h0m-1-3h0m-1 6h0m0-5h0m-1 2h0m0 1h0m-1-4h0m0-1h0m-1-1h0m-2 3h0m0-8h0m0 11h0m0-4h0m0-7h0m0 9h0m-1 1h0m-1-1h0m-1-10h0m-1 11h0m-2-2h0m0-6h0m0 0h0m0 10h0m0-9h0m0-5h0m-1 15h0m0-9h0m-1-3h0m0 10h0m-1-8h0m0-5h0m0 11h0m-1-6h0m-1-5h0m0 8h0m0-3h0m0 4h0m-1 1h0m0 3h0m0-13h0m0 9h0m0 6h0m-2-8h0m0 3h0m-1-3h0m0 8h0m-1-3h0m0 0h0m-1 3h0m0-3h0m0-6h0m-1 6h0m-1-4h0m-1 3h0m-1-4h0m0 2h0m0 6h0m-1-7h0m0 2h0m0 4h0m-1-3h0m0 3h0m0-9h0m0 7h0m0-2h0m0-5h0m0 10h0m-1-14h0m0 7h0m0 0h0m0-2h0m-1-4h0m0 7h0m-1-3h0m0 7h0m0-11h0m0 5h0m0-3h0m-1 2h0m0 2h0m-1 7h0m0-6h0m-1-7h0m0-2h0m0 0h0m0 2h0m-1 11h0m0-8h0m0 9h0m-1-10h0m-1 5h0m0 4h0m0 1h0m0 1h0m-1-1h0m-2-1h0m0-5h0m-2 1h0m-1 2h0m0-10h0m0 10h0m0-10h0m0-1h0m-1 6h0m-2 2h0m-1-6h0m0 5h0m0-6h0m0 9h0m-1-2h0m0 0h0m-1 5h0m-1-9h0m-1 1h0m0 4h0m-1-6h0m-1 4h0m-1-7h0m-1 11h0m-1 2h0m-3-2h0m-1-1h0m0 3h0m0-5h0m-3 2h0m0-7h0m-4-3h0m-1 7h0m0 7h0m-2-8h0m-7-5h0m-5 6h0m-8 0h0m-14 7h0m-1 4h0m8 7h0m12-1h0m5-5h0m6 11h0m2-4h0m6 0h0m2-1h0m2 2h0m0-10h0m2 11h0m1-11h0m2 7h0m0 5h0m3-6h0m0 0h0m0-5h0m1 6h0m2 4h0m0-2h0m1-2h0m0-8h0m0 3h0m3 1h0m1 5h0m0-4h0m0 8h0m1-5h0m0-2h0m1-1h0m0 6h0m1-4h0m1-7h0m0 0h0m0 11h0m0 1h0m1-10h0m0 6h0m1-5h0m0 1h0m0-1h0m0 10h0m0 1h0m1-10h0m0 0h0m0-1h0m1 7h0m0 2h0m0 1h0m1-4h0m1-9h0m0 1h0m0 7h0m1 3h0m0-1h0m0 4h0m1-8h0m0 1h0m0-1h0m0 4h0m1-9h0m0 7h0m1-1h0m0-3h0m1 10h0m0-4h0m0-9h0m0 4h0m0 4h0m0 2h0m1 2h0m0-5h0m0-1h0m1 6h0m0-9h0m0 2h0m1 4h0m0 1h0m1 4h0m0-3h0m1-10h0m1 13h0m0-5h0m0-1h0m1-5h0m0 1h0m0 9h0m0-2h0m1-10h0m0 9h0m0 3h0m1-13h0m0 3h0m0 10h0m1-1h0m0-7h0m0 9h0m0-14h0m1 14h0m0-5h0m1-1h0m0 3h0m1-2h0m0-6h0m1 9h0m0 2h0m0-11h0m0-2h0m0 8h0m0 2h0m1 0h0m0-9h0m0 10h0m0-11h0m3 11h0m0 1h0m0-11h0m1 9h0m0-7h0m0 1h0m0-2h0m0 5h0m1 5h0m2-11h0m0 4h0m0-2h0m1 3h0m0-2h0m0-3h0m0 8h0m0-5h0m0-6h0m0 10h0m1-5h0m0 9h0m0-5h0m1-1h0m1 2h0m0-4h0m1-2h0m0-3h0m0 8h0m0-3h0m0-2h0m0 9h0m0-10h0m1 9h0m0-3h0m0-9h0m1 7h0m0 7h0m0-14h0m0 11h0m0 1h0m1-11h0m1 1h0m0 2h0m0-3h0m0 0h0m0 14h0m1-15h0m1 6h0m1-6h0m0 5h0m0-3h0m1 5h0m0 6h0m0-11h0m0 0h0m2 9h0m0-6h0m1 9h0m0 0h0m0-12h0m0 11h0m0 2h0m1-12h0m0 10h0m0 1h0m0-10h0m1 10h0m3-1h0m0-6h0m0 8h0m0-9h0m1 2h0m0-7h0m0 8h0m1-1h0m0 2h0m0-4h0m1 5h0m1 2h0m0-2h0m3 2h0m2-5h0m1 4h0m3-9h0m0 3h0m2 5h0m0 4h0m0-7h0m0 0h0m4-1h0m1 2h0m4-4h0m0 5h0m0 5h0m1-12h0m0 2h0m17 0h0m2-2h0m3 1h0m1 18h0m-3 5h0m-7-7h0m-1 0h0m-5 3h0m-7 5h0m-3-8h0m-2 8h0m0-8h0m0 3h0m-1 2h0m-1-4h0m-1 3h0m0 3h0m-3 0h0m-2 3h0m-1 0h0m0-13h0m0 10h0m-2-6h0m0 0h0m-1 3h0m0-7h0m-2 4h0m0-1h0m-1 4h0m-2-1h0m-1 7h0m0-7h0m0-4h0m0 12h0m-1-4h0m-1-4h0m0 8h0m-1-6h0m-1-9h0m0 4h0m-1 3h0m-1-3h0m0 11h0m0-15h0m-1 11h0m0-2h0m0-4h0m-1 1h0m-2-5h0m-1 12h0m-1-10h0m-1 8h0m-2 0h0m-1 3h0m-1-3h0m-1 1h0m0-1h0m0-8h0m-2 4h0m0 6h0m-1-12h0m-1 10h0m0-6h0m-1 7h0m-1-9h0m0 4h0m-1-3h0m-1 8h0m0-9h0m-1 1h0m-1 6h0m0-4h0m0-6h0m-1 8h0m-1-4h0m0-2h0m0 9h0m-1-1h0m-1-10h0m0 15h0m0-11h0m0-1h0m0 8h0m-1-7h0m0 5h0m0 5h0m-1-6h0m0 4h0m-1-2h0m0 2h0m0-7h0m0-1h0m0-4h0m-1 7h0m0-5h0m0-2h0m-1 3h0m-1-3h0m0 9h0m0-7h0m-1-2h0m-2 5h0m-1 9h0m-2-11h0m-2-2h0m0 11h0m0-7h0m-1 0h0m0-1h0m0-2h0m0 7h0m-3 5h0m-1-10h0m0 4h0m0-5h0m0 8h0m-1-10h0m0 4h0m0 3h0m0 5h0m0-13h0m-2 14h0m0-9h0m-1 8h0m0-10h0m0 1h0m-1 9h0m0-8h0m-1 10h0m0-8h0m-1-3h0m0 9h0m-1-9h0m-4 9h0m-5-7h0m-1 4h0m-1-9h0m-1 1h0m-2 1h0m-1 4h0m-4-3h0m-1-3h0m-1 11h0m-3-8h0m-1 3h0m-2-6h0m-2 11h0m-4-6h0m-2-5h0m-7 7h0m-11-2h0m-8-3h0m-45 11h0m67 14h0m6-3h0m5 0h0m1-9h0m0 9h0m3-6h0m1 8h0m8-4h0m4-7h0m0 11h0m7-9h0m5 8h0m1-10h0m0 5h0m1-5h0m0 15h0m1-5h0m1 1h0m2 4h0m0-13h0m1-2h0m1 5h0m0-3h0m1 8h0m2 5h0m1-5h0m1-10h0m5 4h0m0 9h0m3-12h0m1 3h0m0-1h0m0 8h0m1-8h0m0 6h0m1-9h0m1 0h0m1 13h0m0-12h0m1 5h0m1-2h0m0 9h0m0-8h0m1 2h0m0-6h0m0 11h0m2-2h0m1-8h0m1 4h0m0-4h0m0 12h0m2-3h0m0-4h0m0 6h0m1-3h0m1-5h0m0 9h0m0-3h0m1-1h0m0-9h0m0 5h0m1-6h0m0 10h0m1-6h0m1-2h0m0 9h0m1-6h0m1 6h0m0 2h0m1-3h0m1-3h0m1-7h0m1 15h0m1-13h0m1 2h0m0 0h0m0-2h0m1 4h0m0-6h0m0 8h0m1 6h0m1-13h0m0 5h0m0 9h0m3-11h0m0-4h0m1 3h0m1 9h0m1 2h0m2-4h0m1-4h0m1 0h0m2-1h0m1-5h0m0 2h0m1-1h0m1 2h0m4 12h0m0-1h0m4 1h0m2-5h0m1-10h0m5 1h0m0-1h0m9 0h0m2 15h0m17 13h0m-34-9h0m-4 1h0m0-1h0m-7 4h0m-2-4h0m-1 11h0m0-5h0m-8-7h0m-1 3h0m-2-1h0m0 3h0m-3-6h0m-3 11h0m-1-11h0m-4 0h0m-5-1h0m0 0h0m-4 9h0m0 5h0m-1-14h0m-2 13h0m-1-11h0m0 9h0m-1-5h0m-2 3h0m-2-1h0m0-8h0m-2 2h0m-3 4h0m-2 9h0m0-10h0m0-4h0m-3-1h0m-3 7h0m-8 4h0m-41 4h0m26 1h0m26 13h0m14 2h0m2-4h0m1-7h0m10 3h0m32-4h0m33 10h0m23 3h0m-106 1h0" stroke="#b00000" stroke-opacity="0.5" stroke-width="4.0" stroke-linecap="round" fill="none"/>
<path d="M204 182h0m-74 36h0m67 14h0m41 17h0m-1 0h0m-35-8h0m-54 24h0m5 6h0m8-14h0m2 14h0m30-1h0m4-3h0m9-8h0m6 12h0m5-10h0m11 9h0m28 16h0m-3-1h0m-21-2h0m-3 3h0m-7 1h0m-1-13h0m-1 4h0m-2-3h0m-2 9h0m-5-2h0m-2 4h0m-2 1h0m-1-3h0m0-8h0m0-4h0m-2 9h0m-2-4h0m-3-2h0m0 9h0m-2-8h0m-2 7h0m-1 4h0m-6-10h0m-4 3h0m-2-3h0m0 0h0m-2 9h0m-2-2h0m-6-4h0m0 2h0m-1-10h0m0 2h0m-2 8h0m-2 5h0m-3-9h0m-6-4h0m0 2h0m-3 1h0m-21-4h0m-5 2h0m-14 14h0m2 1h0m3 9h0m10-7h0m4 8h0m1-10h0m2 3h0m3 2h0m2-5h0m3 11h0m1-5h0m0 7h0m1-3h0m2 3h0m0-8h0m3 8h0m1-13h0m1 10h0m1-3h0m0 2h0m1 1h0m1-12h0m1 0h0m3 10h0m0-1h0m2-9h0m1 14h0m1-7h0m0-6h0m0 1h0m1 5h0m0 6h0m0-8h0m2 8h0m1-13h0m1 4h0m1-1h0m1 7h0m1-6h0m0 1h0m1 8h0m0-10h0m1 3h0m2 9h0m0-3h0m1 2h0m1 1h0m0-13h0m1 9h0m0-10h0m1 10h0m0-5h0m0 9h0m0-14h0m1-1h0m1 7h0m0-2h0m0 6h0m2 1h0m0-5h0m2 5h0m0-5h0m4-3h0m1 9h0m2-5h0m1-1h0m0-6h0m0 11h0m0 0h0m0 0h0m1 1h0m0-1h0m1-1h0m3-1h0m1-4h0m0-6h0m0 11h0m1-1h0m0-5h0m0 10h0m1-9h0m1 2h0m1-4h0m0 10h0m1 1h0m0-4h0m0 3h0m0-8h0m0 0h0m1 7h0m0-6h0m1 1h0m0-5h0m2-2h0m0-1h0m1 3h0m2-2h0m0-1h0m2 2h0m0 7h0m0 2h0m0-3h0m1 1h0m1-9h0m2 2h0m2 11h0m0 1h0m1-11h0m1-3h0m0 12h0m5-12h0m0 11h0m0-3h0m1-1h0m0 8h0m0-9h0m0 8h0m5-9h0m6 1h0m0 4h0m6-8h0m9-1h0m4 8h0m18 5h0m0-4h0m37-7h0m-27 18h0m-8 10h0m-10-8h0m-9-4h0m-4 9h0m-2-11h0m-6 5h0m0 5h0m-1-7h0m-2-2h0m-2 8h0m-1 0h0m0-10h0m-1 6h0m0-5h0m-4 5h0m-2 1h0m-1 3h0m0 4h0m-1-1h0m0-1h0m-4-11h0m0 10h0m-2-5h0m0 8h0m-2-1h0m0-7h0m0 7h0m0-10h0m-1 11h0m0-10h0m-1 11h0m0-6h0m0-7h0m-1 11h0m0-11h0m0-2h0m-2 6h0m0-4h0m-4 7h0m-1-8h0m-1 12h0m-1-13h0m0 6h0m0 3h0m0-7h0m-1 1h0m0 8h0m0-5h0m0 9h0m-1-7h0m-1-6h0m0 6h0m0 2h0m0-1h0m-1-2h0m0-5h0m-1 5h0m-1-1h0m-1 3h0m0-3h0m-1-1h0m0 5h0m-1 1h0m0 2h0m0-7h0m-2 1h0m0 7h0m0-14h0m-1 2h0m0 10h0m0-4h0m0-6h0m-1-2h0m0 8h0m0 1h0m-1 4h0m-1-8h0m0 7h0m0-1h0m0-6h0m0-2h0m-1 0h0m0 7h0m-1-2h0m-1 6h0m0-7h0m0 8h0m0-1h0m0-14h0m0 13h0m0-5h0m-1 5h0m0 2h0m0-5h0m0-6h0m0 7h0m-1-10h0m0 7h0m-1-6h0m0 2h0m-1 2h0m-2 8h0m-1 0h0m-1-11h0m0 0h0m0-2h0m0 8h0m0 4h0m0 1h0m-1-13h0m0 1h0m0 8h0m0-5h0m-1-4h0m-1 14h0m0-3h0m-1 0h0m0 0h0m-1-7h0m0 0h0m0 1h0m-1 1h0m0 8h0m0-10h0m0-3h0m-1 4h0m-1-4h0m-1 9h0m0-11h0m0 12h0m0-9h0m-1 9h0m-1-3h0m0 6h0m-1-3h0m0-8h0m0 11h0m0-9h0m-1-6h0m0 3h0m0 3h0m0 8h0m0-9h0m-1 5h0m0-10h0m-1 9h0m-2 0h0m-1-3h0m0 9h0m0-4h0m-1 0h0m0-11h0m0 12h0m0 0h0m-2 0h0m0-4h0m-1-1h0m-3 0h0m0 5h0m-1-1h0m-2 2h0m0 2h0m-1-1h0m0-5h0m-1-7h0m0 9h0m-1-10h0m0 12h0m-1-8h0m0 7h0m-1-12h0m-1 1h0m-1 9h0m-3-1h0m0-1h0m-1-1h0m-5 4h0m0 2h0m-1 2h0m-1-1h0m-5-3h0m-2 1h0m-1-5h0m-6-3h0m-9 6h0m-56-8h0m49 25h0m3 4h0m12-11h0m11-1h0m9 10h0m1-13h0m2 10h0m1-6h0m0 5h0m1-6h0m4 12h0m2-13h0m1 9h0m1 1h0m1-6h0m1 9h0m1-13h0m3 13h0m0-9h0m0-2h0m1-3h0m0 14h0m1-8h0m1 7h0m0-4h0m3-1h0m0-3h0m1 0h0m0 6h0m1 0h0m0-2h0m0-6h0m0 3h0m0 5h0m1-11h0m0 6h0m1 3h0m0 1h0m0-4h0m1 7h0m1-10h0m1 11h0m1-14h0m1-1h0m0 14h0m0-14h0m1 8h0m0 2h0m0 5h0m0-11h0m0 10h0m1-9h0m1 7h0m1 2h0m0-3h0m0-11h0m0 9h0m1 4h0m0-12h0m2 5h0m0-4h0m1 3h0m0 1h0m0 0h0m0 4h0m1-2h0m0 6h0m0-4h0m0 2h0m0 2h0m0-13h0m1 6h0m0 8h0m0-4h0m0-11h0m1 4h0m1 0h0m0 5h0m1-7h0m0 13h0m1-14h0m0 6h0m0 8h0m0-1h0m0-11h0m1 8h0m0-7h0m0 0h0m0 1h0m1 8h0m1-11h0m0 13h0m1 0h0m0-1h0m0-11h0m0 8h0m0 3h0m0-12h0m1-1h0m0 0h0m0 1h0m0 12h0m0-2h0m1 3h0m0-2h0m1 2h0m0-7h0m0-8h0m2 6h0m0-2h0m0 2h0m0 3h0m0 1h0m1 1h0m0-10h0m0 11h0m0-4h0m0 2h0m0 0h0m1-5h0m0 1h0m1 8h0m0-7h0m0-5h0m0 11h0m0 1h0m2-5h0m0 2h0m0-8h0m1-2h0m0 12h0m0-12h0m0 4h0m1 1h0m0 4h0m1 3h0m0-10h0m0 1h0m1-2h0m0-2h0m0 8h0m1-8h0m0 15h0m0-6h0m1-2h0m0 7h0m0-11h0m0 6h0m0-6h0m1 6h0m0-7h0m1 10h0m0-9h0m0-1h0m0 5h0m0 1h0m0 2h0m0 4h0m0-9h0m1-5h0m0 8h0m0 4h0m1 0h0m0-2h0m0 3h0m1 1h0m0-4h0m0-1h0m0 3h0m0-12h0m0 3h0m1 1h0m2 0h0m0 11h0m0-11h0m0 8h0m0-5h0m2 2h0m1 1h0m1-8h0m0 3h0m0 5h0m1 1h0m1-3h0m1 4h0m1-10h0m1 2h0m1 10h0m0-8h0m1 0h0m1-1h0m2 2h0m0 2h0m1-8h0m0 5h0m1 3h0m1 4h0m0-1h0m0-12h0m0 13h0m1-11h0m1 1h0m1 0h0m2 3h0m0 6h0m0-6h0m2-4h0m1 9h0m1 3h0m2-1h0m0 2h0m2-3h0m1-11h0m1 8h0m0-5h0m3 3h0m1-4h0m2-3h0m11 5h0m13 1h0m6 8h0m-2 12h0m-5 1h0m-7-7h0m-7 5h0m-16-2h0m-4-7h0m-2 1h0m0 5h0m0 6h0m0-8h0m-3-3h0m-1-1h0m-2 1h0m-1 11h0m-2-10h0m-1 11h0m0-7h0m-1-6h0m-3 6h0m-1 8h0m0-1h0m-3-9h0m-1 7h0m0-10h0m0 4h0m0 9h0m-1-3h0m0-11h0m0 10h0m-2-2h0m0-4h0m-2-1h0m0-3h0m0 10h0m0-3h0m-1 5h0m0-7h0m-2 0h0m-1 9h0m-1-13h0m-1 5h0m-1-4h0m0 11h0m-1-6h0m0 4h0m-1-10h0m-1 5h0m0 2h0m-1-5h0m0 11h0m0-12h0m-1 0h0m0 2h0m-1-3h0m0 0h0m-1 6h0m0-5h0m0 1h0m0 8h0m0-8h0m-1 6h0m0 0h0m-1 4h0m0 1h0m-1-11h0m0 7h0m-1-10h0m0 8h0m0-6h0m-1 7h0m0 1h0m0-5h0m0 2h0m-1-4h0m-1 12h0m0-13h0m0 3h0m0 10h0m-2-9h0m0-2h0m-1-4h0m0 1h0m0 5h0m-1-4h0m0 10h0m0-10h0m-1 1h0m0 9h0m0-10h0m-2 0h0m-2 0h0m-1-2h0m0 10h0m-1 2h0m0-4h0m0-1h0m0-5h0m-2 3h0m0 9h0m0-1h0m-1-10h0m0-3h0m0 1h0m0 10h0m0-10h0m-1 4h0m0 8h0m0-11h0m-1 1h0m0-1h0m0 9h0m-1-8h0m0 0h0m0 2h0m-1 7h0m0-10h0m-1 3h0m0 8h0m-3-12h0m-1 0h0m0 1h0m0 3h0m0-2h0m0 10h0m-1 1h0m-2 0h0m0-1h0m0-8h0m0 0h0m-2 4h0m0 5h0m0-11h0m0 7h0m-1-5h0m-1-3h0m0 8h0m0-8h0m-2 6h0m-6 7h0m-1-14h0m-1 13h0m0-5h0m-2-7h0m0 0h0m-1 11h0m0-9h0m-1 7h0m-1-8h0m-1 10h0m-1-6h0m-2-4h0m-2 7h0m0-3h0m-1 3h0m-1-5h0m0 6h0m-16 0h0m-1-11h0m-39 1h0m-27 4h0m86 15h0m5 5h0m2-2h0m0 0h0m1 1h0m0 2h0m2-8h0m1-2h0m0 5h0m1-3h0m3 11h0m3 0h0m1-10h0m0 11h0m1-12h0m1 7h0m2-1h0m1-5h0m0 5h0m0 6h0m1-1h0m3-13h0m1 15h0m1 0h0m0-13h0m1 13h0m0-7h0m3-2h0m1-5h0m2 6h0m0 8h0m1-12h0m2 0h0m1 6h0m1-4h0m0 8h0m1-6h0m0-1h0m1-5h0m1 6h0m0 5h0m1-2h0m0-3h0m2 5h0m0-4h0m0-7h0m4 11h0m0-3h0m1-7h0m1-1h0m3 8h0m0 6h0m0-11h0m1-1h0m0 1h0m1 1h0m0 6h0m1-2h0m1 6h0m0-15h0m0 9h0m2-5h0m1 8h0m1-3h0m0 1h0m0 1h0m1 2h0m1-9h0m2 4h0m0-1h0m1-7h0m1 13h0m0-2h0m1-9h0m3-1h0m1-1h0m0 13h0m2-5h0m0-8h0m2 13h0m0-5h0m2-8h0m1 14h0m4-1h0m2-12h0m2 7h0m12 6h0m10-5h0m10-4h0m4 26h0m-1-2h0m-24-4h0m-22-5h0m-3 3h0m-2 1h0m-1-4h0m-3 2h0m-3 8h0m-7 1h0m-3-4h0m-3-8h0m-1 4h0m-2 6h0m-3-11h0m-3-1h0m0 3h0m-1 2h0m-3 7h0m-2-12h0m-1 9h0m-1-4h0m-2 0h0m-13-6h0m-1 1h0m-5 6h0m-6-7h0m-35 0h0m-38 18h0m59 0h0m9 6h0m24-6h0m17 5h0m5-1h0m5-6h0m14 3h0m4-2h0m0 7h0m8-8h0m56 7h0m-47 21h0m-6-2h0m-1-8h0" stroke="#b00000" stroke-opacity="0.5" stroke-width="4.0" stroke-linecap="round" fill="none"/>
<path d="M271 240h0m-10 14h0m-5-4h0m-4-10h0m-4 11h0m-5-3h0m-3-4h0m-10 4h0m-3 0h0m-24 6h0m-8 5h0m24 10h0m4-5h0m0-3h0m4 10h0m6-6h0m1 6h0m0 0h0m0 0h0m3-14h0m0 7h0m1 2h0m0 4h0m2-8h0m3 3h0m2 2h0m0-7h0m2-1h0m3 11h0m1-2h0m2-6h0m0 5h0m2 3h0m0-9h0m2 5h0m4-3h0m5-2h0m0 9h0m2-8h0m0 6h0m2 2h0m0-8h0m1 6h0m7-11h0m16 10h0m15-4h0m17 6h0m-31 4h0m-4 5h0m-1 0h0m0 9h0m-1-9h0m-3-4h0m-3 12h0m-6-1h0m-1-8h0m-1-5h0m-1 13h0m0-1h0m-4-4h0m0 4h0m-2-9h0m-1 4h0m-1-3h0m0-1h0m0 3h0m0 6h0m-1-1h0m-2 4h0m-1-11h0m0 4h0m-1 0h0m0 0h0m-1 0h0m0-7h0m-1 0h0m-1 8h0m-1-2h0m-1 8h0m-1-14h0m0 2h0m0 2h0m0-2h0m-1 7h0m0-4h0m-1 4h0m0 4h0m0-2h0m-1-8h0m-1 7h0m0 3h0m0-7h0m-1 3h0m0 2h0m-1-9h0m0 0h0m0 6h0m-1-7h0m0 0h0m0 12h0m0-9h0m-1 9h0m0-5h0m0-3h0m-2-6h0m0 8h0m0-5h0m-1 12h0m0-4h0m-1-11h0m0 13h0m-1-6h0m0 8h0m0-2h0m0-4h0m-1 4h0m-1-11h0m0-1h0m0 14h0m0-8h0m0 5h0m-1 1h0m0 1h0m-2 0h0m0-2h0m-1 2h0m0-14h0m0 12h0m0-3h0m-1 4h0m-1-4h0m-1-4h0m-1 4h0m-1 5h0m-2-13h0m0 10h0m-1-6h0m-2 8h0m-1-9h0m0 0h0m0 2h0m-2 9h0m-2-2h0m-3-5h0m-2 2h0m-1-8h0m-1-2h0m-1 4h0m0 10h0m-2-14h0m0 3h0m-3 8h0m-8 1h0m-9-6h0m-7 22h0m0-12h0m13 8h0m5 6h0m3-10h0m1 4h0m0 4h0m0-10h0m0 0h0m2 8h0m3 2h0m2-5h0m4 7h0m0-9h0m2-1h0m0 2h0m1 5h0m0-9h0m0-1h0m2 1h0m2 2h0m0-3h0m1 1h0m0 10h0m0-6h0m0 6h0m1-3h0m1 0h0m0-6h0m1 6h0m0-1h0m1-8h0m0 5h0m1 9h0m0-7h0m1 7h0m1-12h0m0 9h0m0-6h0m0-2h0m1-1h0m2 1h0m0 4h0m0 0h0m1-2h0m0 4h0m0-1h0m1 3h0m0 4h0m0-5h0m1-9h0m0 11h0m0-4h0m0-8h0m2 10h0m0-7h0m0 10h0m0-12h0m0 5h0m2-4h0m1-1h0m0 6h0m2-4h0m1 10h0m0-11h0m0 7h0m1-6h0m0 8h0m0 4h0m0-8h0m0 5h0m1-4h0m0-2h0m0 1h0m0-1h0m1-6h0m0 6h0m0-6h0m2 8h0m0-2h0m0 3h0m0-2h0m1 8h0m0-10h0m1-1h0m0 6h0m0-8h0m0 11h0m0-12h0m2 0h0m1 14h0m0-15h0m0 15h0m1-4h0m0-1h0m0-7h0m1 4h0m0 8h0m0-10h0m1 5h0m0-3h0m0-4h0m0 8h0m0 4h0m0-15h0m0 10h0m1 5h0m0 0h0m2-12h0m0-3h0m1 11h0m0 3h0m0 1h0m0-3h0m0-12h0m1 10h0m0-2h0m0 1h0m1-4h0m6-1h0m1 2h0m1-6h0m0 11h0m1-11h0m2 7h0m0 6h0m3-11h0m1-1h0m0 8h0m0 5h0m4-14h0m7 15h0m3-10h0m2 5h0m1-7h0m0 4h0m5-3h0m5-1h0m6 26h0m-18-4h0m0-3h0m-4 9h0m-6-9h0m-2 6h0m-5 1h0m0-8h0m-3 0h0m-1-5h0m-1 2h0m-2 2h0m-1 9h0m0-7h0m-2 5h0m0 3h0m-3-5h0m0-9h0m-1 12h0m0-7h0m-3 4h0m-2-6h0m-1 4h0m-1 4h0m-2 4h0m-1-7h0m0-1h0m0 6h0m-1-12h0m0 2h0m-1 5h0m0-3h0m0 2h0m-1-6h0m-1 11h0m0-6h0m-1 5h0m-2-10h0m0 6h0m0-3h0m0 1h0m-1 9h0m-1-12h0m0 0h0m-2 1h0m0 8h0m0-4h0m-1-3h0m-2 7h0m0-7h0m-1 5h0m0-2h0m0 7h0m-1 1h0m0 0h0m-1-3h0m-1-10h0m0 6h0m-3 1h0m0-4h0m-2-4h0m0 0h0m0 13h0m-1-11h0m-1 5h0m0-1h0m0-5h0m-1 1h0m0 1h0m-1 4h0m-1 4h0m-2 0h0m0 2h0m-2 1h0m0-7h0m0-3h0m-1 7h0m0-3h0m-1 3h0m0-1h0m0-8h0m-2 11h0m0-9h0m-3-4h0m0 10h0m-2-9h0m0 3h0m0 0h0m0 2h0m-2 5h0m0-7h0m-2 10h0m0-13h0m-3 8h0m-1-4h0m0 8h0m-2-10h0m-3 6h0m-3-10h0m-9 1h0m-1-1h0m-38 12h0m40 17h0m4-8h0m2 0h0m14-2h0m1 12h0m3-5h0m2-2h0m2 5h0m3-13h0m0 1h0m2 1h0m0 3h0m1-2h0m1 10h0m10-10h0m1-1h0m0-2h0m1 2h0m4-2h0m2 6h0m0-5h0m0-1h0m6 0h0m0 13h0m1-10h0m1 2h0m3-3h0m0 1h0m0 10h0m1-9h0m3-4h0m2 10h0m3-7h0m2-2h0m2 2h0m1 2h0m2-4h0m1 1h0m4 0h0m5 5h0m1 8h0m11-15h0m35 14h0m-57 13h0m-12-1h0m-1-9h0m-11 4h0m-14-4h0m-1 7h0m-6-7h0m-15 4h0m-8 14h0m24 2h0m8 4h0m9-9h0m-1 28h0" stroke="#138892" stroke-opacity="0.55" stroke-width="4.0" stroke-linecap="round" fill="none"/>
<path d="M230 227h0m8 8h0m0 1h0m27-9h0m35 26h0m-5-9h0m-8 8h0m-6-3h0m-2-4h0m-2 3h0m0 3h0m-10 3h0m-13 1h0m-11 0h0m-3 0h0m-1-3h0m-2-1h0m-5 3h0m-1 1h0m-39 8h0m23 5h0m2-4h0m2-8h0m1 12h0m3-1h0m1 3h0m1 1h0m2-2h0m1 2h0m1-12h0m4 2h0m2 0h0m2-2h0m2 9h0m3-7h0m1 3h0m0-2h0m11-1h0m1 10h0m2-8h0m2-1h0m3 8h0m0-5h0m1-8h0m1 9h0m3 5h0m1-1h0m6 0h0m1 0h0m2-3h0m0-3h0m1-3h0m4 10h0m10-9h0m28-3h0m17 24h0m-42-4h0m0 1h0m-9 2h0m-2-1h0m-2-1h0m-1 5h0m-1 2h0m-5-10h0m0 1h0m-3 1h0m-4-2h0m-1-1h0m-1-2h0m-1 13h0m-1-10h0m-1 4h0m-1 4h0m-1 2h0m-2-1h0m-1 0h0m-1-9h0m0 7h0m0-3h0m-1 2h0m0 0h0m0-11h0m-1 14h0m0-7h0m0 8h0m-2-3h0m0-2h0m-1 5h0m0-14h0m0 5h0m-1 0h0m0-6h0m0 15h0m0 0h0m-1-5h0m0-10h0m-1 2h0m0 3h0m0-1h0m-1-2h0m0 13h0m0-9h0m-1 6h0m0-2h0m0 1h0m-2-4h0m0 4h0m0-4h0m0-6h0m-2 1h0m-1 13h0m0-5h0m-1 1h0m0-3h0m0-8h0m-1 7h0m0-1h0m-1-3h0m-1 12h0m-1-2h0m0-10h0m0 1h0m-2 6h0m0-2h0m-1 4h0m0 1h0m0 0h0m-2-1h0m0-9h0m-1 3h0m-2 1h0m0 8h0m-1-8h0m0 2h0m-2 3h0m0-12h0m0 11h0m-1-3h0m0-8h0m-1 14h0m0-9h0m0 6h0m0 4h0m-1-13h0m0 6h0m-1-5h0m0 7h0m-2-6h0m0 9h0m0-9h0m-1-3h0m0 14h0m-1-5h0m0 0h0m0-1h0m-1 2h0m-1-5h0m-5-1h0m-2 2h0m-5 5h0m-5 0h0m0-5h0m-1 6h0m-5-2h0m-2-1h0m-13-5h0m8 13h0m3 10h0m4-11h0m5 13h0m1-8h0m4-1h0m4 1h0m0 5h0m1-5h0m3 6h0m2-7h0m0-2h0m0 8h0m1-2h0m3-2h0m0-1h0m0 2h0m3 0h0m0 0h0m1-3h0m1-1h0m1 10h0m1-11h0m1 2h0m0 6h0m2-9h0m0 0h0m1 3h0m1-5h0m0 2h0m1 0h0m1 13h0m1 0h0m0-1h0m0-1h0m2-8h0m1 1h0m3 5h0m0-1h0m0-2h0m1-5h0m0 9h0m0-11h0m0 5h0m1 1h0m0 4h0m0-1h0m0 1h0m1-3h0m1-1h0m1-4h0m0 3h0m0-3h0m0 2h0m2 4h0m0-6h0m1 2h0m1 4h0m0-5h0m0-3h0m3 12h0m0-1h0m0-6h0m0-6h0m1 15h0m0-4h0m1-1h0m1-5h0m0-4h0m1 2h0m1-3h0m0 6h0m1 6h0m0-5h0m0 7h0m0-6h0m0 3h0m2-9h0m0 1h0m1 5h0m0-4h0m1 4h0m0-7h0m0 12h0m2-13h0m0 8h0m0 2h0m1-3h0m1-4h0m1 9h0m0-5h0m1 5h0m2 1h0m1-6h0m0 0h0m1-4h0m2 2h0m1 9h0m0-7h0m1 7h0m3-11h0m1-3h0m3 8h0m2 6h0m0-3h0m1-4h0m4 3h0m1 0h0m19-9h0m22 5h0m-28 14h0m0 3h0m-7-7h0m-9 1h0m-9 4h0m-2 0h0m-2-1h0m0 4h0m0-2h0m-1 8h0m0-1h0m-1 1h0m-1-5h0m-4 3h0m-2-10h0m0 13h0m0-12h0m-1 7h0m-1-6h0m-2 4h0m-1-5h0m0 3h0m-1-2h0m0 1h0m-1 10h0m0-14h0m-1 9h0m0-2h0m-2 6h0m0-12h0m0 0h0m-1 11h0m0-7h0m0 4h0m-3-3h0m0 6h0m-1-4h0m0-6h0m-1-3h0m0 6h0m0-6h0m-2 13h0m0-9h0m-1 4h0m0-5h0m0 0h0m-1-1h0m0 8h0m0-4h0m-1 6h0m-1 1h0m0-10h0m0-2h0m-1 4h0m-1 1h0m0 9h0m0-10h0m-1-4h0m-1 0h0m0-1h0m0 5h0m-1 3h0m0 1h0m0-3h0m0 2h0m-2 6h0m0-8h0m0-2h0m-1 6h0m0-8h0m0 11h0m0-5h0m-3-8h0m0 15h0m0-12h0m-4 5h0m0 2h0m0 5h0m-1-12h0m-1-1h0m0 12h0m-1-13h0m0 6h0m0-1h0m-1 0h0m-2 6h0m0-11h0m-3 14h0m-1-15h0m0 2h0m-1 9h0m0-9h0m-1 12h0m-2-13h0m-1 6h0m-9-2h0m0-5h0m0 13h0m-1-7h0m-2-2h0m-6-3h0m-2 3h0m0 3h0m-9-1h0m-7-5h0m9 15h0m20 13h0m1-10h0m1 5h0m4-2h0m7-5h0m1 3h0m1 4h0m1-7h0m1 4h0m0-4h0m1 7h0m1 0h0m1 3h0m0-9h0m1 6h0m0-4h0m1 9h0m0-8h0m3-3h0m0 2h0m2 8h0m2-8h0m1-3h0m1 1h0m0 8h0m1 1h0m2-11h0m1 13h0m0-9h0m3 1h0m1 0h0m1 0h0m1 5h0m2 4h0m5-9h0m0 4h0m0 4h0m2-6h0m2-1h0m0 2h0m1-5h0m2-2h0m2 11h0m1-9h0m4 3h0m1 3h0m1-3h0m0-2h0m4 2h0m1-5h0m32 9h0m-15 9h0m-16 3h0m-12-4h0m-16 0h0m-5 5h0m-2 0h0m-2 1h0m-2-4h0m-1 10h0m-5-8h0m-15-5h0m-3-1h0m-2 4h0m-24 8h0m-5 9h0m46-1h0m10 55h0" stroke="#138892" stroke-opacity="0.55" stroke-width="4.0" stroke-linecap="round" fill="none"/>
<path d="M217 234h0m35-6h0m5 7h0m31 1h0m13 9h0m-14-2h0m-27 11h0m0-2h0m-15-1h0m-2 4h0m0-15h0m-2 14h0m-1-3h0m-2-2h0m-2-2h0m-6-7h0m-4 14h0m-7-9h0m-2 23h0m5-2h0m2-8h0m1 4h0m4 2h0m4 6h0m5 1h0m1-7h0m0-7h0m4 9h0m2 4h0m3-2h0m3 1h0m1-3h0m2-3h0m1 7h0m1 1h0m2-4h0m1 2h0m2 1h0m2-14h0m0 8h0m0 0h0m1 2h0m0-10h0m0 15h0m0-5h0m0-3h0m1 2h0m1-5h0m0 5h0m0 5h0m7-2h0m5 3h0m1-6h0m11-8h0m6 25h0m-2 4h0m-6 1h0m-2-5h0m-6-1h0m-1-7h0m-2 4h0m0 6h0m-1-3h0m-1-9h0m-1 10h0m0-1h0m-2 5h0m-1-5h0m-1 1h0m-2-6h0m-2 7h0m-1 0h0m-1 3h0m0-13h0m-1 11h0m-1 2h0m-2-11h0m0 4h0m-1 7h0m-1-6h0m-1 7h0m0-8h0m0-7h0m0 3h0m0 9h0m-1 1h0m0-5h0m0 4h0m0-12h0m-2 12h0m0-3h0m-2 4h0m-1-2h0m0-3h0m0-1h0m0 7h0m-1-7h0m0-4h0m-1-3h0m0 1h0m-1 4h0m0 4h0m-1-3h0m0 4h0m-1-2h0m0 4h0m0 2h0m0-3h0m0-4h0m0 7h0m0 1h0m-1-11h0m-2 2h0m0 1h0m0 5h0m0-12h0m0 4h0m-1 10h0m0-8h0m-1 1h0m0-7h0m-1 2h0m-1 8h0m0-1h0m0-2h0m0-3h0m0-3h0m-1 10h0m0-7h0m0-3h0m0 4h0m-1 4h0m-1 3h0m-1-3h0m-1 2h0m-1 1h0m-1 0h0m0-10h0m-1 10h0m0-2h0m0-10h0m0 9h0m-1 0h0m0 1h0m0-3h0m-2-2h0m-1 6h0m-1-5h0m-1 2h0m-1 5h0m0-13h0m-2 6h0m-2-6h0m-1 4h0m0 8h0m-1 3h0m-3-3h0m-3 2h0m-10-12h0m0 5h0m0 6h0m-2-1h0m-1-3h0m-12-6h0m-2 7h0m-5 5h0m5 5h0m15 11h0m6 0h0m1-5h0m1-4h0m0 0h0m0 3h0m1-2h0m0-5h0m3 2h0m0 7h0m6-10h0m0 7h0m0-1h0m1 6h0m2-10h0m0 2h0m1-1h0m2 1h0m0 10h0m0-12h0m1-1h0m2 8h0m0-8h0m1 10h0m0-3h0m0-4h0m0-5h0m0 8h0m1 2h0m0 5h0m0-10h0m0-3h0m1 9h0m0-3h0m0-1h0m1-7h0m0 8h0m0 7h0m0-6h0m0-7h0m1 8h0m1 0h0m0-4h0m1 2h0m1-8h0m1 6h0m0-6h0m1 15h0m0-2h0m0-4h0m0 4h0m0 1h0m2-3h0m0-10h0m0 13h0m0 0h0m1-12h0m0 0h0m1 7h0m0-4h0m1-1h0m0 3h0m1 7h0m1-3h0m1-9h0m0 7h0m0 4h0m1-3h0m0-5h0m0 8h0m1-13h0m0 12h0m0-4h0m2-5h0m1-3h0m0 0h0m0 5h0m0-4h0m1 13h0m0-8h0m0 8h0m0-14h0m1 11h0m0-10h0m1 13h0m0-12h0m1 9h0m0 1h0m1-5h0m1 5h0m0-1h0m0-2h0m0-4h0m2-5h0m0 5h0m0 9h0m1-3h0m0-6h0m2 6h0m0 0h0m1-6h0m0 5h0m0-6h0m0 7h0m0 1h0m0 1h0m1-3h0m1 0h0m1 0h0m0-8h0m1 5h0m1-1h0m0 0h0m2-3h0m3 1h0m0 7h0m0-6h0m4-1h0m1 2h0m4 0h0m0-2h0m3-3h0m6 2h0m2 5h0m0 5h0m2-3h0m3-8h0m0 11h0m8 4h0m-9 5h0m-4 1h0m-2-4h0m-6 9h0m-6-3h0m-1-6h0m-1-2h0m-2 5h0m-2 4h0m-3-7h0m-3-2h0m0 3h0m-2-4h0m0 4h0m-1 2h0m0 7h0m-1 2h0m-1-14h0m0 2h0m-4 11h0m-1-7h0m-1-2h0m0-1h0m0 5h0m-1-7h0m0-2h0m-1 11h0m0 0h0m-1-10h0m-2 4h0m-1 10h0m-1-15h0m0 3h0m0 8h0m-1-11h0m0 3h0m-1 9h0m0-9h0m0-2h0m0 12h0m-1-12h0m0 8h0m0-6h0m-1 11h0m0-13h0m-1 0h0m-1 1h0m0 13h0m0-9h0m0-5h0m-2-1h0m0 9h0m0-7h0m0 3h0m-1 1h0m0-3h0m0 9h0m0-11h0m0 10h0m0 3h0m0-12h0m-1 4h0m0-5h0m0 12h0m-1-2h0m0 1h0m-1 0h0m0-5h0m0 4h0m0 0h0m-1 1h0m-2 0h0m0 2h0m-1-3h0m-2-11h0m0 15h0m-2-14h0m0 10h0m0-9h0m0 12h0m-1-9h0m-6-4h0m0 4h0m-1 2h0m0 6h0m-2-1h0m0-12h0m-1 14h0m-1-14h0m-1 4h0m-1 8h0m-1-2h0m0 0h0m-1-6h0m0 3h0m-1-1h0m-6 3h0m-4-7h0m-1 1h0m-4-1h0m-4 10h0m-1-9h0m-1 1h0m-11 5h0m13 17h0m3-4h0m5 9h0m5-13h0m0 1h0m1 8h0m6-4h0m1 5h0m1-11h0m10 2h0m4-3h0m4 8h0m2 0h0m2-3h0m1-3h0m1 4h0m2-2h0m1-2h0m1-2h0m3 10h0m0-6h0m1 6h0m1 0h0m7 4h0m0-2h0m3-7h0m0 3h0m6-1h0m0-6h0m1 0h0m1 5h0m0-6h0m1 2h0m3 2h0m1 1h0m1-5h0m9 10h0m0 3h0m50 13h0m-65-9h0m-16 10h0m-7-4h0m-2-6h0m-10 0h0m-1 0h0m-3 11h0m-5-11h0m-8 2h0m-20 4h0m50 15h0" stroke="#138892" stroke-opacity="0.55" stroke-width="4.0" stroke-linecap="round" fill="none"/>
<path d="M178 237h0m50-2h0m15 1h0m25 3h0m29 4h0m-15 10h0m-3-2h0m-6-5h0m-8 5h0m-13 1h0m-10-3h0m0-6h0m-11 10h0m-35 12h0m2-6h0m12 6h0m4-1h0m0-8h0m1 3h0m0 9h0m3-10h0m2 11h0m0-4h0m6-4h0m0 4h0m0 4h0m0 1h0m0-5h0m3-1h0m6-8h0m1 10h0m0 3h0m6-9h0m1 2h0m1 4h0m0-2h0m2 6h0m0-11h0m1 7h0m0 5h0m5-1h0m0-7h0m0-5h0m1 1h0m0 10h0m3-3h0m3-3h0m5-2h0m1 3h0m4-5h0m3 1h0m4 0h0m3 1h0m5 9h0m8-4h0m5 4h0m27 4h0m-11 7h0m-9-6h0m-10 12h0m-2-15h0m-1 7h0m-1 8h0m-5-6h0m-3 0h0m0 6h0m-1-14h0m-1 4h0m-2 8h0m-2-4h0m0-2h0m-3-3h0m-1 11h0m-1-6h0m-7 6h0m-1-12h0m-1 10h0m0-3h0m-1 3h0m0-1h0m-1-4h0m0 7h0m-1-5h0m0-7h0m-1 8h0m0 3h0m0-3h0m0-8h0m-1-2h0m-1-1h0m-1 2h0m-1-2h0m0 2h0m-2 0h0m0 7h0m-1 6h0m0-8h0m-1-4h0m0 4h0m-1-2h0m-2 5h0m0-7h0m-1-1h0m0 8h0m0 2h0m0-3h0m0 6h0m-1-8h0m0 1h0m-1 6h0m-1-12h0m0 0h0m0 2h0m-1 2h0m-2-5h0m0 10h0m0-1h0m0 1h0m-1-7h0m0 8h0m-3 1h0m0 0h0m-2-7h0m0 6h0m-2 3h0m-2-10h0m0 8h0m-2 2h0m-3-8h0m-1 0h0m0-5h0m-2 4h0m-1-1h0m0-1h0m-1 4h0m-2 1h0m-6 5h0m-2-7h0m-1 8h0m-2-8h0m-8 4h0m-9 1h0m-12 17h0m16 0h0m4-11h0m3 6h0m1-4h0m3 1h0m3 3h0m2-7h0m1 3h0m1-3h0m1 12h0m2-5h0m3 2h0m0 4h0m0-1h0m1 0h0m1-4h0m1 1h0m1 1h0m0-11h0m0 11h0m1-4h0m0 2h0m0 5h0m1-9h0m0-5h0m0 7h0m1 3h0m0 2h0m1 3h0m1-3h0m0-4h0m1 0h0m1 4h0m0-8h0m0 4h0m0 7h0m1-7h0m1 1h0m1-8h0m0 8h0m0-7h0m0 4h0m1 0h0m2-1h0m0 1h0m1-6h0m0 12h0m1 0h0m0-5h0m0 7h0m1-10h0m1-1h0m0 2h0m0 4h0m1-3h0m0-5h0m0 7h0m1-4h0m1 5h0m0-4h0m0 4h0m1-2h0m1-3h0m1-1h0m0 7h0m0-1h0m0 1h0m0 0h0m0-6h0m1 0h0m0-1h0m0 11h0m0-14h0m0 7h0m0 3h0m0-2h0m1-8h0m0 14h0m0-13h0m1 6h0m1-1h0m0 9h0m0-11h0m0 4h0m0 2h0m1 2h0m0-5h0m1 6h0m1 0h0m0-1h0m1-1h0m0-9h0m1 6h0m0-6h0m1-1h0m0 2h0m0 6h0m0-4h0m1-1h0m0 2h0m2-2h0m2 10h0m1 1h0m0-12h0m0 7h0m0-4h0m1 9h0m1-3h0m0-5h0m0-4h0m1 10h0m4-12h0m2 13h0m1-4h0m0-5h0m2 4h0m0 6h0m1-7h0m1 4h0m0-9h0m1 2h0m0 2h0m1 8h0m2-10h0m1 5h0m0 3h0m1 2h0m0-8h0m0-2h0m2 2h0m2 2h0m9-5h0m2 7h0m3-9h0m-4 14h0m-2 7h0m0-7h0m-1 1h0m-13 0h0m0 12h0m-1-7h0m-3 5h0m-2 1h0m0-8h0m-2 0h0m0 8h0m-2-12h0m-1 9h0m-1 6h0m0-7h0m-1 5h0m0-4h0m0 4h0m-1-11h0m0 8h0m0 1h0m-1-8h0m-1-3h0m-3 8h0m0 7h0m-1-9h0m0 0h0m0-1h0m0-2h0m-2 12h0m-1-2h0m-1 1h0m-1-10h0m-1 1h0m0 2h0m-1-4h0m-2-2h0m0 10h0m-1-7h0m0 0h0m0 10h0m-1-1h0m0-9h0m-1-3h0m-2-1h0m0 5h0m0-3h0m0 8h0m-1-10h0m0 4h0m-1 2h0m-2 0h0m-1 2h0m0-1h0m-1-4h0m-1 10h0m0-3h0m0-9h0m0 0h0m0 13h0m0-2h0m-1-8h0m-1 10h0m0-1h0m0-5h0m0 3h0m-1-8h0m0-3h0m0 0h0m-1 3h0m0-3h0m0 15h0m-1-4h0m-1-9h0m0 10h0m-3-4h0m-1 5h0m-1 0h0m-1 0h0m0-8h0m-2 8h0m0-6h0m0 1h0m-1 2h0m0-2h0m-1-6h0m0 3h0m0-1h0m0-3h0m-1 8h0m0 1h0m-1-9h0m-1-1h0m0 11h0m-2 3h0m-1-8h0m-1-4h0m-3 7h0m-9 4h0m-3-7h0m-5 5h0m-3-5h0m-32 9h0m38 1h0m0 9h0m11-6h0m0-3h0m6 0h0m1 4h0m0 6h0m1-5h0m3-1h0m1-4h0m2 7h0m0 7h0m1-8h0m1 4h0m2-6h0m0 10h0m1-11h0m3 12h0m0-3h0m1-4h0m1-1h0m0 6h0m1-1h0m3-12h0m0 4h0m1 1h0m0 7h0m0-10h0m4 0h0m0 9h0m1 3h0m0-8h0m0-3h0m0 3h0m5-6h0m0 1h0m1 8h0m1-3h0m4 3h0m1 6h0m0-12h0m0-2h0m1 13h0m1-5h0m0 6h0m6-14h0m0 4h0m1-3h0m1 3h0m1-2h0m2 3h0m3-4h0m8 6h0m3-3h0m14-1h0m-30 16h0m-6 11h0m-1-13h0m-8 2h0m-6 0h0m-2 4h0m-3-6h0m-3 0h0m-17 0h0m-1 2h0m0-1h0m-21 1h0m-1 7h0m16 31h0" stroke="#138892" stroke-opacity="0.55" stroke-width="4.0" stroke-linecap="round" fill="none"/>
<path d="M199 191h0m12 38h0m41-4h0m1 11h0m28-3h0m35 9h0m-9 0h0m-30 7h0m-20-2h0m-4-2h0m0 9h0m-5-4h0m-4-4h0m-3-1h0m-7 7h0m-41 15h0m24 4h0m6 0h0m1-6h0m3 1h0m0 4h0m2-6h0m2 1h0m1-7h0m2 8h0m3-6h0m2 1h0m0 6h0m1 3h0m0-14h0m0 1h0m0 11h0m2-1h0m2-1h0m1 4h0m1 0h0m1-7h0m2-6h0m3 2h0m3 5h0m1-3h0m0 3h0m1-3h0m1 10h0m1-6h0m1 2h0m0 3h0m5-11h0m1 6h0m3 2h0m0-3h0m4-5h0m4-3h0m0 4h0m1 4h0m6-8h0m11 15h0m12 0h0m-6 13h0m-20-4h0m-1 4h0m-3 2h0m0-4h0m-1 2h0m-1-4h0m-2-2h0m0 9h0m-1-6h0m-1-4h0m-1 5h0m-1-3h0m0 3h0m0 0h0m-1-7h0m-3 3h0m-1 2h0m-1-1h0m0 4h0m-1 4h0m0-9h0m-1-5h0m-1 12h0m0-11h0m0 0h0m0 10h0m-2-5h0m-2-6h0m-1 6h0m0 2h0m-1 1h0m0 4h0m0-6h0m0 5h0m-1-8h0m-2 9h0m0-4h0m0 4h0m-1-1h0m0-11h0m0 0h0m-1-2h0m-1 10h0m0-7h0m0 2h0m0-1h0m0 9h0m-1-6h0m-1-3h0m-1-4h0m-4 6h0m0 7h0m0-13h0m0 9h0m-1 6h0m0-3h0m0-4h0m0-8h0m-1 14h0m0-3h0m0-9h0m-2 6h0m-1 6h0m0-3h0m0-11h0m0 14h0m0-12h0m-1 12h0m0-10h0m0-1h0m0-2h0m-1 14h0m-1-11h0m-1 9h0m0 0h0m-1-4h0m-1 4h0m-1-11h0m-3 13h0m-2 0h0m-2-8h0m-1-7h0m0 9h0m-1 4h0m0-6h0m0 5h0m-1 0h0m-4-3h0m-1 1h0m-3-6h0m0 6h0m0 2h0m-1-10h0m0 8h0m-2-3h0m-1 8h0m0 0h0m0-2h0m0-3h0m0-1h0m-2 2h0m-2 2h0m-2-7h0m-1 9h0m-9-13h0m-2 25h0m10 2h0m0-1h0m3-7h0m4-2h0m0 0h0m0 8h0m1-1h0m2-1h0m0 3h0m2-6h0m2 4h0m1-10h0m0 15h0m1-15h0m1 14h0m0-4h0m3 2h0m0-5h0m0 6h0m0-2h0m2-4h0m2 4h0m1-1h0m0 4h0m2-14h0m1 0h0m0 15h0m1-5h0m0-4h0m0 0h0m1 4h0m1-5h0m0 7h0m1 2h0m0-9h0m1 0h0m1-4h0m0 2h0m0 5h0m2 1h0m0-1h0m0 6h0m1-2h0m2-4h0m1-4h0m0 3h0m1-6h0m0 12h0m0-1h0m0-5h0m1-3h0m0 1h0m0 4h0m0-2h0m0-4h0m1 1h0m0-4h0m0 10h0m1 4h0m1-9h0m0 9h0m0-9h0m0-3h0m0 7h0m1-4h0m1 8h0m1-9h0m1-1h0m0-1h0m1 10h0m0-12h0m0 14h0m1-2h0m0-10h0m1 6h0m1 0h0m1-8h0m0 8h0m2 2h0m1 2h0m0 2h0m1 1h0m0-1h0m0-5h0m2 3h0m2-4h0m1 6h0m0-14h0m2 14h0m0 1h0m2-12h0m0 1h0m1 1h0m0 5h0m1-8h0m1 2h0m1-1h0m2 2h0m0-4h0m1 14h0m2-12h0m0-1h0m1 6h0m0 5h0m1-10h0m2-1h0m2 3h0m4 7h0m0-8h0m10 8h0m3-12h0m1 9h0m3-5h0m9 11h0m45-2h0m-48 5h0m-12 2h0m-3 9h0m0-9h0m-4 8h0m-4-4h0m-1-4h0m-4-2h0m0 3h0m-4 1h0m-2 9h0m-4-13h0m-2 7h0m0 6h0m-1-4h0m-1 2h0m0-4h0m0 0h0m-1-8h0m0 0h0m0 8h0m-1-3h0m0 0h0m0-1h0m-1 4h0m-1-9h0m0 15h0m-1-11h0m0 9h0m0-11h0m-1 6h0m-3 0h0m-2-5h0m0 3h0m0 3h0m-1-6h0m0 4h0m-1-2h0m0 6h0m0-3h0m-1-4h0m0 8h0m0-7h0m-2 4h0m0 2h0m-1-7h0m0 4h0m-1-3h0m0 3h0m0-2h0m-1 6h0m0-7h0m0 3h0m0 2h0m-1-7h0m0 10h0m-1-9h0m0 1h0m0 3h0m-1-4h0m-1-1h0m-1-3h0m-1 2h0m0 12h0m0-7h0m-1 4h0m0-9h0m0 9h0m-1-11h0m-1 2h0m0 9h0m-1-9h0m0 10h0m0-11h0m-1 2h0m0 1h0m0 8h0m0 2h0m0-12h0m-1 12h0m0-10h0m0-3h0m-1 6h0m0 6h0m-1-5h0m0 7h0m-2-10h0m-2 6h0m-2-2h0m0-3h0m-1 9h0m0-2h0m-1-13h0m0 3h0m-1 12h0m-1-14h0m-1 0h0m-2 7h0m0-7h0m-5 4h0m-2-2h0m-2 1h0m0 8h0m-1-12h0m-2 10h0m-1-5h0m-5 5h0m-1 4h0m-24-2h0m-3-11h0m24 30h0m11-14h0m3-1h0m0 5h0m1 4h0m0-8h0m2 3h0m3 2h0m1-3h0m2-1h0m2 12h0m2-12h0m0 13h0m6-13h0m1 7h0m2 3h0m1-9h0m3 11h0m1-4h0m0 2h0m3-12h0m4 2h0m0 6h0m2-4h0m0-1h0m0-2h0m1 8h0m1-9h0m0 7h0m0-7h0m0 6h0m2-3h0m1 0h0m2-1h0m0 11h0m5-11h0m2 9h0m8 2h0m2-10h0m1 2h0m1 0h0m2 2h0m1-7h0m1 13h0m13-9h0m0-2h0m7 10h0m-11 13h0m-23-7h0m-7 0h0m-2 11h0m-10-10h0m-6 6h0m-25 4h0m-1-3h0m-29 2h0m79 9h0m50 8h0m-80 33h0m25-8h0" stroke="#138892" stroke-opacity="0.55" stroke-width="4.0" stroke-linecap="round" fill="none"/>
<path d="M247 189h0m21 34h0m-25 8h0m12 2h0m19 3h0m8 18h0m-15 1h0m-2 0h0m-2-8h0m-6 4h0m-3 3h0m-14-12h0m-14 3h0m-6-2h0m-13 17h0m6 6h0m1-2h0m2 5h0m6-2h0m3 4h0m2-14h0m2 9h0m3-8h0m0 4h0m1 7h0m2-3h0m1 4h0m0-3h0m1 2h0m2-1h0m0-7h0m1-1h0m0 0h0m1 10h0m5-11h0m1 1h0m0 1h0m2-1h0m0-3h0m2 5h0m1 2h0m1 0h0m2 1h0m1 0h0m0 2h0m2 1h0m0 3h0m3-1h0m1-5h0m7 0h0m3 1h0m3 3h0m2-3h0m3 1h0m4 4h0m10-3h0m3 1h0m2-13h0m11 25h0m-20-4h0m-6 5h0m-1-4h0m-3 2h0m-1-3h0m-5 0h0m-1 6h0m-2 0h0m-1 0h0m0-5h0m0 8h0m0-4h0m0 3h0m0 2h0m0-9h0m-1-2h0m0 1h0m-4 6h0m0 1h0m0-3h0m-1-7h0m0 3h0m0-5h0m-1 7h0m0-6h0m-1 9h0m0-2h0m-1 5h0m0-3h0m-1 5h0m0-11h0m0 0h0m0 2h0m-1 3h0m-2-6h0m0 12h0m-1 0h0m0-8h0m-1 8h0m-1-7h0m0 1h0m0-7h0m0 6h0m-1-6h0m-1 12h0m0-2h0m0-1h0m0-9h0m0 2h0m-1 11h0m0-4h0m-1-7h0m0 8h0m-1-9h0m-1 8h0m0 4h0m0-13h0m-1 9h0m0-5h0m-1 8h0m-1-14h0m0 13h0m-1 0h0m0-3h0m0 1h0m-1-1h0m0 2h0m-1 2h0m-1-9h0m0 5h0m-1-10h0m0 0h0m-1 3h0m-1 9h0m0 2h0m0-7h0m0 6h0m0 1h0m0-1h0m-2-6h0m-1-6h0m-3 13h0m0-3h0m0 0h0m-1-2h0m-1 0h0m-3-2h0m-1 8h0m-1-7h0m-1-8h0m0 6h0m0 7h0m0 1h0m0-5h0m-1-1h0m0-4h0m0 1h0m-8 7h0m-3-4h0m0 5h0m-2-5h0m0 2h0m0-7h0m-41 6h0m26 11h0m7 10h0m6-14h0m1 5h0m0-1h0m5 9h0m1-11h0m1 6h0m2-3h0m0 0h0m3 4h0m0-1h0m1-7h0m1 6h0m0 0h0m1-6h0m0 3h0m0 3h0m0-6h0m1 3h0m1-4h0m0 8h0m1 6h0m0-10h0m0 6h0m0-6h0m1 11h0m2-13h0m1 3h0m0 0h0m1 10h0m0-4h0m0-4h0m0 6h0m1 0h0m0-11h0m1 6h0m1 1h0m0 0h0m1-8h0m0 12h0m0-1h0m1 3h0m0-12h0m0-3h0m1 15h0m0-5h0m0-6h0m0-1h0m1 4h0m1 0h0m0-2h0m0 5h0m1-7h0m1 1h0m0 8h0m1 3h0m0-11h0m1 11h0m0-2h0m0-7h0m1 8h0m0-1h0m1-4h0m0-1h0m1 2h0m0-6h0m1 7h0m1-1h0m0-2h0m0 2h0m0-7h0m0 9h0m1-8h0m0 5h0m0 5h0m1-2h0m1-8h0m0 7h0m0-4h0m1-5h0m1 12h0m1-1h0m0-2h0m2 4h0m0-1h0m1-10h0m0-1h0m1-2h0m0 12h0m0 2h0m1-5h0m1-9h0m0 11h0m1-12h0m1 2h0m0-2h0m1 7h0m1-7h0m1 15h0m0-12h0m1 4h0m0 0h0m1 7h0m1-8h0m1 6h0m1-7h0m0 4h0m1 1h0m0-7h0m1 4h0m0 7h0m0-6h0m9-5h0m0 6h0m2-2h0m2-2h0m4-4h0m8 14h0m2-1h0m-8 3h0m-6 10h0m-1-3h0m-1-6h0m-4 11h0m0-5h0m0-8h0m-2 13h0m-2-2h0m-1-6h0m0-5h0m0 3h0m-5 8h0m0-2h0m-1-2h0m-1 0h0m0 3h0m0-6h0m-3 8h0m0-2h0m-1-6h0m-1 3h0m0 3h0m0-10h0m0 0h0m-1 7h0m-1-5h0m-1 8h0m0-9h0m-1 10h0m-2-10h0m0 2h0m-1-3h0m0 5h0m0 7h0m-1-6h0m0 8h0m-2-5h0m0 6h0m0 0h0m-1-11h0m0 6h0m-2-7h0m-2 11h0m-2-13h0m-1 9h0m0-4h0m0 1h0m-1-6h0m0-1h0m0 11h0m-1-7h0m-1 0h0m-1 1h0m-1-4h0m0 0h0m0 1h0m0-1h0m-1 1h0m-1 7h0m0-6h0m0 1h0m-1 4h0m0 7h0m0-4h0m-1-8h0m-1 7h0m0-10h0m0 8h0m-3-2h0m-2 9h0m-1-15h0m0 11h0m-1 0h0m-1 0h0m0-11h0m0 2h0m-1-2h0m0 4h0m0 0h0m0 4h0m-2-4h0m-1 2h0m0 2h0m0 1h0m-3-8h0m0 0h0m-3 9h0m-2 0h0m0-6h0m-2-3h0m0 13h0m-1-13h0m-9 14h0m-3-8h0m-8-2h0m-4 7h0m-10 6h0m15 5h0m5-5h0m4 6h0m1-1h0m6-7h0m4 2h0m1 4h0m1 9h0m1-14h0m1 7h0m1-3h0m3 0h0m1 8h0m2 0h0m1-5h0m1 2h0m0-6h0m1 2h0m1-6h0m1 10h0m0-7h0m1 8h0m1-9h0m0 8h0m2-10h0m0 5h0m1-4h0m0-1h0m2 8h0m4 2h0m1-3h0m1 4h0m2-4h0m3-6h0m1 1h0m0-2h0m1 0h0m0 11h0m0 2h0m1-1h0m2-6h0m2-3h0m2 5h0m1 1h0m1-2h0m2 5h0m1-1h0m0-5h0m8-4h0m11 0h0m6 9h0m3-8h0m3 0h0m7 0h0m7 10h0m-38 5h0m-11 0h0m-3 12h0m-6-13h0m-2-1h0m-8 2h0m0 1h0m-4 9h0m-3-11h0m-5 10h0m-7-11h0m-5 2h0m-7 5h0m13 26h0" stroke="#138892" stroke-opacity="0.55" stroke-width="4.0" stroke-linecap="round" fill="none"/>
<path d="M229 198h0m-146 20h0m139 23h0m-17 12h0m-78-8h0m-2 16h0m4 2h0m26-6h0m11 6h0m6 4h0m1-1h0m6 1h0m4-9h0m1 4h0m3-1h0m13 5h0m1 2h0m2-7h0m6 6h0m3 1h0m26-3h0m8-7h0m58 29h0m-29-10h0m-33 8h0m-12-6h0m-7-4h0m0 0h0m-2 12h0m-1-11h0m-3 11h0m-1-7h0m-1 0h0m-1 1h0m-2 4h0m-3-5h0m0 1h0m-1 4h0m-4 2h0m-3-6h0m0-1h0m-1-5h0m-3 12h0m-1-8h0m-5 8h0m-1-11h0m-3 7h0m-1 1h0m-1 2h0m-4 0h0m-1-9h0m-11 6h0m-5-9h0m0-2h0m-3 10h0m-1-1h0m0 1h0m-2-5h0m-2 5h0m0-2h0m-3-8h0m-1 5h0m-1 10h0m-2-6h0m-1-4h0m-1 4h0m-2 5h0m-3 0h0m-33-2h0m-3 6h0m22 12h0m12-6h0m7-1h0m4 1h0m0-1h0m1 4h0m1 2h0m0 1h0m3-5h0m2-9h0m0 12h0m1-3h0m0-5h0m1 3h0m1 0h0m0 0h0m1-5h0m1 10h0m0-6h0m1-4h0m2 1h0m0-2h0m0 7h0m1 5h0m0-12h0m2 8h0m2-1h0m1-8h0m0 14h0m1-6h0m0 6h0m1-12h0m1 10h0m0-7h0m1-1h0m0 3h0m1 8h0m1-4h0m1-8h0m1-2h0m0-1h0m1 12h0m0 0h0m1-4h0m1 5h0m2 2h0m0 0h0m1-6h0m0-2h0m1 8h0m0 0h0m0 0h0m1-2h0m1-1h0m0-8h0m0 3h0m0 4h0m1 2h0m0-11h0m1-1h0m2 13h0m1-9h0m0 1h0m2 4h0m0-2h0m0 4h0m1 1h0m1-3h0m2 1h0m0-10h0m0 14h0m0-4h0m0-1h0m1-7h0m0 12h0m1-5h0m2-8h0m0-2h0m1 8h0m1-2h0m1 7h0m1-9h0m5 8h0m0-9h0m2 12h0m1-1h0m0-1h0m0-11h0m0 7h0m1-4h0m2 9h0m4-6h0m0 2h0m7 5h0m1-14h0m1 7h0m2 3h0m0 3h0m2-7h0m6 8h0m7-14h0m1 14h0m11-13h0m8 1h0m-2 22h0m-5 4h0m-5-4h0m-5 0h0m-4-6h0m-2 7h0m0 1h0m-3-1h0m-5 2h0m0 0h0m-2 3h0m0-9h0m-2 9h0m-4-8h0m0-2h0m0-5h0m-1 5h0m0 7h0m0-1h0m0 4h0m-1-2h0m0-7h0m0 4h0m0-8h0m-1 11h0m-1-13h0m-1 14h0m0-9h0m-1 4h0m-1 5h0m-1-7h0m0 3h0m0-6h0m-1 2h0m-1 6h0m0-8h0m0 3h0m0-5h0m0 7h0m-1 1h0m0 4h0m0-1h0m-1-10h0m-1-1h0m0 11h0m-1-2h0m-1-11h0m-1 12h0m-1 3h0m0-4h0m-1-10h0m-1 8h0m0-1h0m0 4h0m0-7h0m-1 9h0m-1-11h0m-1 7h0m-1-8h0m0 9h0m0 2h0m0-13h0m-1 10h0m-3-8h0m0 12h0m0-12h0m0 10h0m-1-12h0m0 11h0m-1-4h0m0-3h0m-1 11h0m0-2h0m0-11h0m-1 13h0m0 0h0m-1-11h0m0 4h0m-1-6h0m0 2h0m0 8h0m-1-2h0m0 4h0m-1-11h0m0 2h0m-1-4h0m0 6h0m0 6h0m0-2h0m-1-10h0m0 8h0m-1-3h0m0-2h0m0 10h0m0-1h0m-1-4h0m0-7h0m-1 13h0m0-11h0m0 6h0m0-4h0m0 6h0m0-9h0m0 7h0m-1 1h0m0-1h0m-1 5h0m0-9h0m-1-2h0m-1-2h0m-1 8h0m0-4h0m0-5h0m-1 4h0m0 6h0m0 0h0m-1 1h0m0-11h0m-1 2h0m0-2h0m0 13h0m-1 1h0m0-11h0m0 9h0m0-4h0m-1-9h0m0 15h0m-1-6h0m-1-4h0m-1 2h0m-1 2h0m0-7h0m-1 0h0m0 5h0m-1 1h0m-1-4h0m0 6h0m0-1h0m-1-7h0m0 0h0m0 2h0m0 4h0m0-5h0m-1 7h0m-1 1h0m-1-1h0m0-9h0m0 8h0m-2-5h0m-1 11h0m-1-5h0m-1-8h0m-1 12h0m-1-2h0m0-9h0m-1 12h0m0-4h0m-1-2h0m-1-7h0m-2 0h0m-1 2h0m-1 5h0m-1-8h0m-1 13h0m0-6h0m-1-6h0m0 12h0m-2 1h0m0-13h0m-1 12h0m0-7h0m0 0h0m0 0h0m0-2h0m-6 4h0m0-3h0m-1 8h0m-1-12h0m-4 2h0m-1 7h0m-1-11h0m-14 14h0m-2 0h0m-33 16h0m3-1h0m30-12h0m9 13h0m10-4h0m5-2h0m4 6h0m0-5h0m3-7h0m2-1h0m1 3h0m0-2h0m1 8h0m2-4h0m1-1h0m0 0h0m1 0h0m0 4h0m3 0h0m0 4h0m1-7h0m2-3h0m0-3h0m0 7h0m2-7h0m0 3h0m1 6h0m0 3h0m0-1h0m1-7h0m1 2h0m0-4h0m1 5h0m0-7h0m1 8h0m0-3h0m0-1h0m2 4h0m1-7h0m0 12h0m0-10h0m1 12h0m0-13h0m1 5h0m2-1h0m0 3h0m0 2h0m0 2h0m1-5h0m0-3h0m1 9h0m0-5h0m1-7h0m0 7h0m0-5h0m1 4h0m0 0h0m0-3h0m0 6h0m1 3h0m0-7h0m0 8h0m0-15h0m2 15h0m0-15h0m0 3h0m0 6h0m1-5h0m0 8h0m0 3h0m0-2h0m1-11h0m0 0h0m0 6h0m0 5h0m1-6h0m0-1h0m1 8h0m0-4h0m0-6h0m0-3h0m0 5h0m1 8h0m0-8h0m0 2h0m0 2h0m1 5h0m0-15h0m1 5h0m1 7h0m1-2h0m0-2h0m0 2h0m0-8h0m0-2h0m1 14h0m0-7h0m0 8h0m1-12h0m0 12h0m0-5h0m0 5h0m0-15h0m1 2h0m0 4h0m0 1h0m0 0h0m1 2h0m0 3h0m0 0h0m1 0h0m0-1h0m0 0h0m1 1h0m0-12h0m0 7h0m0 6h0m0-2h0m0-3h0m0 4h0m0 1h0m1 1h0m0-5h0m0-6h0m0 0h0m1 2h0m0-5h0m0 9h0m1 6h0m0-12h0m1 11h0m0-8h0m0 7h0m1-13h0m0 6h0m1 5h0m0 3h0m0-3h0m0-2h0m1 2h0m0-3h0m0-7h0m1 12h0m0-5h0m0 3h0m0-3h0m0-3h0m0-2h0m2 10h0m0-11h0m0 10h0m1-2h0m0-2h0m0 7h0m1-3h0m0 1h0m0-10h0m1-3h0m0 7h0m0 5h0m1-10h0m0 2h0m0 11h0m0-15h0m0 0h0m1 14h0m0-6h0m0 1h0m1-4h0m0-4h0m0 3h0m1 4h0m0-1h0m1 5h0m0-8h0m0-2h0m0 11h0m0-13h0m0 10h0m1-5h0m0 7h0m0-11h0m0 11h0m1-4h0m0-3h0m1 10h0m1-12h0m0 11h0m0-11h0m1-2h0m1 12h0m0-1h0m1 0h0m1-7h0m1 5h0m1 3h0m0-7h0m1-1h0m0-3h0m0 8h0m0 0h0m1 3h0m1-12h0m4 9h0m0-8h0m2-1h0m0 10h0m1 0h0m0-7h0m6-2h0m0 4h0m1 7h0m1-4h0m0 2h0m1-3h0m1-7h0m1 11h0m6-9h0m4 5h0m7-8h0m7 4h0m3 9h0m2-1h0m6 2h0m10-12h0m38 21h0m-1-3h0m-43-2h0m-2 4h0m-12-4h0m-14 5h0m-2-3h0m-4 1h0m-3 2h0m-1 5h0m-1-8h0m-2-2h0m-1 1h0m-2 6h0m-3-3h0m-1 2h0m0 0h0m-3 7h0m0-15h0m-1 3h0m-1 10h0m-1-6h0m-1 3h0m0-3h0m-1 8h0m-1-13h0m0 9h0m-1-1h0m-3-3h0m0 2h0m0-3h0m0 1h0m-1 1h0m-1-1h0m-1-4h0m0 7h0m-1 1h0m0-10h0m-1 1h0m0 11h0m0-8h0m-1-4h0m0 7h0m0-2h0m-2-1h0m0-1h0m-2 10h0m0-14h0m0 5h0m-2-4h0m0 6h0m0 1h0m0 7h0m-1-5h0m0-9h0m0 9h0m-1-3h0m0-5h0m-1 11h0m0-3h0m-1 2h0m0-1h0m-2 4h0m0-1h0m-1-3h0m0-6h0m0-2h0m0 9h0m-1 1h0m0-12h0m-1 4h0m0 1h0m0 2h0m-1 3h0m0-3h0m-1-5h0m0 5h0m0 1h0m-1 1h0m0-10h0m0 10h0m0 2h0m-1-2h0m-1-2h0m0-8h0m0 1h0m0 2h0m-1 5h0m0-1h0m-1 0h0m0-4h0m0 6h0m0-5h0m-1 8h0m-1-4h0m0-2h0m0 7h0m-1-11h0m0 4h0m-1 9h0m0-3h0m0-11h0m0-1h0m0 11h0m0 4h0m-1-13h0m0 1h0m0-1h0m-1 11h0m0-13h0m0 15h0m-1-15h0m0 12h0m-1-5h0m0 1h0m0 2h0m-2-5h0m0 8h0m-1-13h0m-1 2h0m0 10h0m0-8h0m0-1h0m-1 1h0m0 2h0m-1 4h0m0-10h0m0 10h0m-2 5h0m0-10h0m-1 1h0m-1-5h0m-1-1h0m0 2h0m0 4h0m-1 3h0m-3-7h0m-1 0h0m0 11h0m-1-1h0m-1-9h0m0 7h0m-1 2h0m-1 2h0m-1 1h0m0-12h0m-1 11h0m-1-2h0m0-11h0m-3 14h0m-1-8h0m-1 1h0m0-4h0m0 5h0m-1-9h0m0 4h0m-1 0h0m-1 0h0m-3-1h0m0-2h0m0 0h0m0 4h0m-1 0h0m-1-4h0m0 1h0m-8 4h0m-1-3h0m-2 5h0m-1 7h0m0-2h0m-1-11h0m-1-1h0m-2 12h0m-3-3h0m-16 3h0m-3-6h0m-16-6h0m41 16h0m19 1h0m3 8h0m3-10h0m2 4h0m5 8h0m0-12h0m0 1h0m1 1h0m2 7h0m1-4h0m2-4h0m2 5h0m1-6h0m1 5h0m0 3h0m1 3h0m0-7h0m1-2h0m1 7h0m0-3h0m2-3h0m0-3h0m1 8h0m2-1h0m6-4h0m1-3h0m1 4h0m0-1h0m0 3h0m0 4h0m1-8h0m0 12h0m1-12h0m0 10h0m1-12h0m0 1h0m0 6h0m1-4h0m0 11h0m1-5h0m0-9h0m0 0h0m1 2h0m0 5h0m0 0h0m0-5h0m1 11h0m2 1h0m0-10h0m0 2h0m0 0h0m1 5h0m1-11h0m0 15h0m1-7h0m0 2h0m1-4h0m1 2h0m0-4h0m1 1h0m1 5h0m3-6h0m0 4h0m1-6h0m1-1h0m0 3h0m3 9h0m0-7h0m9 6h0m0-3h0m1 6h0m2-15h0m4 10h0m1-3h0m3-3h0m0 4h0m3-3h0m5 3h0m13 7h0m-4 6h0m-27-5h0m-4 11h0m-5-11h0m-3 1h0m-1 3h0m-2 7h0m0 4h0m-9 0h0m-2-15h0m-4 7h0m-1-3h0m0 9h0m-1-7h0m-1-3h0m-1 2h0m-1 3h0m-2-2h0m-2 0h0m-3-5h0m-8 1h0m-1-1h0m-1-1h0m-5 12h0m-1 1h0m-9-6h0m-6-3h0m-2 7h0m-26-9h0m-28 9h0m-26-10h0m112 19h0m0 1h0m10 9h0m6-5h0m5 5h0m13-10h0m0 10h0m6-14h0m-24 28h0m-46-9h0m-12 11h0" stroke="#b00000" stroke-opacity="0.5" stroke-width="4.0" stroke-linecap="round" fill="none"/>
<path d="M214 195h0m105 28h0m-67-12h0m-26 34h0m-13 9h0m-32-3h0m-26 9h0m8 5h0m5 5h0m1 1h0m1 0h0m4 0h0m11-2h0m1 2h0m3 0h0m4-1h0m2-6h0m0 5h0m1-13h0m6 5h0m9-4h0m3 13h0m3-7h0m3 1h0m24 17h0m-8 0h0m-8-3h0m-1-1h0m0 5h0m-1-8h0m-12 10h0m-1-3h0m-5 6h0m-1-10h0m0-1h0m0 9h0m-7-1h0m0-5h0m-2 3h0m0-4h0m-4 8h0m-1-3h0m-1-5h0m-1 7h0m0-4h0m-4 2h0m-3 0h0m-4 1h0m-4-7h0m-3 6h0m-4 3h0m0 0h0m-2 1h0m-4-10h0m-3 6h0m-1-9h0m-4 9h0m-1-3h0m-8-4h0m-4 10h0m-6 0h0m-11-7h0m8 12h0m9 12h0m3-1h0m3-9h0m1-4h0m0 0h0m2 14h0m2-12h0m1 10h0m1 1h0m2-1h0m2-6h0m3 8h0m4-11h0m0 11h0m0-3h0m1-8h0m0 9h0m1-11h0m0 12h0m0-3h0m1-8h0m1 6h0m0-3h0m0 7h0m2-6h0m0 3h0m1-10h0m0 9h0m1-1h0m0 4h0m0 2h0m2-11h0m0 1h0m1 9h0m0-11h0m1 4h0m0 9h0m0-7h0m1 1h0m0 2h0m1 3h0m0-9h0m2-4h0m1 13h0m0-13h0m0 14h0m2-2h0m1 2h0m0 0h0m0-6h0m1-6h0m1 12h0m0-2h0m0 1h0m1-1h0m1-5h0m0 1h0m1 6h0m1-14h0m2 13h0m0-4h0m1 5h0m0 0h0m0-14h0m0 12h0m3-13h0m0 7h0m0 6h0m0 1h0m1-5h0m0 3h0m1-9h0m0 2h0m0 2h0m1-4h0m0 10h0m1-12h0m0 11h0m0-2h0m1 5h0m0-5h0m0-8h0m0 13h0m1-4h0m0 0h0m0 3h0m1-6h0m0-3h0m2-5h0m0 10h0m1 2h0m0 1h0m0-6h0m1 2h0m0-4h0m1 6h0m0 3h0m2-13h0m1 1h0m2 10h0m1-1h0m1 1h0m1-2h0m1 2h0m0-5h0m1 0h0m1 5h0m1 3h0m0-1h0m0-11h0m1 7h0m0-8h0m1 3h0m1 7h0m2-1h0m1-2h0m2 0h0m3 1h0m1-3h0m12 8h0m5-5h0m51 21h0m-36-8h0m-1-6h0m-1 11h0m-18-2h0m-1-4h0m-1 6h0m0 0h0m-2 1h0m0-2h0m-1 2h0m-1-2h0m-1 4h0m0-6h0m-2-6h0m-1 7h0m-3 3h0m-1 1h0m-1-3h0m0 3h0m-1-6h0m-1-1h0m0-3h0m-1 1h0m-2-3h0m-1-2h0m0 15h0m0 0h0m0-4h0m-1-11h0m0 11h0m0 2h0m0-9h0m0 3h0m-1 3h0m0 1h0m0-8h0m0 0h0m0-3h0m-1 8h0m-1 5h0m-1 2h0m-2-3h0m0-6h0m-1 4h0m0-8h0m0 0h0m0 2h0m-1-3h0m0 12h0m-1-5h0m-1 2h0m0-3h0m-1-4h0m0 4h0m0 6h0m0-5h0m-1 1h0m-1 1h0m-1 2h0m0 1h0m0-9h0m-1-3h0m-1 6h0m-1 7h0m-1 1h0m0-5h0m-1 2h0m0 1h0m0-1h0m0 0h0m0-9h0m-1 9h0m0-12h0m-1 0h0m0 5h0m-1 9h0m0-4h0m-1-10h0m0 9h0m-1 2h0m-1-1h0m0-7h0m0 10h0m0 1h0m0 1h0m0 0h0m0-15h0m-1 13h0m0 2h0m0-6h0m0-3h0m0 3h0m-1 6h0m0-11h0m0-3h0m-1 2h0m0 1h0m-1 10h0m-1-8h0m0 1h0m0 0h0m0 7h0m0-9h0m-1 10h0m0-4h0m0-5h0m0-2h0m-1 7h0m-1 2h0m0-1h0m0-6h0m0 2h0m-1-2h0m-1-6h0m0 6h0m0-4h0m-1 13h0m0-5h0m-1 1h0m0 1h0m-1-6h0m0-2h0m0 2h0m0 4h0m0-10h0m-1 6h0m0-6h0m-1 12h0m-1-10h0m0 1h0m-1 3h0m-1-4h0m0 3h0m0 7h0m-1-10h0m-1 5h0m0-3h0m0 1h0m0 0h0m0 2h0m-1 4h0m0-8h0m-1 6h0m0-4h0m0 10h0m-1-10h0m0 6h0m0-3h0m0 3h0m-1-1h0m0-4h0m0 8h0m0 0h0m-1-8h0m-1 9h0m-1-9h0m-1 4h0m-1 5h0m-1-7h0m0 1h0m-1 4h0m-1-13h0m0 8h0m-2 6h0m0-10h0m-1 9h0m-1-7h0m-1 4h0m0-1h0m0 1h0m-1-7h0m-1 12h0m0-3h0m-1 3h0m0-9h0m-1 1h0m-1-2h0m-2-1h0m-2 6h0m0-5h0m0-1h0m-1-4h0m0 7h0m0 7h0m-2-6h0m-1-8h0m-1 3h0m-1 8h0m-2-9h0m-4 3h0m-2 0h0m0 5h0m-5 3h0m-3-10h0m-1 6h0m-3 5h0m-8-2h0m-1-11h0m0 8h0m-16-5h0m-23 5h0m9 17h0m50-8h0m3 10h0m5-4h0m0 2h0m2-7h0m4 9h0m3-6h0m1 7h0m0 0h0m1-1h0m0 2h0m2-8h0m0-2h0m1-2h0m1 8h0m0-10h0m2 8h0m0-1h0m1-4h0m0-3h0m2 3h0m0 11h0m2-8h0m1 2h0m1-2h0m0 9h0m1-11h0m2 0h0m0 3h0m1 2h0m2-5h0m2-4h0m0 11h0m0-10h0m0 14h0m0-9h0m0-6h0m1 13h0m0-8h0m0 10h0m1-8h0m0 0h0m0-3h0m1 3h0m0 6h0m0 2h0m0-3h0m0-5h0m1-2h0m0-3h0m0 4h0m0-4h0m1 3h0m0-3h0m0 12h0m1-10h0m0-4h0m1 11h0m0-11h0m0 14h0m1-8h0m1 2h0m1-6h0m0 2h0m0 0h0m0-3h0m2 6h0m0 5h0m0-4h0m0 2h0m0 2h0m1-12h0m0 0h0m1 4h0m0 9h0m0-11h0m0 8h0m0-3h0m1 6h0m0 0h0m0-4h0m0-1h0m1 5h0m0 1h0m1-7h0m1-6h0m1 13h0m0-13h0m1 2h0m0 5h0m0 1h0m0-9h0m0 7h0m0-7h0m0 7h0m1-6h0m0 12h0m1-5h0m0-6h0m0-1h0m2 4h0m1 2h0m0 7h0m0-10h0m1-2h0m0 13h0m0-8h0m1 0h0m0-3h0m0 9h0m0-11h0m0 11h0m0-5h0m1 6h0m1-11h0m0 9h0m1-3h0m0-3h0m1-5h0m1 8h0m0-7h0m0 13h0m0-13h0m1 5h0m0 5h0m0-3h0m1-3h0m0-6h0m0 5h0m0 7h0m0-12h0m1 14h0m0-5h0m0 3h0m0 3h0m1-4h0m0-5h0m1 7h0m1 0h0m0-2h0m1 2h0m0-6h0m3-6h0m0 13h0m1-12h0m1 3h0m0 0h0m0 5h0m1-2h0m0 2h0m0-3h0m0 8h0m0-8h0m1-6h0m0 5h0m0-1h0m0 9h0m0-2h0m1-4h0m0 3h0m0 1h0m1-4h0m0-5h0m0 10h0m1-2h0m0-8h0m1 10h0m1-5h0m1 0h0m0 0h0m1-3h0m1 2h0m0-4h0m1 9h0m4-10h0m0 9h0m0-11h0m2 8h0m1-1h0m0 3h0m1-10h0m1 14h0m0-8h0m2-2h0m0-4h0m0 4h0m0 9h0m3-11h0m2 2h0m0-3h0m2 14h0m0-8h0m1 6h0m7-3h0m3-4h0m2 1h0m4 7h0m3 0h0m6-9h0m12 3h0m13-4h0m-4 24h0m-40-6h0m-2-1h0m-1 7h0m-8 3h0m0-6h0m-4-4h0m-2 3h0m-1-3h0m-1 9h0m0-13h0m0 0h0m-1 0h0m-1 3h0m-3 8h0m-1 2h0m-2-10h0m0 6h0m-2 2h0m-1 3h0m-5-5h0m-1-9h0m-1 10h0m0-4h0m-1-3h0m-2 5h0m0 0h0m-1-6h0m0 10h0m0-2h0m-2-5h0m-1 1h0m0 2h0m0 2h0m-2-7h0m0 5h0m0-9h0m-1 1h0m-1 6h0m0-1h0m-1 2h0m0 6h0m-2-5h0m0-8h0m0 3h0m-2-2h0m0-1h0m0 6h0m0 4h0m-1-9h0m0 0h0m0 12h0m0 1h0m-1-3h0m-1-2h0m0 3h0m0 2h0m0-3h0m-1-2h0m-1 2h0m0-10h0m0 3h0m-1 7h0m-1-2h0m0-6h0m0 5h0m-1-7h0m0 4h0m-1-2h0m0 0h0m0 8h0m-1-10h0m0 13h0m0-1h0m-1-14h0m-1 6h0m0-6h0m0 6h0m0 7h0m-1-9h0m0-4h0m-1 11h0m-1-3h0m0-8h0m0 2h0m-1 6h0m0 3h0m-1-2h0m-1 1h0m-1-8h0m0 3h0m0 9h0m-1-10h0m-1-3h0m-1 10h0m-1-8h0m0 5h0m0 5h0m0-1h0m-1-10h0m-1 7h0m-1 6h0m-2-11h0m-1 6h0m0-8h0m-1 2h0m-1 0h0m0 10h0m-1-4h0m-3-4h0m-1-6h0m0 3h0m-1 0h0m-1 1h0m0 6h0m-1-8h0m-1 2h0m-2 1h0m0-5h0m-6 0h0m-1 6h0m0 8h0m-1-6h0m-1 1h0m-8-1h0m0-3h0m-3-5h0m-5 2h0m-5 5h0m-2-1h0m-15-2h0m19 14h0m3 10h0m0-6h0m4 8h0m8-6h0m0-2h0m2-2h0m2 2h0m1 9h0m4-6h0m2 2h0m2 1h0m1 3h0m1-5h0m1-4h0m1 7h0m1-7h0m4-2h0m1 0h0m1 0h0m0 11h0m2-13h0m2 7h0m4-2h0m1 3h0m0-7h0m0 3h0m1 6h0m0-10h0m0 9h0m0-9h0m3 6h0m0 2h0m0 2h0m0-1h0m1-6h0m0 6h0m1-3h0m0 1h0m0-3h0m2-6h0m1 8h0m1 3h0m0-1h0m0 2h0m0-12h0m2 9h0m0 6h0m1-9h0m0-4h0m0 3h0m1-2h0m1-1h0m0 8h0m0-1h0m1 3h0m0-9h0m1-2h0m0 7h0m0 0h0m1-1h0m0-3h0m1 5h0m1-6h0m0 12h0m2-10h0m0 5h0m2-9h0m1 12h0m0-7h0m2-3h0m1 12h0m0-4h0m5-7h0m0 2h0m0 2h0m1 0h0m1-3h0m1-1h0m0 11h0m0-5h0m0-1h0m1-2h0m3-1h0m0 0h0m0 2h0m0-6h0m1 6h0m0 1h0m0-9h0m2 15h0m0-15h0m0 3h0m1 4h0m0-1h0m2-1h0m2-4h0m1 7h0m1-4h0m1-3h0m0 0h0m2 3h0m0 7h0m0-4h0m1 8h0m1-3h0m1-11h0m3 1h0m3 6h0m4-4h0m3 7h0m1 3h0m9-12h0m13 3h0m50 7h0m-41 14h0m-6 5h0m-30-7h0m-3-6h0m-6 5h0m0-3h0m-1 9h0m-7 2h0m0 0h0m-5-4h0m-8 2h0m-3-12h0m-4 8h0m-3-7h0m-2 11h0m-1-5h0m-4-4h0m-1-3h0m0 7h0m-3-5h0m-9 6h0m0 3h0m-1 2h0m-1-1h0m-6-3h0m-22-5h0m-8-1h0m-10-3h0m-31 19h0m39-4h0m9 6h0m21-6h0m5 3h0m4-1h0m25-2h0m3 2h0m6 3h0m10-2h0m8 4h0m35-7h0m-52 19h0m-6 1h0m0 10h0m-37-11h0m-56 10h0" stroke="#b00000" stroke-opacity="0.5" stroke-width="4.0" stroke-linecap="round" fill="none"/>
<path d="M108 77h0m12 1h0m2 0h0m40-1h0m20-3h0m0 16h0m-15 4h0m-11-8h0m-3 7h0m-3-5h0m-3-1h0m-3 3h0m0-7h0m-1 11h0m-4-11h0m-12-2h0m-1-1h0m-6 14h0m-10-8h0m-15-5h0m-11 22h0m15 1h0m4 7h0m7-2h0m4 1h0m3 0h0m2-5h0m1 4h0m4-13h0m2 14h0m1-14h0m4 5h0m3-4h0m8 3h0m1 1h0m10-5h0m3 14h0m4-7h0m2 8h0m10-2h0m4 2h0m1-8h0m2-2h0m2 2h0m10-1h0m43 21h0m-31-10h0m-8 0h0m-24 10h0m0 2h0m-5-1h0m0-1h0m-1 1h0m-2-4h0m-1-3h0m-4 6h0m-8-3h0m-1-6h0m-4 4h0m0-5h0m-5 9h0m0-7h0m-1 0h0m-2 8h0m-2 3h0m-2 0h0m0-14h0m-4 2h0m-1 11h0m-4 2h0m-14-3h0m-1-2h0m-3-9h0m-2 6h0m-2 1h0m-9 5h0m16 10h0m3-1h0m16 4h0m2-2h0m8-7h0m2 11h0m2 2h0m6-3h0m1-10h0m6 12h0m13-9h0m0-1h0m1 2h0m3-5h0m1 12h0m18-10h0m3 1h0m11 4h0m18-3h0m4 11h0m1-14h0m5 24h0m-10-2h0m-6-5h0m-14 0h0m-3 1h0m-4-1h0m-4 5h0m-3-6h0m-2 8h0m-1-1h0m0-7h0m-5 3h0m-2-4h0m0 15h0m-7-6h0m-4-8h0m-4 6h0m-2-5h0m-1-2h0m-4 14h0m-14-3h0m-3-8h0m-3 12h0m-5-12h0m0 2h0m-2 9h0m-13-12h0m-1 11h0m-6 13h0m19 5h0m5-7h0m4-3h0m23-1h0m8 1h0m1-1h0m1-4h0m8 10h0m1-1h0m2 1h0m0 4h0m13-3h0m5-6h0m2 1h0m4 4h0m7-4h0m13 8h0m39-9h0m11 7h0m-78 7h0m-1-2h0m-4 6h0m-2-6h0m-2 0h0m-5 12h0m0 2h0m-5-3h0m-3-11h0m-4 3h0m-7 2h0m-7 0h0m-12 0h0m-31 4h0m-26 4h0m30 6h0m9-2h0m6 6h0m20-2h0m6 2h0m8-8h0m1 3h0m4-3h0m25 3h0m11 9h0m8 1h0m1 2h0m11-2h0m6-6h0m1-3h0m23 5h0m9-1h0m35 14h0m-17-6h0m-24 6h0m-2-5h0m-82 0h0m-9 4h0m-30 12h0m30 5h0m1-1h0m8 6h0m57 4h0m57-12h0m-82 13h0m-25 7h0m11 14h0m43 2h0m11-6h0m2 41h0m-16 17h0" stroke="#8a3290" stroke-opacity="0.5" stroke-width="3.4" stroke-linecap="round" fill="none"/>
<path d="M87 77h0m28-3h0m7 3h0m7 1h0m48 9h0m-9 2h0m0-4h0m-1 2h0m-4 3h0m-7 4h0m-2-12h0m-3 12h0m-1-7h0m-5 2h0m-8 3h0m-4-10h0m-6-2h0m-4 6h0m-18-3h0m-3 5h0m-9-7h0m-22 9h0m23 6h0m16 5h0m12-3h0m0-1h0m2 11h0m10-7h0m3 1h0m2 9h0m0-2h0m0-2h0m1 1h0m8-9h0m2-3h0m2 13h0m4-12h0m0 13h0m7-10h0m21 11h0m4-11h0m12-2h0m0 27h0m-2-6h0m0 6h0m-6-9h0m-1 3h0m-5-1h0m-12-4h0m-8 10h0m-1-9h0m-2-2h0m-11 12h0m-4-7h0m-2 5h0m0-5h0m-2 4h0m-7 0h0m-5 4h0m-8-9h0m-3-1h0m0 1h0m-2-4h0m-15 14h0m0 0h0m-21-2h0m-15 6h0m15-2h0m7 5h0m18 4h0m10 5h0m4-8h0m7-6h0m3 5h0m4 7h0m2-4h0m4-3h0m6 9h0m3-13h0m3-2h0m4 5h0m5 2h0m1 8h0m3-7h0m3-3h0m2 9h0m1-4h0m2 4h0m7-9h0m3 6h0m8 1h0m0-7h0m2 7h0m9-5h0m11 5h0m3 2h0m14-2h0m6 0h0m57 0h0m2-7h0m0 17h0m-63-4h0m-35 10h0m-12-6h0m-4-2h0m-2 11h0m-13-2h0m0-1h0m-4 3h0m0-6h0m-10-8h0m-4 2h0m-4 10h0m-2-3h0m0-3h0m-2 2h0m-5-7h0m0 6h0m-5 1h0m-4 2h0m-6 1h0m-20 0h0m-9-3h0m9 22h0m25-12h0m3 0h0m1-3h0m2 8h0m4 1h0m13 4h0m0-2h0m3-1h0m1-4h0m0 2h0m1-3h0m11-2h0m11 5h0m11-2h0m13 9h0m1-9h0m4 2h0m6-7h0m8 10h0m24-5h0m-25 15h0m-44-5h0m-8 7h0m-2-7h0m-8 11h0m-3 4h0m-13-14h0m-10 0h0m-2 7h0m-33 5h0m35 8h0m9 9h0m3 0h0m5 0h0m15 1h0m30-11h0m5 5h0m2-2h0m18 2h0m16 6h0m33-13h0m12 9h0m31 5h0m-67 6h0m-26-4h0m-23 5h0m-83 2h0m96 12h0m9-3h0m24 0h0m46 12h0m20-2h0m12 19h0m-44 0h0m-30-15h0m-8 15h0m-8 0h0m-10-12h0m-18 0h0m-8-3h0m-45 3h0m-4 0h0m-17 6h0m-14-6h0m70 26h0m81 5h0m-102 12h0m-11 6h0m198 22h0m-104-1h0m81 22h0" stroke="#8a3290" stroke-opacity="0.5" stroke-width="3.4" stroke-linecap="round" fill="none"/>
<path d="M86 77h0m25 0h0m8-2h0m31-1h0m3 5h0m120-3h0m-78 7h0m-27 8h0m-4-2h0m-7 6h0m-13-7h0m-1 5h0m-5-1h0m-6-5h0m0-6h0m-2 9h0m-8-9h0m-2 3h0m-2 8h0m-9-1h0m-27 9h0m4-4h0m4 11h0m15-6h0m3 5h0m3 4h0m3-12h0m5 11h0m16-7h0m1-3h0m6 2h0m5 4h0m0-7h0m2 11h0m9-2h0m3-7h0m1-2h0m7 12h0m8-13h0m3 12h0m1 2h0m28 0h0m41-15h0m-49 21h0m-4-4h0m-1 2h0m0 12h0m-2-9h0m-5-6h0m-8 2h0m-3 8h0m-6-7h0m-1-3h0m-4 1h0m-1 0h0m-2 12h0m-2-10h0m0-1h0m-3 0h0m0 0h0m-3 9h0m-4 0h0m-2-9h0m0 9h0m-5-5h0m-1-2h0m-5 3h0m-2 2h0m-1 5h0m-3-4h0m-7-2h0m-9-5h0m-2 9h0m-11-9h0m-3 6h0m-27-4h0m-6 9h0m7 13h0m6 0h0m26-3h0m11 3h0m17-1h0m3-5h0m3-1h0m1 5h0m10 5h0m7-6h0m4 7h0m6-14h0m4 5h0m1 0h0m1 9h0m5-10h0m3 3h0m3-7h0m5 3h0m2-2h0m11 3h0m6-3h0m2 3h0m3 10h0m20-4h0m4-3h0m84-4h0m-56 27h0m-22-10h0m-41 8h0m-4-2h0m-2-10h0m-3 14h0m-7-3h0m-4-12h0m-16 7h0m-3 1h0m-3-1h0m-4 1h0m-2 6h0m-4 1h0m-4-5h0m-2-9h0m-19 14h0m0-7h0m-4 0h0m-6 5h0m-3 3h0m9 6h0m5-2h0m14-4h0m2 11h0m10-9h0m13 10h0m12 1h0m5 1h0m1 1h0m7-5h0m1 4h0m1-14h0m7 7h0m5 3h0m8-10h0m8 9h0m19-9h0m15 1h0m16 29h0m-20-4h0m-14-10h0m-21 9h0m-12-9h0m-3 14h0m-9-14h0m-2 15h0m-24-13h0m-6 10h0m-11-8h0m-1 0h0m-20-4h0m-2 10h0m29 15h0m28-2h0m1 7h0m22-14h0m14 0h0m36 8h0m12 5h0m0 1h0m5-1h0m3-6h0m12 8h0m64 11h0m-83 4h0m-18-1h0m-56-2h0m-6-5h0m-33-5h0m-27 8h0m-28 20h0m85-7h0m11-3h0m16 0h0m12-1h0m44 5h0m-54 18h0m-24-3h0m18 12h0m31 5h0m-12 10h0m-9-1h0m-64 2h0m-1-1h0m115 16h0m15 23h0m-29 6h0" stroke="#8a3290" stroke-opacity="0.5" stroke-width="3.4" stroke-linecap="round" fill="none"/>
<path d="M76 79h0m13-3h0m103 10h0m-8 4h0m-6-7h0m-9 6h0m-4 3h0m-2 2h0m0-2h0m-5-3h0m-6-9h0m-6 10h0m-6-6h0m-3-1h0m-1-1h0m-5 5h0m0-1h0m-1 3h0m-15 5h0m-2-12h0m-17-2h0m-4 4h0m-3-4h0m-5 15h0m-8-4h0m-12 5h0m9 5h0m32 0h0m2 3h0m4-1h0m4 7h0m0 1h0m0-5h0m3-4h0m5-1h0m3 1h0m5 1h0m4 1h0m3 7h0m14-14h0m1 8h0m0 6h0m1-10h0m2 0h0m15 5h0m22 1h0m11-10h0m7 0h0m33 26h0m-5 1h0m-12-8h0m-11 5h0m-36 0h0m0-3h0m-10-2h0m-8 8h0m-1 0h0m-2-12h0m-4 9h0m-1 6h0m0-11h0m-2 9h0m-1-2h0m0-9h0m-3 12h0m0 0h0m-2-14h0m-12 11h0m-7 0h0m-5 1h0m-1-1h0m-5-3h0m-2-5h0m-7 0h0m-16 22h0m26-6h0m1 12h0m7-4h0m3-6h0m1 2h0m0 3h0m7 4h0m1-3h0m3 0h0m2-4h0m0 5h0m1-10h0m1 3h0m0 3h0m1-3h0m5 0h0m0 3h0m0-1h0m0-4h0m4 11h0m6-11h0m4-2h0m1 6h0m7-6h0m6 14h0m1-14h0m2 13h0m51-14h0m2 9h0m24 11h0m-2 2h0m-51 7h0m-1-12h0m-3 0h0m-1 11h0m-3-1h0m-1-4h0m-10-1h0m-2-6h0m-4 8h0m-2-6h0m-8 1h0m-8 6h0m-9-2h0m-3-7h0m-8 0h0m-4 10h0m-1 3h0m-8-10h0m-10 2h0m0 6h0m-13-11h0m-35 18h0m31 1h0m21 1h0m12-4h0m9 1h0m7 11h0m0-5h0m11-1h0m2-3h0m1 12h0m5-15h0m4 2h0m8 8h0m0-2h0m3-6h0m7 7h0m28 1h0m2-7h0m6 4h0m8-5h0m14-1h0m6 5h0m7 6h0m-1 8h0m-26-2h0m-9 7h0m-19-9h0m-11 15h0m-7-9h0m-18 1h0m-1 0h0m-3-7h0m-34 3h0m-44 25h0m22-7h0m23 4h0m16-2h0m2 6h0m4-7h0m15 6h0m3-5h0m5 6h0m40-3h0m7-9h0m6 9h0m24 3h0m1-7h0m31-1h0m-43 16h0m-15 1h0m-16 0h0m-19-3h0m-6 5h0m-33 3h0m-50-4h0m31 12h0m15 8h0m2-6h0m21 10h0m5-4h0m25-8h0m16 5h0m4 3h0m4-5h0m49-2h0m78 19h0m-1-6h0m-72 12h0m-55 1h0m-8-11h0m6 19h0m11 4h0m69 10h0" stroke="#8a3290" stroke-opacity="0.5" stroke-width="3.4" stroke-linecap="round" fill="none"/>
<path d="M90 77h0m19-3h0m27 0h0m2 1h0m7-1h0m1 1h0m17 2h0m62 9h0m-33-5h0m-11 14h0m-4-1h0m-9-7h0m-7-4h0m-1 3h0m-8 8h0m-7-7h0m-3 8h0m-11-8h0m-8-5h0m-30 3h0m-15 4h0m0 16h0m17-6h0m9 4h0m4 8h0m2-8h0m16-5h0m3-1h0m0 7h0m28 7h0m1-1h0m2-12h0m4 1h0m10 10h0m3-12h0m0-1h0m5 13h0m3-1h0m3-9h0m39 24h0m0 0h0m-6-6h0m-10 10h0m-21-6h0m-2-1h0m-9 6h0m-3-10h0m-1-1h0m-7 8h0m-2-1h0m-5-5h0m-1 10h0m-14-12h0m0 8h0m-2-5h0m-1-3h0m-1-3h0m-2 4h0m0 7h0m-4-3h0m-2 1h0m-3-8h0m-4 8h0m-5-1h0m-34 6h0m-8-14h0m0 9h0m16 21h0m5-5h0m13 6h0m4-4h0m3 4h0m2-9h0m0 4h0m0 4h0m4-7h0m3-3h0m20 4h0m0-4h0m8 9h0m2-7h0m5 5h0m8-11h0m1 12h0m4-11h0m0 6h0m2-6h0m1 5h0m10-1h0m4 0h0m20-1h0m72 17h0m-50-2h0m-28 7h0m-3 0h0m-6 1h0m-3 2h0m-7 1h0m0-3h0m-5-2h0m-2 4h0m-12 2h0m-1-5h0m-2 3h0m-8-12h0m0 14h0m-4-13h0m-8 9h0m0-5h0m0 2h0m-1-8h0m-7 14h0m-1-8h0m-5-1h0m0-3h0m-7 3h0m-1 1h0m-2 3h0m-3-7h0m-5 11h0m-5-10h0m-8 1h0m-1 8h0m-6 4h0m9 2h0m13 4h0m3-4h0m7 3h0m6 4h0m5-3h0m0 4h0m5-3h0m7-2h0m9-4h0m4 12h0m14-13h0m3 2h0m5 6h0m0 4h0m5 1h0m5-12h0m11 5h0m4-2h0m14 7h0m77-8h0m-5 27h0m-12-7h0m-66-1h0m-7-5h0m-3 4h0m-21 1h0m-3 0h0m-5 5h0m-2-5h0m-1-3h0m-8 4h0m-1 5h0m-2-3h0m-5-1h0m-21 4h0m-6-11h0m-6 12h0m0 12h0m8-8h0m13 3h0m4 10h0m6-4h0m83-6h0m1 9h0m16-11h0m28 8h0m-1 10h0m-24 2h0m-13-1h0m-12 5h0m-10 2h0m-24-1h0m-10-4h0m-22 3h0m-14-6h0m-2 1h0m-15-1h0m6 24h0m65-12h0m41 9h0m69 0h0m-119 12h0m-28 0h0m-42 4h0m68 33h0m0 3h0m-45 20h0" stroke="#8a3290" stroke-opacity="0.5" stroke-width="3.4" stroke-linecap="round" fill="none"/>
<path d="M135 76h0m28 0h0m76 17h0m-65-11h0m-9 6h0m-8 2h0m-15-1h0m0-8h0m-5 14h0m-4-1h0m-3 0h0m-4 0h0m-3-10h0m-10 2h0m-9-6h0m-11 10h0m10 14h0m6 4h0m7 2h0m0-1h0m4-11h0m1 12h0m3-2h0m11-10h0m0 5h0m2-6h0m7 14h0m3-13h0m2 10h0m0-6h0m7 6h0m10-5h0m3-3h0m2-4h0m2 8h0m2 5h0m24 0h0m1-6h0m7 1h0m38 19h0m-4 3h0m-47-11h0m-8 10h0m-14-7h0m-5-2h0m-2 0h0m0 7h0m-6-8h0m-1 11h0m0-11h0m-4 7h0m-1-2h0m-5-7h0m-4 1h0m-1 5h0m-1-7h0m-1 11h0m-6-2h0m-1-6h0m-3 5h0m-1 4h0m0-8h0m-2-2h0m-12 12h0m-6-10h0m-7 2h0m-17 0h0m-16 3h0m46 19h0m6-3h0m3 0h0m1-9h0m2 7h0m3-4h0m6 6h0m4-4h0m4 2h0m3 6h0m1-11h0m1 12h0m18-14h0m1 3h0m0 11h0m0-9h0m1-2h0m6 11h0m5-7h0m8 8h0m4 0h0m6-8h0m13 7h0m19-9h0m0 1h0m19 4h0m29 3h0m14 15h0m-55-9h0m-10 11h0m-12-8h0m-3-3h0m-1-3h0m-11 9h0m-4-3h0m-6-2h0m-10 6h0m0 4h0m-21-2h0m-1 2h0m-3-7h0m-1 8h0m0-3h0m-1-3h0m-7 2h0m-12-10h0m-2 14h0m-18-9h0m-7-4h0m2 18h0m3 10h0m3-6h0m0-4h0m31-1h0m7 0h0m5 1h0m0-1h0m6-1h0m1 10h0m5-8h0m5-4h0m2 7h0m5 5h0m0-9h0m18 3h0m15 8h0m10 1h0m1-4h0m5-5h0m14 9h0m30 14h0m-18-12h0m-25 12h0m-11-1h0m-3-9h0m-30 11h0m-2 0h0m0-1h0m-3-3h0m-3-3h0m0-3h0m-24 7h0m-9 3h0m-28-1h0m-49 2h0m31 7h0m4-6h0m39 10h0m2-5h0m19 7h0m4 0h0m1-11h0m10 9h0m14 4h0m2-1h0m35-5h0m23-2h0m13 2h0m0-6h0m62 3h0m-12 21h0m-131-10h0m-42 15h0m-6 12h0m6-5h0m10-5h0m1 2h0m17 7h0m42-4h0m8-4h0m4 7h0m52 0h0m28 14h0m-39 2h0m-79 6h0m-26-10h0m-2 6h0m-11-11h0m-33 16h0m25 14h0m33-14h0m21 4h0m67 13h0m-126 13h0m75 10h0m33-7h0" stroke="#8a3290" stroke-opacity="0.5" stroke-width="3.4" stroke-linecap="round" fill="none"/>
<path d="M102 76h0m2 0h0m8 1h0m20-1h0m10 2h0m18-2h0m30 2h0m-4 11h0m-6 0h0m-2-2h0m-10-5h0m0 4h0m-3-3h0m-4 11h0m-1-1h0m-1-3h0m-4-4h0m-3-5h0m0 7h0m0-2h0m-2-2h0m-3 5h0m-1 2h0m0 3h0m-3-2h0m-6-11h0m-2 2h0m-2 4h0m-3 6h0m-2-10h0m-1 2h0m-6 3h0m-1 3h0m-1-10h0m-2 8h0m-3 5h0m-1-11h0m-18 11h0m-7 9h0m5 5h0m7-11h0m3 12h0m10-3h0m2-5h0m2-3h0m1 11h0m1-13h0m4 5h0m6 6h0m2-11h0m1 3h0m9 12h0m0-13h0m2 11h0m2 2h0m0-6h0m1 1h0m0-1h0m1 3h0m7-4h0m2-5h0m2 4h0m11-7h0m2 14h0m6-2h0m1-4h0m2 3h0m10-8h0m9 3h0m2-1h0m10 13h0m-2 4h0m-8 2h0m-16 0h0m-12-2h0m-6-5h0m-1 8h0m0 1h0m-10-5h0m-1 5h0m-1 1h0m-2-5h0m-2-2h0m-3 0h0m-5 10h0m-2-4h0m-2-4h0m-3 7h0m-3 1h0m-2-8h0m0-1h0m-3-4h0m0 9h0m-3 4h0m-6-12h0m-2 7h0m-1 2h0m0 4h0m-27 16h0m13-6h0m12 6h0m19-2h0m9-2h0m1 4h0m0-3h0m1-1h0m4-3h0m4-5h0m1-2h0m3-1h0m11 11h0m1-11h0m1 7h0m3-3h0m2 2h0m1-5h0m5-1h0m0 1h0m5 2h0m20 11h0m0-4h0m26 21h0m-1-8h0m-6-3h0m-16 7h0m-8-5h0m-4-2h0m-8 10h0m-4-13h0m0 12h0m-5 2h0m-3 0h0m-5-11h0m0 0h0m-5 0h0m-1 1h0m-3 9h0m-1-8h0m-3 4h0m-1-9h0m0 4h0m-20-1h0m0 6h0m-5 1h0m-9-10h0m-1 5h0m-5 0h0m-3 1h0m-18-7h0m-3 0h0m-9 27h0m14-4h0m4-5h0m14-2h0m8 9h0m4-8h0m4 11h0m5-11h0m1 5h0m4-3h0m5 10h0m19-5h0m2-1h0m2 2h0m1 3h0m7-8h0m8 3h0m0-1h0m0 7h0m3-7h0m3 1h0m2-7h0m1 12h0m8-12h0m6 15h0m33-11h0m11-2h0m-8 29h0m-38-6h0m-9-3h0m-7-3h0m-13 2h0m-1-5h0m-3 2h0m-3 11h0m-6-11h0m-1 3h0m-4 1h0m-35-4h0m9 14h0m1 7h0m21 7h0m3-3h0m22 1h0m15-4h0m4-4h0m45-3h0m57 17h0m-20 9h0m-41 2h0m-7-10h0m-9-1h0m-13 6h0m-65 17h0m77-5h0m21 4h0m-46 32h0m39-8h0" stroke="#2a0632" stroke-opacity="0.5" stroke-width="3.4" stroke-linecap="round" fill="none"/>
<path d="M106 76h0m3-1h0m6-1h0m5 3h0m12-1h0m51 1h0m1 9h0m-1 6h0m-10-6h0m-1 7h0m-5-5h0m-9 1h0m0 3h0m-4-3h0m0 3h0m-3-6h0m-6 6h0m-1-12h0m-2 5h0m0 9h0m-2-3h0m-1-4h0m0 1h0m0 7h0m-5-5h0m-2-1h0m-5 4h0m-16-8h0m-11-5h0m-9 9h0m0-2h0m3 19h0m26 1h0m1-10h0m1 2h0m1-1h0m5 13h0m1 0h0m1-1h0m0-7h0m1-4h0m3 10h0m3-8h0m0-3h0m0 2h0m4 4h0m2-2h0m0 4h0m1 4h0m0-2h0m1-11h0m4 3h0m1 2h0m3-3h0m3 7h0m1-4h0m0 9h0m1 0h0m2-6h0m0 0h0m10-2h0m1 5h0m6 2h0m1-12h0m3 3h0m13 6h0m15-9h0m76 24h0m-44-6h0m-19 1h0m-35 6h0m-6-3h0m-9 4h0m-3-11h0m0 7h0m-1 0h0m-4-7h0m0 4h0m-2 2h0m-3 6h0m-2-7h0m0 3h0m-1-1h0m0-2h0m-1 6h0m-2-4h0m-1 4h0m-1-8h0m-1 11h0m0-15h0m-4 12h0m-1-4h0m-1-5h0m-2 9h0m0-12h0m-6 4h0m0 3h0m-2-6h0m-10 9h0m-1 0h0m-1-3h0m-3-4h0m-2 5h0m-1-1h0m-1-2h0m-6 4h0m0-9h0m-3 1h0m-18 6h0m-4 7h0m3 2h0m23 3h0m2 9h0m2-8h0m16-3h0m5 1h0m4 6h0m3-6h0m1 5h0m1 1h0m1-6h0m0 8h0m1-8h0m5 1h0m4 8h0m4-1h0m1-10h0m1 2h0m3 9h0m2 3h0m2 0h0m2 1h0m2-3h0m1 1h0m2-8h0m2 2h0m2-7h0m3 0h0m0 14h0m16 1h0m3-11h0m10-4h0m51 4h0m-6 12h0m-18 12h0m-31-7h0m-1 0h0m-8 1h0m-2 1h0m-1 7h0m-5-10h0m-1 0h0m-6 9h0m-4-7h0m-3 5h0m-1-2h0m-12-5h0m-2 0h0m-3 8h0m-3-7h0m-1 10h0m-1-15h0m-3 1h0m-3 0h0m-2 13h0m0-8h0m-2 6h0m-11 1h0m-4-5h0m-6-6h0m-2 4h0m-5 2h0m-7 5h0m-8-2h0m25 11h0m0-1h0m6 7h0m3-1h0m7-7h0m9 10h0m2-1h0m9-12h0m2 8h0m11 6h0m1-10h0m4 0h0m10-2h0m6 4h0m1 8h0m37-10h0m73-4h0m-24 30h0m-79-5h0m-38-3h0m0 5h0m-13-3h0m-28 13h0m32 8h0m25-11h0m9-2h0m13 11h0m32 0h0m8-10h0m63-2h0m-79 30h0m-71-11h0m-29-3h0m53 16h0m23 8h0m20 31h0m79 4h0m-32 22h0" stroke="#2a0632" stroke-opacity="0.5" stroke-width="3.4" stroke-linecap="round" fill="none"/>
<path d="M125 77h0m21 0h0m10-2h0m4 1h0m3 2h0m18-1h0m5 1h0m180 7h0m-168 2h0m-20 2h0m-16 0h0m-2-9h0m-3 5h0m-3-2h0m-1-2h0m-4 9h0m0-6h0m-1 1h0m-20 10h0m-5 0h0m-20-1h0m-1-5h0m-29 2h0m24 5h0m2 1h0m2 2h0m0-1h0m3-1h0m4 4h0m1-2h0m2 11h0m4-6h0m0 0h0m1 1h0m2-9h0m1 14h0m2-4h0m4 1h0m1-7h0m1 8h0m0 0h0m2 0h0m0-1h0m1-10h0m3 4h0m5 10h0m1-9h0m5 5h0m1-2h0m1 0h0m0-6h0m2-2h0m5 11h0m4-4h0m2-2h0m5 2h0m4-2h0m1 8h0m4-7h0m1 7h0m2-8h0m7 4h0m1 3h0m53 2h0m37-12h0m-63 20h0m-1 1h0m-20 1h0m0-2h0m-3-2h0m-2 3h0m-7 2h0m-4 1h0m-1-10h0m-2 10h0m0-8h0m-3-2h0m-1 2h0m0-2h0m-1 8h0m-3-9h0m-2 8h0m-3 0h0m-1-8h0m-2 0h0m-2 15h0m-1-11h0m-1-3h0m0 0h0m0 14h0m-1-9h0m-1 9h0m-3-11h0m0 11h0m-6-9h0m-2 1h0m-1 7h0m0-7h0m-1-1h0m-1 7h0m0-1h0m-1-10h0m0 4h0m-3 1h0m-2 6h0m-1-10h0m-3 1h0m-4 11h0m-6-10h0m-9-1h0m-6 9h0m-25 2h0m-6 5h0m25 11h0m23-14h0m3 5h0m14 9h0m2-13h0m0 8h0m4-3h0m5-2h0m0-1h0m5 11h0m1-7h0m0-1h0m0 3h0m4-1h0m1 3h0m3-12h0m1 2h0m1 2h0m1 9h0m1-3h0m2-10h0m2 10h0m3-5h0m0 5h0m6-3h0m9-3h0m0 3h0m2 0h0m21 2h0m0-7h0m33 11h0m23-10h0m14 11h0m-74 6h0m-4 2h0m-7 4h0m-4-3h0m-6-5h0m0-1h0m-2 0h0m-3-1h0m-1 11h0m-4 0h0m0 0h0m0-8h0m-1-3h0m-9 7h0m-2 8h0m-14-8h0m-4 7h0m-2-14h0m-1 3h0m0 0h0m-1-1h0m-25 2h0m-3 3h0m-3 6h0m-1-10h0m-3-2h0m-12 8h0m-15 3h0m31 15h0m7-7h0m34 0h0m12 0h0m2 1h0m4-3h0m3-2h0m10 15h0m9-12h0m3 10h0m0-4h0m1 5h0m4-9h0m1 4h0m24-3h0m16 3h0m34 16h0m-101-2h0m-21 3h0m-45 6h0m108 6h0m62 7h0m33-7h0m-9 14h0m-19 9h0m-19 2h0m-10-4h0m-33-6h0m-11 21h0m11-9h0m31 42h0m9 3h0m-101 8h0m24 16h0" stroke="#2a0632" stroke-opacity="0.5" stroke-width="3.4" stroke-linecap="round" fill="none"/>
<path d="M100 79h0m18-1h0m4-2h0m1 3h0m3-1h0m14 1h0m6 0h0m33-2h0m4 13h0m-8 0h0m-5 2h0m-11 0h0m-3 2h0m-9-12h0m-9 7h0m-2-8h0m-7 13h0m-9 1h0m0-9h0m-1-4h0m-3 8h0m-15 0h0m-7-8h0m-10 21h0m1 7h0m8-2h0m2-9h0m15 2h0m3 9h0m0-10h0m2 3h0m4-6h0m6 7h0m1-2h0m1-4h0m3 3h0m3 9h0m6-8h0m0-2h0m1 5h0m1 4h0m4-10h0m3 11h0m1-2h0m1-4h0m2 0h0m7 6h0m3-7h0m0 8h0m7-10h0m0 7h0m3-8h0m4 10h0m5-13h0m25 12h0m12 18h0m-4-7h0m-13 6h0m-2-12h0m0 1h0m-7 1h0m-2 5h0m0-7h0m-3 12h0m-3-8h0m-7 1h0m-2 3h0m-1-2h0m-2 3h0m-4 1h0m-1-3h0m0-8h0m-2 8h0m-1 0h0m0-5h0m-3 1h0m-4 2h0m-5 4h0m-4-9h0m-1 5h0m-1-7h0m-3 3h0m-4 5h0m0 6h0m-1-9h0m0 8h0m-1-5h0m-2 6h0m0-11h0m-1 4h0m-5 2h0m0 3h0m-2-1h0m0 4h0m-1-14h0m-11 14h0m-1-6h0m-5-5h0m0 11h0m-1-7h0m-12 0h0m-15 14h0m1-4h0m16 9h0m5-9h0m15-1h0m3 11h0m5-12h0m2 14h0m3-7h0m7-5h0m0 9h0m2 4h0m1-14h0m0 10h0m3 4h0m3-13h0m6 13h0m4-5h0m1 0h0m0 1h0m1-11h0m0 11h0m1-10h0m2 7h0m3-6h0m0 5h0m2 0h0m5-5h0m7 10h0m2-7h0m3-1h0m1 1h0m13-3h0m17 1h0m18 16h0m-17 9h0m-11-10h0m-1 2h0m-4 5h0m-1-1h0m-2-8h0m-1 5h0m0 6h0m-8-11h0m-4 10h0m-4 1h0m-11 0h0m0-6h0m0 5h0m-4 2h0m-3 0h0m-4-4h0m-2 1h0m0 0h0m-3 2h0m-12-7h0m-1-3h0m-1 4h0m0 8h0m-6-4h0m-8-4h0m-1-2h0m-8 8h0m-7-7h0m5 15h0m7-2h0m2 9h0m6-1h0m2-9h0m1 11h0m7-8h0m18 4h0m0-4h0m2 0h0m4-1h0m1 2h0m4 8h0m6 0h0m0 2h0m2-1h0m5 2h0m13-15h0m2 7h0m10-2h0m31 8h0m20-3h0m-51 18h0m-10-1h0m-1 1h0m-20-12h0m-7 11h0m-6-6h0m-3-3h0m-40 8h0m44 14h0m13 1h0m12 6h0m14-12h0m42-1h0m39 22h0m-75-1h0m-2 5h0m-12-6h0m-16 7h0m-21-9h0m-5 4h0" stroke="#2a0632" stroke-opacity="0.5" stroke-width="3.4" stroke-linecap="round" fill="none"/>
<path d="M63 78h0m26-1h0m11 2h0m35-3h0m5 2h0m0-3h0m25 3h0m2-1h0m20 18h0m-13 0h0m-7 0h0m-4-6h0m-2 3h0m-1-7h0m-2 5h0m-8-10h0m-6 11h0m0-2h0m-3 2h0m-1-8h0m-1 7h0m-5 0h0m-2 1h0m0-2h0m-2-5h0m0 9h0m-1-4h0m-2 6h0m-1-2h0m0-8h0m-58 23h0m17 2h0m6-4h0m12-2h0m4 0h0m2 1h0m3 6h0m1-13h0m6 6h0m2-2h0m2-4h0m2 3h0m5 7h0m5-7h0m7 8h0m0-7h0m6 0h0m2 6h0m3 1h0m4 0h0m1-8h0m1-5h0m1 10h0m5 2h0m5 3h0m3-14h0m2 11h0m1-7h0m20 9h0m2-8h0m1 7h0m13 11h0m-5 6h0m0-2h0m-7 1h0m-22-9h0m-1 3h0m-2 6h0m-3-8h0m-1 7h0m-3 3h0m-8-11h0m-1 8h0m0-11h0m-5 12h0m-4-11h0m-5 6h0m-2 6h0m-1-14h0m-2 3h0m-1 11h0m-1 1h0m-1-4h0m0-2h0m-1-9h0m-3 7h0m-1-3h0m-1 7h0m0 3h0m-2-9h0m-1 7h0m0-8h0m0-1h0m-2 9h0m-1-9h0m-1 8h0m-2 0h0m-3-10h0m-3 3h0m-3 4h0m-1 2h0m-1 5h0m-6 0h0m-5-10h0m-12-2h0m-18 23h0m28-2h0m7-7h0m4-1h0m6 5h0m1 4h0m4-2h0m3 6h0m7-12h0m0 4h0m2 1h0m3-2h0m2-4h0m2 0h0m0 4h0m2-3h0m6 5h0m0-2h0m2 6h0m2-7h0m0 3h0m1 2h0m2 6h0m6 1h0m2 0h0m0-10h0m1 1h0m1-2h0m0 10h0m2-11h0m1 3h0m1-1h0m1 3h0m0 6h0m1-8h0m2 1h0m1-4h0m3 8h0m4-11h0m5 6h0m2-2h0m16 4h0m55-4h0m6-1h0m1 16h0m-2-1h0m-43 11h0m-5-11h0m-3 0h0m-14 7h0m-5 0h0m-2-6h0m-15 6h0m-3-2h0m-14-6h0m-1 1h0m-3 12h0m-1-14h0m-10 3h0m-7 1h0m-8 1h0m-6 7h0m-1-2h0m0-5h0m-1-5h0m0 5h0m-17-5h0m4 26h0m4-1h0m6 5h0m2-10h0m0 8h0m11-4h0m9-8h0m5 6h0m5-1h0m5 1h0m3 2h0m2-7h0m6 5h0m2-1h0m11 4h0m14-1h0m4-2h0m18-2h0m9 3h0m23-2h0m14 14h0m-33 11h0m-14-6h0m-37-6h0m-23 5h0m-4-5h0m-18 3h0m-17-2h0m33 20h0m66 5h0m11-12h0m40 5h0m26 0h0m-135 12h0m-6 5h0m-5 1h0m-4 13h0m99-4h0m7 19h0m-36 1h0" stroke="#2a0632" stroke-opacity="0.5" stroke-width="3.4" stroke-linecap="round" fill="none"/>
<path d="M100 79h0m9-4h0m5 2h0m4-1h0m19-2h0m44 2h0m12 16h0m-5-4h0m-3-5h0m-10-3h0m-2 14h0m0 0h0m-7-6h0m-12 4h0m-10-1h0m-2 2h0m-1 2h0m0-3h0m0 1h0m-2-5h0m-7 6h0m-1-4h0m-2 5h0m0-15h0m0 1h0m-3 11h0m-2 0h0m-6-12h0m-3 4h0m-11 5h0m-1-1h0m-22 0h0m15 13h0m4-5h0m4 2h0m1 7h0m4-1h0m3-4h0m0-1h0m4-1h0m0 0h0m1 2h0m1-4h0m5 1h0m0 1h0m3 7h0m2 1h0m3 5h0m3-10h0m2 4h0m0 4h0m0-6h0m1 5h0m3-5h0m2 6h0m1-12h0m2 12h0m2-1h0m0 0h0m7-4h0m0 1h0m9-1h0m8-8h0m3 1h0m0-1h0m2 15h0m0-11h0m3 5h0m1-4h0m2-2h0m12-1h0m6-2h0m26 10h0m-10 13h0m-4 0h0m-4-4h0m-7-3h0m-17 11h0m-1-7h0m-3 2h0m-5 2h0m-3 6h0m-5-11h0m-1-1h0m-2 12h0m0-8h0m-3-2h0m-2 7h0m-6 0h0m-1 1h0m-1-12h0m-5 3h0m0-1h0m-1 2h0m-3 9h0m-3-11h0m0 10h0m-1-2h0m0-2h0m-3 2h0m0-1h0m-1 4h0m-1-2h0m0-2h0m-6-2h0m-1 0h0m0-4h0m-1 7h0m-2 0h0m-1-3h0m-13 3h0m-3-3h0m-4 3h0m-1-2h0m-14 16h0m19 3h0m9-8h0m3 10h0m5-13h0m5 4h0m5 0h0m3 5h0m4 1h0m0-8h0m2 6h0m0-2h0m2 2h0m2-8h0m1 11h0m1-10h0m5 12h0m3-8h0m1 4h0m3-4h0m4 10h0m2-13h0m1 3h0m1 0h0m1-5h0m0 2h0m6 8h0m1-8h0m4 4h0m18 7h0m92 2h0m-93 11h0m0 1h0m-9 0h0m-1-1h0m-3 2h0m-10-12h0m-4 14h0m-6-5h0m-8-1h0m-3 2h0m0-10h0m-5 14h0m-3-7h0m-5 8h0m0-7h0m-6-8h0m0 14h0m-7-7h0m-41 11h0m42 13h0m0 0h0m5-14h0m16 7h0m7-3h0m13 9h0m8-12h0m4 2h0m4-1h0m3 2h0m5-3h0m11 1h0m4 5h0m18-8h0m1 14h0m30 9h0m-17-7h0m-27 4h0m-6 11h0m-18-10h0m-5-3h0m-7 1h0m-12-2h0m-3 5h0m-4 8h0m-25-4h0m-8 0h0m-4-2h0m-24 18h0m42 3h0m24-11h0m20 9h0m6-9h0m13 8h0m19 2h0m23-3h0m36 11h0m-89 8h0m-5 1h0m-5 0h0m-14-5h0m-11-3h0m-7 12h0m12 14h0m46-13h0m22 7h0m20 4h0m1-5h0" stroke="#2a0632" stroke-opacity="0.5" stroke-width="3.4" stroke-linecap="round" fill="none"/>
</g></g>
<rect x="29.66" y="0.75" width="171.40" height="34.70" fill="#e2e2e2"/>
<rect x="63.44" y="0.75" width="1" height="34.20" fill="#f4f4f4"/>
<rect x="97.72" y="0.75" width="1" height="34.20" fill="#f4f4f4"/>
<rect x="132.00" y="0.75" width="1" height="34.20" fill="#f4f4f4"/>
<rect x="166.28" y="0.75" width="1" height="34.20" fill="#f4f4f4"/>
<path d="M29.9 34.7C31.5 34.7 36 34.7 39.6 34.5C43.2 34.3 47.4 34.2 51.2 33.6C55.1 33 58.9 32 62.7 30.8C66.5 29.6 70.8 28.1 74.3 26.6C77.8 25.1 80.9 23.6 83.6 22C86.3 20.4 88.2 18.6 90.5 16.7C92.8 14.8 95.2 12 97.5 10.4C99.8 8.8 102.1 8.1 104.4 6.9C106.7 5.7 109.3 3.5 111.4 3C113.5 2.5 115.3 3.2 117.2 3.9C119.1 4.5 120.9 5.4 123 6.9C125.1 8.4 127.6 10.6 129.9 12.7C132.2 14.8 134.5 17.1 136.8 19.2C139.1 21.3 141.5 23.7 143.8 25.5C146.1 27.3 148.4 28.8 150.7 30.1C153 31.4 155 32.4 157.7 33.1C160.4 33.8 161.6 34 167 34.3C172.4 34.6 184.4 34.6 190.1 34.7C195.8 34.8 199.2 34.8 201 34.8L201 35.2L29.9 35.2Z" fill="#444444" fill-opacity="0.25"/>
<path d="M29.9 34.7C31.5 34.7 36 34.7 39.6 34.5C43.2 34.3 47.4 34.2 51.2 33.6C55.1 33 58.9 32 62.7 30.8C66.5 29.6 70.8 28.1 74.3 26.6C77.8 25.1 80.9 23.6 83.6 22C86.3 20.4 88.2 18.6 90.5 16.7C92.8 14.8 95.2 12 97.5 10.4C99.8 8.8 102.1 8.1 104.4 6.9C106.7 5.7 109.3 3.5 111.4 3C113.5 2.5 115.3 3.2 117.2 3.9C119.1 4.5 120.9 5.4 123 6.9C125.1 8.4 127.6 10.6 129.9 12.7C132.2 14.8 134.5 17.1 136.8 19.2C139.1 21.3 141.5 23.7 143.8 25.5C146.1 27.3 148.4 28.8 150.7 30.1C153 31.4 155 32.4 157.7 33.1C160.4 33.8 161.6 34 167 34.3C172.4 34.6 184.4 34.6 190.1 34.7C195.8 34.8 199.2 34.8 201 34.8" fill="none" stroke="#444444" stroke-width="1.1"/>
<rect x="201.66" y="36.00" width="34.30" height="173.80" fill="#e2e2e2"/>
<rect x="201.66" y="52.88" width="34.30" height="1" fill="#f4f4f4"/>
<rect x="201.66" y="87.64" width="34.30" height="1" fill="#f4f4f4"/>
<rect x="201.66" y="122.40" width="34.30" height="1" fill="#f4f4f4"/>
<rect x="201.66" y="157.16" width="34.30" height="1" fill="#f4f4f4"/>
<rect x="201.66" y="191.92" width="34.30" height="1" fill="#f4f4f4"/>
<path d="M202.6 36.2C202.9 37.1 203.7 39 204.5 41.4C205.3 43.8 206.5 47.6 207.3 50.7C208.1 53.8 208.9 56.5 209.5 59.9C210.1 63.3 210.2 67.6 210.6 71C211 74.4 211.2 77.5 211.9 80.3C212.6 83.1 213.5 85.2 214.7 87.7C215.9 90.2 217.8 92.9 219.3 95.1C220.8 97.3 222.8 98.7 223.9 100.7C225 102.7 225.9 105.2 226.1 107.1C226.3 108.9 225.9 110.1 224.9 111.8C223.9 113.5 221.8 115.4 220.2 117.3C218.6 119.2 216.8 121.3 215.6 123C214.4 124.7 213.3 125.9 213.2 127.6C213 129.3 213.5 130.9 214.7 133.1C215.9 135.2 218 138 220.2 140.5C222.3 143 225.4 145.6 227.6 147.9C229.8 150.2 232.1 152.6 233.2 154.4C234.3 156.2 234.4 157.2 234.1 159C233.8 160.8 233 163.3 231.3 165.5C229.6 167.7 226.7 170 223.9 172C221.1 174 217.3 175.8 214.7 177.6C212.1 179.4 209.9 181.2 208.2 183.1C206.5 184.9 205.4 186.5 204.5 188.7C203.6 190.9 203.3 192.6 203 196.1C202.7 199.6 202.5 207.5 202.4 209.8L201.7 209.8L201.7 36.2Z" fill="#444444" fill-opacity="0.25"/>
<path d="M202.6 36.2C202.9 37.1 203.7 39 204.5 41.4C205.3 43.8 206.5 47.6 207.3 50.7C208.1 53.8 208.9 56.5 209.5 59.9C210.1 63.3 210.2 67.6 210.6 71C211 74.4 211.2 77.5 211.9 80.3C212.6 83.1 213.5 85.2 214.7 87.7C215.9 90.2 217.8 92.9 219.3 95.1C220.8 97.3 222.8 98.7 223.9 100.7C225 102.7 225.9 105.2 226.1 107.1C226.3 108.9 225.9 110.1 224.9 111.8C223.9 113.5 221.8 115.4 220.2 117.3C218.6 119.2 216.8 121.3 215.6 123C214.4 124.7 213.3 125.9 213.2 127.6C213 129.3 213.5 130.9 214.7 133.1C215.9 135.2 218 138 220.2 140.5C222.3 143 225.4 145.6 227.6 147.9C229.8 150.2 232.1 152.6 233.2 154.4C234.3 156.2 234.4 157.2 234.1 159C233.8 160.8 233 163.3 231.3 165.5C229.6 167.7 226.7 170 223.9 172C221.1 174 217.3 175.8 214.7 177.6C212.1 179.4 209.9 181.2 208.2 183.1C206.5 184.9 205.4 186.5 204.5 188.7C203.6 190.9 203.3 192.6 203 196.1C202.7 199.6 202.5 207.5 202.4 209.8" fill="none" stroke="#444444" stroke-width="1.1"/>
<g opacity=".999" stroke="#3a3a3a" stroke-width=".22">
<text x="28.9" y="218.8" text-anchor="middle">−1.0</text>
<text x="63.1" y="218.8" text-anchor="middle">−1.5</text>
<text x="97.4" y="218.8" text-anchor="middle">−2.0</text>
<text x="131.7" y="218.8" text-anchor="middle">−2.5</text>
<text x="166.0" y="218.8" text-anchor="middle">−3.0</text>
<text x="200.3" y="218.8" text-anchor="middle">−3.5</text>
<text x="27.3" y="55.4" text-anchor="end">−0.4</text>
<text x="27.3" y="90.2" text-anchor="end">−0.2</text>
<text x="27.3" y="125.0" text-anchor="end">0.0</text>
<text x="27.3" y="159.7" text-anchor="end">0.2</text>
<text x="27.3" y="194.5" text-anchor="end">0.4</text>
<text x="66.6" y="232.0" font-size="9.25">[t] = (V - J) - 6.44 (J-H)</text>
<text transform="translate(6.6 122.9) rotate(-90)" font-size="9.25" text-anchor="middle">[m] = (C - V) - 1.10 (V-I)</text>
</g>
<g clip-path="url(#c01)">
<rect x="292.10" y="36.40" width="170.70" height="173.40" fill="#f3f3f3"/>
<path d="M380.1 188.1l-4.5.1-.5-.5-5.5 0-.5-.5-1 0-1.5-1-1 0-.5-.5-1 0-.5-.5-1.5 0-.5-.5-1 0-.5-.5-1 0-.5-.5-1.5 0-.5-.5-1 0-.5-.5-.5 0-2.5-1.5-.5 0-.5-.5-.5 0-.5-.5-.5 0-.5-.5-.5 0-1-1-.5-.1-3.5-3.4-.5 0-1.7-1.8-.6-1.5-.4-.5-.1-.5-.4-.5-.1-.5-.5-.5 0-.5-1.5-2.5 0-2.5-.5-.5 0-3.5-.5-.5 0-.5 0-4.5.5-.5 0-3 .5-.5 0-2.5.5-.5 0-.5.5-.5 0-.5 1.5-2.5 0-.5.5-.5 0-.5.5-.5 0-.5 7.3-7.3.5 0 1.5-1.5.5 0 1-1 .5 0 1.2-1.2.5-1.5.5-.5-.1-1 .5-.5 0-2-.5-.5 0-1-.5-.5 0-1-.5-.5 0-1-.9-1-.5-1.5-1-1-.5-1.5-1-1 0-1-.5-.5 0-1.5-.5-.5 0-1-.5-.5 0-1-.5-.5 0-1.5-.5-.5 0-1-.5-.5 0-1-.4-.5-.1-1.5-.4-.5-.1-1-.4-.5-.1-1-.4-.5-.1-1-.4-.5-.1-1-.4-.5 0-.5-1-1-.5-1.5-1.5-2.5 0-.5-1-1 0-.5-1.5-1.5 0-.5-6-6.5 0-.5-4-4 0-.5-1-1 0-.5-.5-.5 0-.5-.5-.5 0-.5-.5-.5 0-.5-.5-.5 0-.5-1.5-2.5 0-.5-.5-.5 0-4 .5-.5 0-3.5.5-.5 0-1.5.5-.5 0-1.5.5-.5 0-1.5.5-.5 0-1 .7-.2 1-1 .5 0 1-1 .5 0 1-1 .5 0 .5-.5 1 0 .5-.5 1 0 .5-.5 1.5 0 .5-.5 3 0 .5.5 1 0 .5.5 1 0 .5.5 1 0 .5.5.5 0 1 1 .5 0 1.5 1.5.5 0 1 1 .5 0 1 1 .5 0 1 1 1.5.5 1 1 .5 0 5.7 5.7 0 .5.5.5 0 .5 1.5 2.5 0 .5.5.5 0 .5.5.5 0 .5.5.5 0 .5 5.3 5.3.5 0 .5.5 1 0 .5.5 1 0 .5.5 1 0 1.7 1.7 0 .5 3.1 3.5 0 .5 1.7 1.6 1.5.5.5.5 1.5.5.5.5.5 0 .5.5 1.5.5 2.5 1.5 1 0 1.5 1 1 0 2.5 1.5 1 0 .5.5.5 0 1 1 1.5.5.5.5.5 0 1 1 .5 0 3.3 3.4 0 .5 2 2 0 .5 2 2.5.5 1.5 1.9 2.5 0 .5 1 1.5 0 .5.5.5.5 1.5.5.5 0 .5.5.5 0 .5-.5.5 0 1-.5.5 0 1-.5.5 0 1-.5.5 0 .5-1 1.5 0 .5-1 1.5-.5 1.5-4.9 5 0 2-.5.5-.1 4.5.5.5 0 1.5.5.5 0 1.5.5.5 0 1 .5.5.1 1.5.5.5 0 1 .5.5 0 1.5.4.5.1 1 .4.5 0 1.5.5.5 0 12-.5.5 0 3-.5.5 0 1.5-.5.5 0 1-1.5 2.5 0 .5-.5.5 0 1-1 1.5 0 .5-1.5 1.5 0 .5-4 4 0 .5-1.2 1.2-.5 0-.5.5-.5 0-1.5 1-.5 0-.5.5-.5 0-.5.5-.5 0-.5.5-.5 0-.5.5-.5 0-.5.5-.5 0-.5.5-1 0-.5.5-1.5.1-.5.4-2 .1-.5.5-2 0-.5.5-1.5 0-.5.4z" fill="#dcdcdc" fill-rule="evenodd"/>
<path d="M377.1 183.7l-8 0-.5-.5-1 0-1.5-1-1 0-1.5-1-1 0-1.5-1-1 0-1.5-1-1 0-1.5-1-1 0-1.5-1-.5 0-1.5-1.5-.5 0-1.5-1.5-.5 0-3.3-2.8-.5-1.5-.5-.5 0-.5-.5-.5 0-.5-1-1-.5-1.5-.5-.5 0-1-.5-.5 0-4-.5-.5 0-5.5.5-.5 0-1.5.5-.5 0-1.5.5-.5 0-1 .5-.5 0-1.5 1-1 .5-1.5 2-2.5.6-1.5 2.2-2.2.5-.1 1-.9.5-.1 1.5-1.4.5-.1 1.5-1.4.5-.1 1-1 1.5-.5 1-1 1.5-.5 1-1 1.5-.5 1-1.1.5 0 .1-1.6-.5-.5 0-3.5-.5-.5-.1-1.1-1.5 1.4-.5 0-2 2-.5 0-2.5 2.4-.1-.2 0-2-.5-.5-.1-2-.4-.5-.1-2-.5-.5 0-2.5-.5-.5-.1-2-.5-.5 0-2-.5-.5 0-1.5-.5-.5 0-1.5-.5-.5 0-1.5-.5-.5 0-1.5-.5-.5 0-1.5-.5-.5 0-1.5-.5-.5 0-1.5-.5-.5 0-1-.5-.5 0-1-.5-.5 0-1-.5-.5 0-1-.5-.5 0-1-.5-.5 0-1-.5-.5 0-1-1.5-2.5 0-.5-.5-.5 0-.5-.5-.5-.5-1.5-.5-.5 0-.5-.5-.5 0-.5-.5-.5-.5-1.5-2-2.5 0-.5-2.1-2.5 0-.5-1-1 0-.5-1-1 0-.5-1.9-2-.1-.5-1.4-1.5 0-1.5-.5-.5 0-2-.5-.5 0-.5 1-1.5 0-1 .5-.5.5-1.5.8-.8.5 0 .5-.5 1 0 1.5-1 1.5 0 .5.5 1 0 .5.5.5 0 .5.5 1 0 3.8 4.3.1.5 1 1 0 .5 1 1 0 .5 1 1 0 .5 1 1 0 .5 1 1 0 .5.5.5 0 1 .5.5 0 1 .5.5 0 1 1 1.5 0 1 .5.5 0 1 .5.5 0 1 .5.5 0 1 .5.5 0 1 .5.5 0 1 1 1 0 .5 1.5 1.5 0 .5.6.6.5-.5.5 0 1-1 .5 0 .5-.5.5 0 2.5-1.5.5 0 1-.9.5 0 1.5-1 1 0 .5.5 1 0 .5.5 1 0 1.5 1 1 0 .5.5 1 .1.5.5 1 0 .5.5 1 0 .5.5 1 0 1.5 1 1 0 .5.5 1 .1.5.4 1 .1.5.5 1 0 .5.5 2.5.5.5.5 1.5 0 1.5 1.5.5 0 1 .9.5.1 1 .9.5.1 1 .9.5 0 2.2 1.7 0 .5 1.5 2.5 0 .5 1 1 1.1 2.5.4.5.1.5.5.5 0 2 .5.5 0 2 .5.5 0 2 .5.5 0 2-.5.5 0 1.5-.5.5 0 1.5-.5.5 0 1.5-.5.5 0 1-.5.5 0 1-.5.5 0 1.5-.5.5-.1 1-.5.5 0 1-.7 1.2-2.5 2.6-.5 0-.7.7 0 2-.5.5 0 2.5.5.5 0 .5.5.5.5 1.5 1 1 .5 1.5.5.5 0 .5 1 1 0 1.5.5.5 0 2 .5.5 0 2.5.5.5 0 .5 0 6.5-.5.5 0 4-1 1.5 0 1-1 1.5 0 1-1 1.5 0 1-.5.5 0 .5-7.5 7.5-.3.8-.5 0-.5.5-.5 0-.5.5-.5 0-.5.5-.5 0-.5.5-.5 0-.5.5-.5 0-.5.5-.5 0-.5.5-.5 0-2.5 1.5-.5 0-.5.5-5.5 0-.5.5z" fill="#c5c5c5" fill-rule="evenodd"/>
<path d="M376.6 180.4l-1 .3-5.5 0-9-3.2-6.5-2.9-6-4.8-3.2-6.4-.5-1.5 0-3-.4-1.5 0-2.5 2-7.5 4.1-6.5 7.5-5.5 8.9-5 1-1 .6-1 .5-3-.2-1.5.2-2.5-1.4-3-1.5-1.5-1.6-.8-2-.4-2.5.4-.1-.2-2.8-11-1.9-15 .3-.5 2.5.6 3-.3 9.5-4.7 9.5 2.7 11.5 4.5 6 4.2 2.5 4 1.4 3 1.1 6.5-1.1 5-1.1 3.5-.7 4.5-.6 1-1.5 1.3-1.1 1.7-.4 1.5-.2 3 .5 4 4.6 8 1.2 4.5.5 3 .1 4-.4 1.5-.2 3.5-3.1 8-7.3 7.5-9.7 4.7-5.5.3z" fill="#aeaeae" fill-rule="evenodd"/>
<path d="M375.1 178l-4 .1-1.5-.3-7.5-2.6-6-2.8-4-3.3-1.5-1.7-2.3-4.5-.4-1.5-.4-4.5.5-3.5 1.5-5 3.5-5.5 7.1-5.1 9.5-4.9 2.1-2 1.6-3 .9-4.5-1.2-2.5-2.2-3.5-1.9-2-2.8-1.9-3.7-1.6-1.7-6-.6-4-.1-4.5.3-3 7.3-4 3.5-1.3 3.5.6 4.5 1.3 10.5 4.4 3 2 2.5 2 2 3.5.6 1.5.9 5.5-.9 4-1.9 5-.7 1.4-3.2 3.1-.5 3.5.3 4.5 1.1 4.5 5.1 8.5 1.3 4 .6 3 .1 3-.4 4.5-.8 2.5-2 5-6.6 6.8-9 4.2-4 .1-2 .5z" fill="#979797" fill-rule="evenodd"/>
<path d="M373.1 175.4l-2.5 0-5.5-1.6-7.5-3.4-3.9-3.5-1.1-1.5-1.8-4-.5-5 .9-4 1.1-3 2.9-4.5 6.4-4.5 9-4.2 3-1.9 2.1-1.9 1.6-2 3-5.5.1-.5-2.3-2.3-4.9-6.2-2.8-2.5-5.8-3.9-.8-2.1-.7-4.5.5-6 5-3.4 2.5-1.1 4 .5 2.5.7 10.9 4.8 3.8 3 1.8 3 .7 2.5.3 3-.6 3-.9 2.5-1.5 2.8-6.8 6.2-.1.5 1.4 5.5 2.2 5.5 6.5 10 1.7 6 .1 2-.3 4.5-2.3 6.5-5.4 5.7-3.5 2-5 2.1-7.5.7z" fill="#808080" fill-rule="evenodd"/>
<path d="M383.6 120.6l-1.5-.5-2.5-1.7-5.5-5-5.5-3.9-2.2-2.1-.6-2.5 0-2 .6-4 .7-1 3-2 1-.4 1.5-.1 2.5.3 2 .6 10 4.7 2 1.5 1.6 1.9.9 2 .4 3-.9 4-2 3.3-2.5 2-3 1.9zM372.1 172.9l-3.5-.5-5-1.7-4.5-2.3-2-1.7-2.1-2.3-1.5-3.5-.4-4.5.3-1.5 1.5-4.5 2.7-3.8 5.5-3.7 11.6-5 6.9-4.8.5-.1 3 4.4 6.1 7.5 1.3 2 .9 2.5 1 4-.2 4-.4 2-1.7 4.5-2.5 2.8-2.5 2.4-3 1.5-4 1.5-8 .8z" fill="#686868" fill-rule="evenodd"/>
<path d="M384.1 116.5l-2-.4-2-.9-10.6-7.8-1-1.5-.4-2 .4-2.5 1.1-2 2-1.2 2-.1 2 .3 10 4.8 2 1.7 1 1.5.5 1.5 0 2-.3 1.5-1.7 3-1.5 1.3-1.5.8zM372.6 170.4l-3-.3-3.5-.8-4-1.8-2.3-1.6-2.6-3-.8-2-.5-1.5.1-4 .8-2.5 1-2 1.5-2 2.3-1.9 3-1.7 10-3.7 6-2.6 5.3 4.4 3.9 4.5 1.8 5 .1 4-.2 1.5-1.5 4-2 2.5-2.4 2.2-2.5 1.3-3.5 1.2-7 .8z" fill="#515151" fill-rule="evenodd"/>
<path d="M384.1 113l-2 .1-1.5-.5-9-5.9-.9-1.3-.3-1.5.4-1.5.8-1.2 1.5-.7 2 .2 10 5.3 1 1.4.4 2-.9 2.4-.5.6-1 .6zM373.1 167.9l-3.5-.2-2.5-.4-3-1.3-2.5-1.7-1.6-1.9-1.1-2-.4-1.5.3-3.5.9-2.5 1.4-2 3.5-2.5 2.5-1.1 11.5-3.6 1.5-.3 2.5 1.5 2.5 2 1.5 1.5 1.3 2 1 2.5.2 2 .1 2-.6 2.5-.5 1.5-1.1 1.5-1.9 2-1.3 1-4.7 1.7-6 .8z" fill="#3a3a3a" fill-rule="evenodd"/>
<path d="M373.6 165.4l-5.5-.1-2-.7-2-1.2-1.8-2-1-2-.2-1.5.2-2 .8-1.9 1-1.3 3-2 12-3.5 1.5 0 2 .9 2 1.4 2 2.5.6 1.4.5 2.5-.6 3.5-1.7 2.5-2.3 1.7-4 1.2-4.5.6z" fill="#232323" fill-rule="evenodd"/>
<path d="M374.1 162.9l-5.5.2-1.5-.4-1.3-.8-1.3-1.5-.7-1.5-.1-1.5.6-2 1.8-1.8 2.5-.9 9.5-2.2 1.5.2 1.5.6 1.8 1.6 1 2 .2 2.5-.7 2-1.3 1.5-1.5.8-6.5 1.2z" fill="#0c0c0c" fill-rule="evenodd"/>
<ellipse rx="13.5" ry="22.0" transform="translate(377.4 107.1) rotate(-20)" fill="none" stroke="#0000f8" stroke-width="1.5"/>
<ellipse rx="14.2" ry="11.6" transform="translate(362.8 149.5) rotate(16)" fill="none" stroke="#f80000" stroke-width="1.5"/>
<ellipse rx="8.5" ry="35.0" transform="translate(320.0 114.1) rotate(5)" fill="none" stroke="#b8b8b8" stroke-width="1.0" stroke-dasharray="4 2.6"/>
<ellipse rx="15.5" ry="28.0" transform="translate(425.0 125.9) rotate(5)" fill="none" stroke="#b8b8b8" stroke-width="1.0" stroke-dasharray="4 2.6"/>
<circle cx="377.4" cy="107.1" r="2.2" fill="#0000f8"/>
<circle cx="362.8" cy="149.5" r="2.2" fill="#f80000"/>
<rect x="318.7" y="112.8" width="2.6" height="2.6" fill="#ffffff" stroke="#c4c4c4" stroke-width=".6"/>
<rect x="423.7" y="124.6" width="2.6" height="2.6" fill="#ffffff" stroke="#c4c4c4" stroke-width=".6"/>
</g>
<rect x="292.10" y="1.15" width="170.70" height="34.70" fill="#e2e2e2"/>
<rect x="325.74" y="1.15" width="1" height="34.20" fill="#f4f4f4"/>
<rect x="359.88" y="1.15" width="1" height="34.20" fill="#f4f4f4"/>
<rect x="394.02" y="1.15" width="1" height="34.20" fill="#f4f4f4"/>
<rect x="428.16" y="1.15" width="1" height="34.20" fill="#f4f4f4"/>
<path d="M292.3 35.2C294.2 35.1 300.4 34.9 303.9 34.7C307.4 34.5 310.1 34.4 313.2 34C316.3 33.6 319.3 33.2 322.4 32.4C325.5 31.5 328.6 30.2 331.7 28.9C334.8 27.5 337.8 26 340.9 24.3C344 22.6 347.1 20.6 350.2 18.5C353.3 16.4 356.8 13.7 359.5 11.6C362.2 9.5 364.3 7.1 366.4 5.8C368.5 4.5 370.3 4.1 372.2 3.9C374.1 3.7 375.9 3.9 378 4.6C380.1 5.3 382.7 6.3 385 8.1C387.3 9.8 389.6 12.8 391.9 15.1C394.2 17.4 396.5 19.8 398.8 22C401.1 24.2 403.5 26.6 405.8 28.3C408.1 30 410.4 31.4 412.7 32.4C415 33.4 417 33.9 419.7 34.3C422.4 34.7 423.6 34.9 429 35C434.4 35.1 446.5 35.2 452.1 35.2C457.7 35.2 461 35.2 462.8 35.2L462.8 35.6L292.3 35.6Z" fill="#444444" fill-opacity="0.25"/>
<path d="M292.3 35.2C294.2 35.1 300.4 34.9 303.9 34.7C307.4 34.5 310.1 34.4 313.2 34C316.3 33.6 319.3 33.2 322.4 32.4C325.5 31.5 328.6 30.2 331.7 28.9C334.8 27.5 337.8 26 340.9 24.3C344 22.6 347.1 20.6 350.2 18.5C353.3 16.4 356.8 13.7 359.5 11.6C362.2 9.5 364.3 7.1 366.4 5.8C368.5 4.5 370.3 4.1 372.2 3.9C374.1 3.7 375.9 3.9 378 4.6C380.1 5.3 382.7 6.3 385 8.1C387.3 9.8 389.6 12.8 391.9 15.1C394.2 17.4 396.5 19.8 398.8 22C401.1 24.2 403.5 26.6 405.8 28.3C408.1 30 410.4 31.4 412.7 32.4C415 33.4 417 33.9 419.7 34.3C422.4 34.7 423.6 34.9 429 35C434.4 35.1 446.5 35.2 452.1 35.2C457.7 35.2 461 35.2 462.8 35.2" fill="none" stroke="#444444" stroke-width="1.1"/>
<rect x="463.40" y="36.40" width="34.30" height="173.40" fill="#e2e2e2"/>
<rect x="463.40" y="53.24" width="34.30" height="1" fill="#f4f4f4"/>
<rect x="463.40" y="87.92" width="34.30" height="1" fill="#f4f4f4"/>
<rect x="463.40" y="122.60" width="34.30" height="1" fill="#f4f4f4"/>
<rect x="463.40" y="157.28" width="34.30" height="1" fill="#f4f4f4"/>
<rect x="463.40" y="191.96" width="34.30" height="1" fill="#f4f4f4"/>
<path d="M464.6 36.4C465.1 37.9 466.3 41.8 467.4 45.1C468.5 48.4 470.3 52.5 471.1 56.2C471.9 59.9 471.7 63.6 472 67.3C472.3 71 472.4 75 473 78.4C473.6 81.8 474.3 84.9 475.7 87.7C477.1 90.5 479.6 92.9 481.3 95.1C483 97.3 484.8 98.7 485.9 100.7C487 102.7 487.8 105.1 487.8 107.1C487.8 109.1 487 110.8 485.9 112.7C484.8 114.6 482.6 116.6 481.3 118.3C480 120 479 121.3 478 123C477 124.7 475.4 126.5 475.2 128.5C475 130.5 475.4 132.7 476.7 135C478 137.3 480.8 139.9 483.1 142.4C485.4 144.9 488.6 147.5 490.6 149.8C492.6 152.1 494.6 154.2 495.2 156.3C495.8 158.5 495.2 160.7 494.3 162.7C493.4 164.7 491.9 166.4 489.6 168.3C487.3 170.2 483.3 172.1 480.4 173.9C477.5 175.8 474.2 177.6 472 179.4C469.8 181.2 468.5 182.8 467.4 185C466.3 187.2 465.8 188.3 465.2 192.4C464.6 196.5 464.3 206.9 464.1 209.8L463.4 209.8L463.4 36.4Z" fill="#444444" fill-opacity="0.25"/>
<path d="M464.6 36.4C465.1 37.9 466.3 41.8 467.4 45.1C468.5 48.4 470.3 52.5 471.1 56.2C471.9 59.9 471.7 63.6 472 67.3C472.3 71 472.4 75 473 78.4C473.6 81.8 474.3 84.9 475.7 87.7C477.1 90.5 479.6 92.9 481.3 95.1C483 97.3 484.8 98.7 485.9 100.7C487 102.7 487.8 105.1 487.8 107.1C487.8 109.1 487 110.8 485.9 112.7C484.8 114.6 482.6 116.6 481.3 118.3C480 120 479 121.3 478 123C477 124.7 475.4 126.5 475.2 128.5C475 130.5 475.4 132.7 476.7 135C478 137.3 480.8 139.9 483.1 142.4C485.4 144.9 488.6 147.5 490.6 149.8C492.6 152.1 494.6 154.2 495.2 156.3C495.8 158.5 495.2 160.7 494.3 162.7C493.4 164.7 491.9 166.4 489.6 168.3C487.3 170.2 483.3 172.1 480.4 173.9C477.5 175.8 474.2 177.6 472 179.4C469.8 181.2 468.5 182.8 467.4 185C466.3 187.2 465.8 188.3 465.2 192.4C464.6 196.5 464.3 206.9 464.1 209.8" fill="none" stroke="#444444" stroke-width="1.1"/>
<g opacity=".999" stroke="#3a3a3a" stroke-width=".22">
<text x="291.3" y="218.8" text-anchor="middle">−1.0</text>
<text x="325.4" y="218.8" text-anchor="middle">−1.5</text>
<text x="359.6" y="218.8" text-anchor="middle">−2.0</text>
<text x="393.7" y="218.8" text-anchor="middle">−2.5</text>
<text x="427.9" y="218.8" text-anchor="middle">−3.0</text>
<text x="462.0" y="218.8" text-anchor="middle">−3.5</text>
<text x="289.7" y="55.8" text-anchor="end">−0.4</text>
<text x="289.7" y="90.5" text-anchor="end">−0.2</text>
<text x="289.7" y="125.1" text-anchor="end">0.0</text>
<text x="289.7" y="159.8" text-anchor="end">0.2</text>
<text x="289.7" y="194.5" text-anchor="end">0.4</text>
<text x="331.7" y="232.0" font-size="9.25">[t] = (V - J) - 6.44 (J-H)</text>
<text transform="translate(270.2 123.1) rotate(-90)" font-size="9.25" text-anchor="middle">[m] = (C - V) - 1.10 (V-I)</text>
</g>
<g clip-path="url(#c02)">
<rect x="554.80" y="36.40" width="170.50" height="173.40" fill="#f3f3f3"/>
<path d="M637.3 205.6l-1.5 0-.5-.5-1.5 0-.5-.5-1 0-.5-.5-1 0-.5-.5-1 0-.5-.5-1.5 0-.5-.5-1 0-.5-.5-1 0-.5-.5-1 0-1.5-1-.5 0-1-1-1.5-.5-1-1-1.5-.5-1-1-1.5-.5-1-1-1.5-.5-1-1-1.5-.5-1-1-1.5-.5-1-1-.5 0-1-1-.5 0-1.5-1.5-.5 0-1.5-1.5-.5 0-1.5-1.5-.5 0-.7-.7 0-.5-2.5-2.5 0-.5-2-2 0-.5-1-1-.5-1.5-1-1 0-.5-1-1 0-.5-1-1 0-1.5-.5-.5 0-1-.5-.5 0-1.5-.5-.5 0-1-.5-.5 0-1.5-.5-.5 0-9-.5-.5 0-2.5.5-.5 0-1 .5-.5 0-1 .5-.5 0-1 .5-.5 0-1 .5-.5 0-1 .5-.5 0-1 1-1.5 0-1 1-1.5 0-1 1-1.5 0-1 .5-.5 0-.5.5-.5 0-1 .5-.5 0-2 .5-.5 0-8.5-4.9-5.5 0-.5-2.5-2.5 0-1.5-.5-.5 0-1-.5-.5 0-1.5-.5-.5 0-2-.5-.5 0-2-.5-.5 0-8 .5-.5 0-1 .5-.5 0-1 1-1.5 0-1 .5-.5 0-2.5.5-.5 0-2.5.5-.5 0-3-.5-.5 0-2.5-.5-.5 0-1.5-.5-.5 0-1-.5-.5 0-2.5-.5-.5 0-8 .5-.5 0-5 .5-.5 0-4.5.5-.5 0-1.5.5-.5 0-2 1.5-2.5 0-.5 1-1 0-.5 1.6-1.6.5 0 .5-.5 1 0 1.5-1 2.5 0 .5-.5 20 0 1 1 .5 0 2 2 .5 0 2 2 .5 0 2.5 2.5.5 0 2 2 .5 0 10 9.9.5 0 1.5 1.5.5 0 1.5 1.5 1.5 0 .5.5 1.5 0 .5.5 1.5 0 .5.5 1.5 0 2.5 1.5.5 0 .5.5.5 0 .5.5.5 0 .5.5.5 0 .5.5.5 0 1 1 1.5.5 1 1 1.5.5 1 1 1.5.5 1 1 .5 0 1.5 1.5.5 0 2.5 2 .5 0 3.5 3 .5 0 1.5 1.5.5 0 1.5 1.5.5 0 1.5 1.5.5 0 .7.7 0 .5 3 3 0 .5 2 2 0 .5.5.5 0 1 1 1.5 0 1 .5.5 0 1 .9 1.5.1 1.5.4.5.1 1 .4.5 0 1 .5.5 0 1 .5.5 0 1.5.5.5 0 1 1 1.5 0 1 1 1.5 0 1 1 1.5 0 1 1 1.5 0 1 .5.5 0 1 .5.5 0 1 .5.5 0 1-8.5 8.5 0 1-.5.5 0 1.5-.5.5 0 2-.4.5 0 12.5.5.5 0 5 .5.5 0 5 .5.5 0 7-.5.5 0 2-.5.5 0 2-.5.5 0 1.5-1 1 0 .5-1.5 1.5 0 .5-2 2.5 0 .5-1.5 1.5 0 .5-8.7 8.7-1.5.5-1 1-.5 0-.5.5-.5 0-1 1-1.5.5-1 1-1.5.5-1 1-1.5.5-1 1-1.5.5-1 1-1.5.5-1 1-.5 0-.5.5-1.5.5-.5.5-.5 0-1.5 1-.5 0-1.5 1-1.5.5-.5.5-1 0-.5.5-3 0-.5.5-3 0-.5.5z" fill="#dcdcdc" fill-rule="evenodd"/>
<path d="M640.3 199.6l-.5 0-.5-.5-1.5 0-.5-.5-1 .1-.5-.5-1 0-.5-.5-1 0-.5-.5-1 0-.5-.5-1.5 0-.5-.5-1 0-.5-.5-.5 0-.5-.5-.5 0-.5-.5-.5 0-1.5-1-.5 0-.5-.5-.5 0-.5-.5-.5 0-.5-.5-.5 0-.5-.5-.5 0-.5-.5-.5 0-1.5-1.5-.5 0-1-1-.5 0-1-1-.5 0-1.5-1.5-.5 0-1-1-.5 0-3.5-3-.5 0-1-1-.5 0-1.5-1.5-.5 0-.3-.8-1.5-1.5 0-.5-1.5-1.5 0-.5-1.5-1.5 0-.5-1-1 0-.5-.5-.5 0-1-1-1.5 0-1-1-1.5 0-1-.5-.5 0-1-.4-.5-.1-2.5.5-.5 0-3 .5-.5 0-3.5.5-.5 0-2.5.5-.5 0-1.5.5-.5 0-2 .5-.5 0-1.5.5-.5 0-1.5.5-.5 0-1 .5-.5 0-1 .5-.5 0-1 .5-.5 0-1 .5-.5 0-1 .5-.5 0-1 .5-.5 0-1 .5-.5 0-1 .5-.5 0-1.5.5-.5 0-1 .5-.5 0-1.5.5-.5 0-9-.5-.5 0-2-.5-.5 0-1.5-.5-.5 0-1.5-.5-.5-.1-2-.4-.5-.1-2-.4-.5 0-2-.5-.5 0-30-.5-.5.1-4.5 0-1 .5-.5 0-7.5 1-1 .5-1.5.7-.7 1 0 .5-.5 2.5 0 .5-.5.5 0 .5.5 2 0 .5.5 2 0 .5.5 1.5 0 1 1 .5 0 2.7 2.7 0 .5 1.1 1 0 .5 1 1.5 1.2 1.2 1.5.5 1 1 .5 0 1.5 1 1 0 .5.5 1.5 0 .5.5 1 0 .5.5 1 0 .5.5 1.5 0 .5.5 1 0 .5.5 1.5 0 .5.5 1 0 .5.5 1 0 1.5 1 1 0 2.5 1.5 1 0 1.5 1 1.5.5.5.5.5 0 1 .9 2.5 1 1 1 .5 0 1.5 1.1.5 0 1 1 1.5.5 1 1 1.5.5 1 1 1.5.5.5.5.5 0 1 1 .5 0 3.8 3.8 0 .5 3.5 3.5 0 .5.9 1 .1 1 .5.5 0 1 .5.5 0 1 .5.5 0 1 .5.5 0 1.5.5.5 0 16-.5.5 0 3-.5.5 0 2.5-.5.5 0 3-.5.5 0 2.5-.5.5 0 7 .5.5 0 5 .5.5 0 3 .5.5 0 3 .5.5 0 3 .5.5 0 12.5-1 1.5 0 1-1 1.5 0 1-1 1.5 0 1-.5.5 0 .5-3.5 3.5 0 .5-4.8 4.8-.5 0-2 2-.5 0-4.5 4-1.5.5-1 1-1.5.5-1 1-1.5.5-2.5 2-1.5.5-1 .9-1.5.6-1 .9-1.5.5-2.5 2z" fill="#c5c5c5" fill-rule="evenodd"/>
<path d="M636.3 192.3l-1 0-.5-.5-1.5 0-.5-.5-1 0-.5-.5-1.5 0-.5-.5-1-.1-.5-.4-1.5-.1-1-1-.5 0-.5-.5-1.5-.5-1-.9-.5-.1-1.5-1-.5 0-1-1-1.5-.5-.5-.5-.5 0-1.5-1.5-.5 0-2-2-.5 0-2-2-.5 0-2-1.9-.5-.1-.8-.8-.6-1.5-.5-.5 0-.5-.5-.5 0-.5-.5-.5 0-.5-.5-.5 0-.5-1.5-2.5 0-.5-.5-.5 0-6.5-.5-.5 0-6.5.5-.5 0-3.5.5-.5 0-3.5.5-.5 0-2.5.5-.5 0-1 .5-.5 0-1.5.5-.5.1-1.5.4-.5.1-1.5.4-.5.1-1.5.5-.5 0-1 1.4-2.5.1-1 1.4-2.5 0-1 1-1.5 0-2-.5-.5.1-5-.5-.5 0-4-.5-.5-.1-4-.4-.5-.1-3.5-.4-.5 0-7.5-.5-.5 0-2.5.5-.5 0-2.5.5-.5 0-3 .5-.5 0-1.5.4-.5 0-1.5.5-.5 0-1 .5-.5 0-1 .5-.5 0-1 1.4-1.4.5 0 1-1 .5 0 .5-.5 1.5 0 .5-.5 15 .1.5.5 2.5 0 .5.5 1.5 0 .5.5 1.5 0 .5.5 1.5 0 .5.5 1.5 0 .5.5 1.5 0 .5.5 1.5 0 .5.5 1.5 0 .5.5 1.5 0 .5.5 1.5 0 1.3 1.3 0 .5 2 2 0 .5 1.5 1.5 0 .5 6.1 6.5 0 .5 1 1 .5 1.5.5.5 0 1 1 1.5 0 1 1 1.5 0 1 .5.5 0 3 .5.5 0 7 .5.5 0 3.5-.5.5 0 2.5-.5.5 0 3-.5.5 0 2.5-.5.5 0 7.5.5.5 0 2.5.5.5 0 3 .5.5 0 3 .5.5 0 3 .5.5 0 3 .5.5 0 3.5.5.5 0 8-.5.5 0 4-.5.5 0 .5-.5.5 0 .5-.5.5-.5 1.5-.5.5 0 .5-.5.5 0 .5-.5.5 0 .5-.5.5 0 .5-.5.5 0 .5-1.9 1.9-.5 0-4.5 4.5-.5 0-2.5 2.5-.5 0-.5.5-1.5.5-.5.5-.5 0-1.5 1-.5 0-.5.5-1.5.5-1.5 1-.5 0-.5.5-.5 0-.5.5-1 0-.5.5-1 0-1.5 1-1 0-.5.5-1 0-.5.5z" fill="#aeaeae" fill-rule="evenodd"/>
<path d="M637.3 188.4l-1.5.5-1-.2-7-2-10.5-5.9-9.2-7.4-4.2-8.5-.1-5-.5-2-.1-3.5.4-1.5.1-2.5.4-1.5.1-2.5.4-1.5.2-2 2.7-9.5 4.6-10 .2-1 .2-2.5-.3-1.5.3-4-1.6-14.5.3-8 1.2-5.5 2.5-6.5.4-.6 2-.7 11-.7 3 .4 8.5 1.8 8.5 2.4 1.6 1.4 7.6 9 1.5 2.5 2.5 7 .9 9 .6 2-.5 4.5-.1 5-.3 1.5.6 8 1.2 5 .8 5.5.5 1 .1 2.5.5 1 .1 2.5.4 1 .1 3 .5 1-.1 6-.4 1-.1 3.5-4.6 9-1.5 1-3.9 3.9-1.1.6-1.9 1.8-11 5.2-5 1.5z" fill="#979797" fill-rule="evenodd"/>
<path d="M636.8 184.5l-1.5.2-3.5-1.1-2.5-.8-2.5-1.3-7-4-7.5-5.8-1.2-1.3-3.2-6-.4-5-.5-2-.1-2.5.4-4 1.1-7 3.4-10.5 4.9-9 1.1-4.5.1-5.5-.8-7-.2-5 .1-4 1.4-6.5 2.4-5.6 6.5-1.2 4.5.2 4 .6 4.3 1 4.7 1.5 4.5 4.8 3.5 4.7 1.9 5.5.6 6.5.8 3.5.8 11.5 1.5 8 1.7 5 1.8 7 1.9 11 0 4-.7 4.5-3.8 7.6-4.7 4.4-3.3 2.5-10 4.4-4.5 1.2z" fill="#808080" fill-rule="evenodd"/>
<path d="M636.3 179.9l-1 .2-2.2-.7-3.8-1.6-7-4-7-5.4-3-5-1.2-7 .7-9 .6-3 1.7-5 1.9-4.5 6-9 2.3-5-1.3-14.5.3-4.5.6-2.5.9-2.4 2-3.3.5-.4 2.5-.5 5.5.3 5 1.4 3.5 3.1 2.6 3.8 1.1 4 .6 10.5 1.8 7.5 3.2 9.5 2.7 6 2.4 6.5 1.7 7 .5 4 0 3-.8 4.5-3.3 6-4 3.7-3.5 2.4-7 2.7-5.5 1.2z" fill="#686868" fill-rule="evenodd"/>
<path d="M638.3 175l-3 .2-2.5-.9-8-4.5-4.1-2.9-2.2-2-1.5-2.5-1.6-6.5.1-4 1.1-6.5 2.8-6.5 1.1-2 2.7-3.5 10-10.5-1.9-2-.8-2-1.1-13 .4-2 .8-1.5 1.2-1.1 1.5-.8 2 .2 1.5.6 1.5 1.4 1 1.7.6 4 .6 9-.7 4 7.4 13 5.1 8.1 1.7 3.4 1.4 3.5.9 3.5.6 4-.1 2-.8 4-2.7 4.7-3.1 2.8-3.4 2.2-4 1.4-4.5 1z" fill="#515151" fill-rule="evenodd"/>
<path d="M640.3 169.9l-3 .2-2.5-.3-9-5.2-2.5-1.9-1.5-1.7-1.7-5.1-.2-3.5.5-4 .9-2.8 2-3.7 2.5-3.2 3-2.5 4-2.4 3.5-1.6 1.5 1.2 3 3 8.7 10.5 2.4 4.5.7 2 .4 3 .1 2-.8 3.5-2 3.2-2.5 2.1-2.5 1.4-2 .8-3 .5z" fill="#3a3a3a" fill-rule="evenodd"/>
<path d="M642.8 164.9l-3 .3-4.5-1-7.5-4.3-1.1-1-1-1.5-.7-1.5-.5-2.5.1-2.5.4-2 .9-2 1.4-1.9 1.5-1.5 2-1.3 2-.8 2-.5.5 0 .9.5 10.1 8.9 1.9 2.6.7 2 .3 2.5-.9 3.5-1 1.5-1.2 1-1.3.8-2 .7z" fill="#232323" fill-rule="evenodd"/>
<path d="M642.3 160.5l-2-.2-4.5-1.9-5.1-3-1.1-1.5-.4-1.5.1-1.5 1-1.7 2-1.3 2.5 0 9.3 6.5.9 1.5.1 2-.8 1.5-1 .8-1 .3z" fill="#0c0c0c" fill-rule="evenodd"/>
<ellipse rx="13.5" ry="22.0" transform="translate(640.0 107.1) rotate(-20)" fill="none" stroke="#0000f8" stroke-width="1.5"/>
<ellipse rx="14.2" ry="11.6" transform="translate(625.4 149.5) rotate(16)" fill="none" stroke="#f80000" stroke-width="1.5"/>
<ellipse rx="8.5" ry="35.0" transform="translate(582.7 114.1) rotate(5)" fill="none" stroke="#b8b8b8" stroke-width="1.0" stroke-dasharray="4 2.6"/>
<ellipse rx="15.5" ry="28.0" transform="translate(687.5 125.9) rotate(5)" fill="none" stroke="#b8b8b8" stroke-width="1.0" stroke-dasharray="4 2.6"/>
<circle cx="640.0" cy="107.1" r="2.2" fill="#0000f8"/>
<circle cx="625.4" cy="149.5" r="2.2" fill="#f80000"/>
<rect x="581.4" y="112.8" width="2.6" height="2.6" fill="#ffffff" stroke="#c4c4c4" stroke-width=".6"/>
<rect x="686.2" y="124.6" width="2.6" height="2.6" fill="#ffffff" stroke="#c4c4c4" stroke-width=".6"/>
</g>
<rect x="554.80" y="1.15" width="170.50" height="34.70" fill="#e2e2e2"/>
<rect x="588.40" y="1.15" width="1" height="34.20" fill="#f4f4f4"/>
<rect x="622.50" y="1.15" width="1" height="34.20" fill="#f4f4f4"/>
<rect x="656.60" y="1.15" width="1" height="34.20" fill="#f4f4f4"/>
<rect x="690.70" y="1.15" width="1" height="34.20" fill="#f4f4f4"/>
<path d="M554.8 34.3C556.3 34.2 560.2 34.1 563.6 33.8C567 33.5 571.4 33.1 575.2 32.4C579.1 31.7 582.9 30.8 586.7 29.6C590.6 28.4 594.8 26.6 598.3 25C601.8 23.4 604.9 21.3 607.6 19.7C610.3 18.1 612.2 16.4 614.5 15.1C616.8 13.8 619.2 12.7 621.5 11.6C623.8 10.5 626.3 9.4 628.4 8.6C630.5 7.8 632.5 6.8 634.2 6.5C635.9 6.2 637.1 6.4 638.8 6.9C640.5 7.4 642.5 8.5 644.6 9.3C646.7 10.2 649.3 10.8 651.6 12C653.9 13.2 656.2 15 658.5 16.7C660.8 18.4 663.2 20.4 665.5 22C667.8 23.6 669.7 25.2 672.4 26.6C675.1 28 678.6 29.6 681.7 30.6C684.8 31.7 687.5 32.3 691 32.9C694.5 33.5 698.6 33.9 702.5 34.3C706.4 34.6 710.3 34.9 714.1 35C717.9 35.1 723.4 35.2 725.3 35.2L725.3 35.6L554.8 35.6Z" fill="#444444" fill-opacity="0.25"/>
<path d="M554.8 34.3C556.3 34.2 560.2 34.1 563.6 33.8C567 33.5 571.4 33.1 575.2 32.4C579.1 31.7 582.9 30.8 586.7 29.6C590.6 28.4 594.8 26.6 598.3 25C601.8 23.4 604.9 21.3 607.6 19.7C610.3 18.1 612.2 16.4 614.5 15.1C616.8 13.8 619.2 12.7 621.5 11.6C623.8 10.5 626.3 9.4 628.4 8.6C630.5 7.8 632.5 6.8 634.2 6.5C635.9 6.2 637.1 6.4 638.8 6.9C640.5 7.4 642.5 8.5 644.6 9.3C646.7 10.2 649.3 10.8 651.6 12C653.9 13.2 656.2 15 658.5 16.7C660.8 18.4 663.2 20.4 665.5 22C667.8 23.6 669.7 25.2 672.4 26.6C675.1 28 678.6 29.6 681.7 30.6C684.8 31.7 687.5 32.3 691 32.9C694.5 33.5 698.6 33.9 702.5 34.3C706.4 34.6 710.3 34.9 714.1 35C717.9 35.1 723.4 35.2 725.3 35.2" fill="none" stroke="#444444" stroke-width="1.1"/>
<rect x="725.90" y="36.40" width="34.30" height="173.40" fill="#e2e2e2"/>
<rect x="725.90" y="53.24" width="34.30" height="1" fill="#f4f4f4"/>
<rect x="725.90" y="87.92" width="34.30" height="1" fill="#f4f4f4"/>
<rect x="725.90" y="122.60" width="34.30" height="1" fill="#f4f4f4"/>
<rect x="725.90" y="157.28" width="34.30" height="1" fill="#f4f4f4"/>
<rect x="725.90" y="191.96" width="34.30" height="1" fill="#f4f4f4"/>
<path d="M729.4 36.4C729.9 37.9 731.3 41.8 732.2 45.1C733.1 48.4 734.1 52.5 735 56.2C735.9 59.9 736.5 63.6 737.7 67.3C738.9 71 740.9 75 742.4 78.4C743.9 81.8 745.8 84.6 747 87.7C748.2 90.8 749.1 93.6 749.8 97C750.5 100.4 750.9 103.9 751.1 108.1C751.3 112.3 751.1 117.8 751.2 122C751.3 126.2 750.9 129.4 751.6 133.1C752.3 136.8 754.4 140.8 755.3 144.2C756.2 147.6 757 150.7 757.2 153.5C757.4 156.3 757.2 158.1 756.3 160.9C755.4 163.7 753.6 167.3 751.6 170.1C749.6 172.9 746.7 175.1 744.2 177.6C741.7 180.1 738.8 182.5 736.8 185C734.8 187.5 733.4 189.9 732.2 192.4C731 194.9 730.1 196.9 729.4 199.8C728.7 202.7 728.1 208.1 727.9 209.8L725.9 209.8L725.9 36.4Z" fill="#444444" fill-opacity="0.25"/>
<path d="M729.4 36.4C729.9 37.9 731.3 41.8 732.2 45.1C733.1 48.4 734.1 52.5 735 56.2C735.9 59.9 736.5 63.6 737.7 67.3C738.9 71 740.9 75 742.4 78.4C743.9 81.8 745.8 84.6 747 87.7C748.2 90.8 749.1 93.6 749.8 97C750.5 100.4 750.9 103.9 751.1 108.1C751.3 112.3 751.1 117.8 751.2 122C751.3 126.2 750.9 129.4 751.6 133.1C752.3 136.8 754.4 140.8 755.3 144.2C756.2 147.6 757 150.7 757.2 153.5C757.4 156.3 757.2 158.1 756.3 160.9C755.4 163.7 753.6 167.3 751.6 170.1C749.6 172.9 746.7 175.1 744.2 177.6C741.7 180.1 738.8 182.5 736.8 185C734.8 187.5 733.4 189.9 732.2 192.4C731 194.9 730.1 196.9 729.4 199.8C728.7 202.7 728.1 208.1 727.9 209.8" fill="none" stroke="#444444" stroke-width="1.1"/>
<g opacity=".999" stroke="#3a3a3a" stroke-width=".22">
<text x="554.0" y="218.8" text-anchor="middle">−1.0</text>
<text x="588.1" y="218.8" text-anchor="middle">−1.5</text>
<text x="622.2" y="218.8" text-anchor="middle">−2.0</text>
<text x="656.3" y="218.8" text-anchor="middle">−2.5</text>
<text x="690.4" y="218.8" text-anchor="middle">−3.0</text>
<text x="724.5" y="218.8" text-anchor="middle">−3.5</text>
<text x="552.4" y="55.8" text-anchor="end">−0.4</text>
<text x="552.4" y="90.5" text-anchor="end">−0.2</text>
<text x="552.4" y="125.1" text-anchor="end">0.0</text>
<text x="552.4" y="159.8" text-anchor="end">0.2</text>
<text x="552.4" y="194.5" text-anchor="end">0.4</text>
<text x="593.9" y="232.0" font-size="9.25">[t] = (V - J) - 6.44 (J-H)</text>
<text transform="translate(532.9 123.1) rotate(-90)" font-size="9.25" text-anchor="middle">[m] = (C - V) - 1.10 (V-I)</text>
</g>
<g clip-path="url(#c10)">
<rect x="29.90" y="289.00" width="170.60" height="173.30" fill="#f3f3f3"/>
<path d="M125.4 430.7l-7 0-.5-.5-1 0-.5-.5-1 0-1.5-.9-1 0-1.5-1-1 0-.5-.5-1 0-.5-.5-.5 0-.5-.5-.5 0-.5-.5-.5 0-.5-.5-.5 0-.5-.5-.5 0-.5-.5-.5 0-.5-.5-.5 0-.5-.5-.5 0-.5-.5-1.5-.5-.5-.5-.5 0-3.5-3-.5 0-1.5-1.5-.5 0-2.5-2.5-.5 0-3-3-.5 0-1.3-1.3 0-.5-1-1 0-.5-1.5-1.5 0-.5-1-1 0-.5-1-1.5 0-.5-1-1-.5-1.5-.4-.5-.1-2-.4-.5-.1-2-.4-.5-.1-2.5-.4-.5-.1-2-.4-.5-.1-2.5-.4-.5-.1-1.5-.4-.5-.1-1.5-.4-.5-.1-1.5-.4-.5-.1-1.5-.4-.5 0-1-.5-.5 0-1.5-.5-.5 0-1-.5-.5 0-1.5-.5-.5 0-1-.5-.5 0-7.5.5-.5 0-5.5.5-.5 0-8.5-.5-.5 0-7-.5-.5 0-1.5-.5-.5 0-1.5-.5-.5 0-.5-.5-.5 0-.5-1-1.5 0-.5-.5-.5 0-.5-.5-.5 0-.5-.5-.5 0-.5-.5-.5 0-.5-.5-.5 0-.5-.5-.5 0-.5-.5-.5 0-.5-.5-.5 0-1-.5-.5-.5-1.5-1-1 0-1.5-.5-.5 0-1-.5-.5 0-1-.5-.5 0-1.5-.5-.5 0-1-.5-.5 0-2-.5-.5 0-4-.5-.5.1-1.5.5-.5 0-1 .5-.5 0-.5 1.9-2 .1-.5.6-.6 5.5-.1.5-.5 3 0 .5.5 2 0 .5.5 2 0 .5.5 2 0 .5.5 1 0 .5.5 1 0 .5.5 1 0 1.5 1 1 0 .5.5 1 0 3.5 3 .5 0 1.5 1.5.5 0 1.5 1.5 1.5.5 2.5 2 1.5.6 2.5 2 1.5.5 1 1 .5 0 2.5 1.9.5 0 6.7 6.7 0 .5 1.8 1.8.5 0 1.5 1.5.5 0 2 1.9.5 0 1.5 1.5.5 0 3.5 3 .5 0 1 1 .5 0 1.5 1.5.5 0 1 1 .5 0 2.5 2 .5 0 1 1 1.5.6 1 1 .5 0 3.5 3 .5 0 1.5 1.5.5 0 5.2 5.2 0 1 .5.5 0 3.5.5.5 0 1.5-1 1.5 0 1-1 1.5 0 1-.5.5 0 1-.5.5 0 1.5-.5.5 0 1.5-.5.5 0 1.5-.5.5 0 4 .5.5 0 3.5 1.8 1.8.5 0 1.5 1.5.5 0 1.5 1.5.5 0 1.7 1.7 0 1 .5.5 0 1 .5.5 0 1 .5.5 0 1.5-.5.5 0 2-.5.5 0 2-.5.5 0 2-.5.5 0 1-.5.5 0 1-1 1.5 0 1-1 1.5 0 1-.5.5-.5 1.5-1 1 0 .5-1.5 1.5 0 .5-1.5 1.5 0 .5-3.2 3.2-.5 0-2 2-.5 0-1.5 1.5-.5 0-2.5 2-1.5.5-2.5 2-1.5.5-1 1-1.5.5-1 1-1.5.5-1 1-.5 0-.5.5z" fill="#dcdcdc" fill-rule="evenodd"/>
<path d="M119.9 424.8l-3 0-.5-.5-4-.1-.5-.4-1-.1-1.5-.9-2.5-1-.5-.5-.5 0-.5-.5-.5 0-.5-.5-.5 0-.5-.5-.5 0-.5-.5-.5 0-1-1-.5 0-1-1-.5 0-2.5-2-.5 0-1-1-.5 0-6.8-6.8 0-.5-1-1 0-.5-2-2.5 0-.5-.9-1-.1-.5-.9-1-.1-2-.5-.5 0-2-.5-.5 0-2-.5-.5 0-2-.5-.5 0-2.5-.5-.5 0-2-.5-.5 0-2-.5-.5 0-1.5-.5-.5 0-2-.5-.5 0-2-.5-.5 0-3.5-.5-.5 0-3.5-.5-.5 0-5 .5-.5 0-5 .5-.5 0-4.5.5-.5 0-4 .5-.5 0-4.5.5-.5 0-2.5-.5-.5 0-2-.5-.5 0-2.5-.5-.5 0-2-.5-.5 0-1-.5-.5 0-.5-.9-1 0-.5-1-1-.5-1.5-1-1-.5-1.5-.5-.5 0-.5-.5-.5 0-1-1-1.5 0-1-.9-1.5 0-1-.5-.5 0-2.5.5-.5 0-1.5 1.5-2.5 0-.5.6-.6 2.5 0 .5-.5 3 0 .5.5.5 0 1 1 .5 0 3.7 3.1 0 1 .5.5 0 1 .5.5 0 1 .5.5 0 .5 1.3 1.3.5 0 3.5 3.4.5 0 2 2 .5 0 2.5 2 1.5.5 1 1 1.5.5.5.4 1 .1.5.4 1 .1.5.4 1 .1.5.5 1.5 0 .5.5 1 0 .5.5 1 0 .5.5 1 0 .5.5.5 0 .5.5 1 0 1.5 1 1 0 .5.5 1 0 1.5 1 1.5.5 1 1 1.5.5 2.5 2 1.5.6 1 .9.5.1 3.5 3.4.5 0 5.8 5.8 0 .5 4 4 0 1.5.5.5 0 1.5.5.5 0 1.5.5.5-.1 5-.4.5-.1 4-.4.5-.1 3.5-.5.5.1 6.5.5.5 0 2.5.5.5 0 1 .5.5 0 1 .5.5 0 1.5.5.5 0 1 .5.5 0 1 .5.5 0 2.5-.5.5 0 4.5-.5.5 0 2.5-1 1.5 0 1-1 1.5 0 1-1 1.5 0 1-.5.5 0 .5-3 3.5 0 .5-1.5 1.5 0 .5-2.8 2.8-.5 0-1.5 1.5-.5 0-3.5 2.9-1.5.1-.5.5-1 0-.5.5-1 0-.5.5-1 0-.5.5-1.5 0-.5.5z" fill="#c5c5c5" fill-rule="evenodd"/>
<path d="M117.4 420.4l-4 0-.5-.5-2 0-.5-.5-2-.1-.5-.5-.5 0-.5-.5-.5 0-.5-.5-.5 0-.5-.5-.5 0-2.5-1.5-.5 0-.5-.5-1.5-.5-1.5-1.5-.5 0-5.3-5.3 0-.5-1-1-.1-.5-1.9-2.5-.1-.5-.5-.5 0-1-1-1.5 0-1-.5-.5 0-1-1-1.5 0-1.5-.5-.5 0-2.5-.5-.5 0-2-.5-.5 0-2.5-.5-.5 0-2.5-.5-.5 0-2-.5-.5 0-2-.5-.5 0-2-.5-.5 0-2-.5-.5 0-19.5.5-.5.1-6.5.4-.5.1-6.5.5-.5-.1-4.5.5-.5 0-1 1.5-2.5 0-.5.9-.9.5 0 .5-.5 1.5 0 .5-.5.5 0 .5.5 1 0 .5.5 1.5 0 .5.5 1 0 .5.5 1 0 .5.5 1 0 .5.5 1.5 0 .5.5 2 0 .5.5 1.5 0 .5.5 1.5 0 .5.5 1.5 0 .5.5 1.5 0 .5.5 1 0 .5.5 1 0 .5.5 1 0 .5.5 1 0 .5.5 1 0 .5.5 1 .1.5.4 1 .1.5.5.5 0 1.5 1.5.5 0 2 1.9.5 0 2 2 .5 0 2.9 2.9.5 1.5 1 1 .5 1.5 1 1 .5 1.5 1 1 0 .5.5.5 0 2 .5.5 0 2 .5.5 0 2 .5.5 0 6-.5.5 0 3.5 0 4 .5.5 0 4 .5.5 0 1.5.5.5 0 1 .5.5 0 1 .5.5 0 1 .5.5 0 1 .5.5 0 1 .5.5 0 .5-.5.5 0 4.5-.5.5 0 4-.5.5 0 .5-1 1.5 0 .5-.5.5 0 .5-.5.5 0 .5-.5.5-.5 1.5-4.5 4.5 0 .5-1.4 1.4-.5 0-1 1-.5 0-1.5 1.5-.5 0-1 1-.5 0-1.5 1.5-1.5 0-.5.5-1 0-.5.5-1 0-.5.5-1 0-.5.5z" fill="#aeaeae" fill-rule="evenodd"/>
<path d="M116.9 418.1l-.5.3-2 0-1-.5-4-.5-9-4.5-2-1.5-4.4-4.4-2.9-4.5-3-7.5-.5-2 0-2-1-3.5-.1-2-.4-1-.1-2-.4-1-.1-1.5-.4-1-.1-1.5-.5-1 0-1.5-1-3.5 0-3 .2-14.5.5-1.5.3-5.5.5-1.5.2-5 .6-1.5.2-3.5.7-2 1.2-2.1 1.5-.2 8 2.1 3.5.4 8 1.8 11.5 3.8 8.5 6.8 5.4 8.9 1.2 6.5.4 1 .1 4-.4 1 0 2 .1 6 .5 1.5 0 3 3 10 0 4.5-.5 1.5-.1 3-3.7 7.4-4 4-.7 1.1-7.3 5-1 0-5 1.6z" fill="#979797" fill-rule="evenodd"/>
<path d="M116.9 415.1l-1.5.3-5.5-1-7.7-3.9-2.3-1.7-3.2-3.3-2.9-4.5-2.5-6.5-4.8-23.5-.1-3 .5-13 .6-2 .5-5 .7-2 .7-5 .7-2 .4-2.5.4-.4 17 2.7 10.5 3.1 5 3.5 3.2 2.6 4.8 7.5 1.8 8 .1 2.5-.3 2 .3 7.5.5 2 .2 3 2.8 9.5 0 4-.5 1.5-.2 3-3.4 6.5-4.3 4.5-6.5 4.2-5 1.4z" fill="#808080" fill-rule="evenodd"/>
<path d="M115.4 412l-5-1.1-6-3-2.5-1.9-2.4-2.5-2.5-4-2.4-6.5-4.9-23 0-2.5.2-6 .7-6 1.5-6.5 2.3-7.1 6.5.1 6 .7 6 1.3 4 1.2 7 5 3.3 4.8 1.1 2 .5 1.5 1.3 5.5-.1 3.5.6 8 .8 5.5 2.7 9.5-.1 3-.7 4.5-2.9 5.3-4.4 4.2-5.6 3.3-5 1.2z" fill="#686868" fill-rule="evenodd"/>
<path d="M116.9 408l-2 .2-3-.6-5-2.5-2.5-1.8-2-2.1-2-3.2-2.1-6-5-22.5 0-2.5.3-5 .9-5.5 2.6-7 1.3-2.4 8-.1 5 .8 3.5.9 6 3.9 3.4 4.4 1.1 2.5 1.3 5 0 3 1 9 1 5.5 2.4 8.5 0 2.5-.8 4-2.5 4.5-3.9 3.5-4 2.1-3 .9z" fill="#515151" fill-rule="evenodd"/>
<path d="M117.4 404l-2.5.3-2-.4-3.5-1.8-2.5-1.8-1.5-1.7-1.5-2.6-1.8-5.5-4.7-20.5-.3-3 .4-4.5 1-4 1.9-3.8 1.5-2.5.5-.2 3-.3 4.5.2 3 .6 2 .9 3 1.9 1.2 1.2 2.3 3 1.1 3 .5 2 1.5 12 1.2 6 2 7 .3 3-1 4-1.9 3-3.7 2.9-4 1.6z" fill="#3a3a3a" fill-rule="evenodd"/>
<path d="M116.4 400.1l-1.5.1-1.5-.5-2.2-1.2-1.7-1.5-1.9-3-1.4-4.5-4.8-20-.3-2 .2-3 .9-3 1.4-2.5 1.8-2.1 2.5-.4 2.5.1 4 1.4 1.5 1.1 1.7 1.9 1.5 3.5 2 12 3.3 13 .3 2.5-1.1 3.5-1.2 1.7-3 2-3 .9z" fill="#232323" fill-rule="evenodd"/>
<path d="M117.9 395.6l-1.5.3-1.5-.2-1.9-1.2-1-1.5-1.4-4.5-5.3-21 .2-2 .5-1.5.9-1.3 1.5-1.2 2.5-.1 2 .9 1.5 1.5.8 1.7 2.5 11.5 3.5 14-.2 1.5-.7 1.5-1.1 1-1.3.6z" fill="#0c0c0c" fill-rule="evenodd"/>
<ellipse rx="13.5" ry="22.0" transform="translate(115.1 359.7) rotate(-20)" fill="none" stroke="#0000f8" stroke-width="1.5"/>
<ellipse rx="14.2" ry="11.6" transform="translate(100.5 402.0) rotate(16)" fill="none" stroke="#f80000" stroke-width="1.5"/>
<ellipse rx="8.5" ry="35.0" transform="translate(57.8 366.6) rotate(5)" fill="none" stroke="#b8b8b8" stroke-width="1.0" stroke-dasharray="4 2.6"/>
<ellipse rx="15.5" ry="28.0" transform="translate(162.7 378.4) rotate(5)" fill="none" stroke="#b8b8b8" stroke-width="1.0" stroke-dasharray="4 2.6"/>
<circle cx="115.1" cy="359.7" r="2.2" fill="#0000f8"/>
<circle cx="100.5" cy="402.0" r="2.2" fill="#f80000"/>
<rect x="56.5" y="365.3" width="2.6" height="2.6" fill="#ffffff" stroke="#c4c4c4" stroke-width=".6"/>
<rect x="161.4" y="377.1" width="2.6" height="2.6" fill="#ffffff" stroke="#c4c4c4" stroke-width=".6"/>
</g>
<rect x="29.90" y="253.85" width="170.60" height="34.70" fill="#e2e2e2"/>
<rect x="63.52" y="253.85" width="1" height="34.20" fill="#f4f4f4"/>
<rect x="97.64" y="253.85" width="1" height="34.20" fill="#f4f4f4"/>
<rect x="131.76" y="253.85" width="1" height="34.20" fill="#f4f4f4"/>
<rect x="165.88" y="253.85" width="1" height="34.20" fill="#f4f4f4"/>
<path d="M30.3 287.9C32.2 287.8 38 287.6 41.9 287.4C45.8 287.2 50 286.9 53.5 286.5C57 286.1 60 285.5 62.7 284.9C65.4 284.3 67.2 283.6 69.7 282.8C72.2 282 75.3 281.1 77.8 279.8C80.3 278.5 82.4 277.1 84.7 275.2C87 273.3 89.6 270.8 91.7 268.7C93.8 266.6 95.4 264.2 97.5 262.4C99.6 260.6 102.3 258.8 104.4 257.8C106.5 256.8 108.5 256.5 110.2 256.2C111.9 255.9 113.2 255.9 114.8 256.2C116.3 256.5 117.8 256.8 119.5 257.8C121.2 258.8 123.2 260.5 125.3 262.4C127.4 264.3 129.9 267.1 132.2 269.4C134.5 271.7 136.9 274.3 139.2 276.3C141.5 278.3 143.8 280.2 146.1 281.6C148.4 283 150.4 284 153.1 284.9C155.8 285.8 158.5 286.3 162.3 286.7C166.2 287.1 169.8 287.2 176.2 287.4C182.6 287.6 196.4 287.8 200.5 287.9L200.5 288.3L30.3 288.3Z" fill="#444444" fill-opacity="0.25"/>
<path d="M30.3 287.9C32.2 287.8 38 287.6 41.9 287.4C45.8 287.2 50 286.9 53.5 286.5C57 286.1 60 285.5 62.7 284.9C65.4 284.3 67.2 283.6 69.7 282.8C72.2 282 75.3 281.1 77.8 279.8C80.3 278.5 82.4 277.1 84.7 275.2C87 273.3 89.6 270.8 91.7 268.7C93.8 266.6 95.4 264.2 97.5 262.4C99.6 260.6 102.3 258.8 104.4 257.8C106.5 256.8 108.5 256.5 110.2 256.2C111.9 255.9 113.2 255.9 114.8 256.2C116.3 256.5 117.8 256.8 119.5 257.8C121.2 258.8 123.2 260.5 125.3 262.4C127.4 264.3 129.9 267.1 132.2 269.4C134.5 271.7 136.9 274.3 139.2 276.3C141.5 278.3 143.8 280.2 146.1 281.6C148.4 283 150.4 284 153.1 284.9C155.8 285.8 158.5 286.3 162.3 286.7C166.2 287.1 169.8 287.2 176.2 287.4C182.6 287.6 196.4 287.8 200.5 287.9" fill="none" stroke="#444444" stroke-width="1.1"/>
<rect x="201.10" y="289.00" width="34.30" height="173.30" fill="#e2e2e2"/>
<rect x="201.10" y="305.83" width="34.30" height="1" fill="#f4f4f4"/>
<rect x="201.10" y="340.49" width="34.30" height="1" fill="#f4f4f4"/>
<rect x="201.10" y="375.15" width="34.30" height="1" fill="#f4f4f4"/>
<rect x="201.10" y="409.81" width="34.30" height="1" fill="#f4f4f4"/>
<rect x="201.10" y="444.47" width="34.30" height="1" fill="#f4f4f4"/>
<path d="M202.1 289.2C202.5 290.7 203.6 295.1 204.5 298.1C205.4 301.1 206.6 304 207.3 307.4C208 310.8 208.1 315.1 208.7 318.5C209.3 321.9 209.8 324.6 211 327.7C212.2 330.8 213.9 333.9 215.6 337C217.3 340.1 219.2 343.2 221.1 346.3C222.9 349.4 225 352.4 226.7 355.5C228.4 358.6 230.2 362 231.3 364.8C232.4 367.6 233 370.3 233.2 372.2C233.4 374.1 232.8 374.3 232.5 376C232.2 377.7 232 379.2 231.3 382.4C230.7 385.6 229.8 391.7 228.6 395.4C227.4 399.1 225.9 401.8 223.9 404.6C221.9 407.4 219 409.5 216.5 412C214 414.5 211.1 416.9 209.1 419.4C207.1 421.9 205.6 424.1 204.5 426.9C203.4 429.7 203 432.4 202.6 436.1C202.2 439.8 202.2 444.7 202.1 449.1C202 453.5 201.9 460.1 201.8 462.3L201.1 462.3L201.1 289.2Z" fill="#444444" fill-opacity="0.25"/>
<path d="M202.1 289.2C202.5 290.7 203.6 295.1 204.5 298.1C205.4 301.1 206.6 304 207.3 307.4C208 310.8 208.1 315.1 208.7 318.5C209.3 321.9 209.8 324.6 211 327.7C212.2 330.8 213.9 333.9 215.6 337C217.3 340.1 219.2 343.2 221.1 346.3C222.9 349.4 225 352.4 226.7 355.5C228.4 358.6 230.2 362 231.3 364.8C232.4 367.6 233 370.3 233.2 372.2C233.4 374.1 232.8 374.3 232.5 376C232.2 377.7 232 379.2 231.3 382.4C230.7 385.6 229.8 391.7 228.6 395.4C227.4 399.1 225.9 401.8 223.9 404.6C221.9 407.4 219 409.5 216.5 412C214 414.5 211.1 416.9 209.1 419.4C207.1 421.9 205.6 424.1 204.5 426.9C203.4 429.7 203 432.4 202.6 436.1C202.2 439.8 202.2 444.7 202.1 449.1C202 453.5 201.9 460.1 201.8 462.3" fill="none" stroke="#444444" stroke-width="1.1"/>
<g opacity=".999" stroke="#3a3a3a" stroke-width=".22">
<text x="29.1" y="471.7" text-anchor="middle">−1.0</text>
<text x="63.2" y="471.7" text-anchor="middle">−1.5</text>
<text x="97.3" y="471.7" text-anchor="middle">−2.0</text>
<text x="131.5" y="471.7" text-anchor="middle">−2.5</text>
<text x="165.6" y="471.7" text-anchor="middle">−3.0</text>
<text x="199.7" y="471.7" text-anchor="middle">−3.5</text>
<text x="27.5" y="308.4" text-anchor="end">−0.4</text>
<text x="27.5" y="343.0" text-anchor="end">−0.2</text>
<text x="27.5" y="377.7" text-anchor="end">0.0</text>
<text x="27.5" y="412.4" text-anchor="end">0.2</text>
<text x="27.5" y="447.0" text-anchor="end">0.4</text>
<text x="69.3" y="485.1" font-size="9.25">[t] = (V - J) - 6.44 (J-H)</text>
<text transform="translate(7.4 375.6) rotate(-90)" font-size="9.25" text-anchor="middle">[m] = (C - V) - 1.10 (V-I)</text>
</g>
<g clip-path="url(#c11)">
<rect x="292.35" y="289.00" width="171.05" height="173.30" fill="#f3f3f3"/>
<path d="M373.4 456.2l-1 0-1.6-1-1 0-1.4-1-1 0-1.6-1-1 0-1.4-1-1 0-1.6-1-1 0-1.4-1-1 0-.6-.5-.4 0-1-1-1.6-.5-2.4-2-1.6-.5-1-1-.4 0-8.2-7.7 0-.5-1-1-.6-1.5-1-1-.5-1.5-1-1-.5-1.5-.9-1-.1-1.5-.5-.5 0-2.5-.5-.5 0-2.5-.5-.5 0-2.5-.5-.5 0-2 .5-.5 0-5 .5-.5 0-4 .5-.5 0-1.5.5-.5 0-1.5.5-.5 0-1.5.5-.5 0-2 .5-.5 0-1.5.5-.5 0-2 .5-.5 0-2.5.5-.5 0-2.5.5-.5 0-7.5-.5-.5.1-5.5-.5-.5 0-1-.5-.5 0-1.5-.5-.5 0-2-.5-.5 0-2-.5-.5 0-2-.5-.5 0-1.5-.5-.5 0-1.5-.5-.5 0-1-.5-.5 0-1-.5-.5 0-1.5-.5-.5 0-1-.5-.5 0-1-1-1.5 0-1-1.5-2.5 0-1-1-1.5 0-1-1-1.5 0-1-1-1.5 0-1-.5-.5 0-1-1-1.5 0-1-.5-.5 0-2-.5-.5 0-2-.5-.5 0-2-.5-.5 0-3-.5-.5 0-4.5-.5-.5 0-3.5.5-.5 0-3 .5-.5 0-2 2-2.5 0-.5 1-1 0-.5 1-1 0-.5 2.5-2.5 0-.5 3-3 0-.5 2.6-2.6 2 0 .6-.5 1.4 0 .6-.5 15.4 0 1.6 1 .4 0 1 1 1.6.5 2.6 2.6 0 .5 3 3.5 0 .5 7.4 7.4.4 0 1.6 1 .4 0 .6.5 1.4.5 1 1 1.6.5 1.4 1.5.6 0 1.4 1.4.6 0 1.4 1.5.6 0 1 1 .4 0 .6.5.4 0 1.6 1 .4 0 1.6 1 .4 0 1.6 1 .4 0 1.6 1 1.4.5 2.6 1.5.4 0 .6.5.4 0 1 1 .6 0 1.4 1.5.6 0 2 2 .4 0 7.2 7.2.1.5.5.5 0 .5.5.5 0 .5.5.5 0 .5.5.5 0 .5 1.5 2.5 0 2 .5.5 0 2 .5.5 0 1.5.5.5-.1 19.5-.4.5-.1 4-.5.5 0 2-.5.5 0 2-.4.5 0 2-.5.5 0 2-.5.5 0 2-.5.5 0 2-.5.5 0 2-.5.5 0 2.5-.5.5 0 2-.5.5 0 2.5-.5.5 0 2.5-.5.5 0 1.5-.5.5 0 1.5-.5.5 0 1.5-.5.5 0 1.5-.5.5 0 1.5-.5.5 0 1.5-1 1.5 0 1-1 1.5 0 1-1 1.5 0 1-.5.5 0 .5-1 1.5 0 .5-1 1-.5 1.5-1 1 0 .5-1 1.5 0 .5-1 1 0 .5-1.5 1.5 0 .5-2 2 0 .5-2 2 0 .5-2 2 0 .5-7.8 7.7-.4 0-1.6 1.5-.4 0-1.6 1.5-.4 0-1.6 1.5-.4 0-1 1-1.6.5-.4.5-.6 0-.4.5-.6 0-.4.5-.6 0-.4.5z" fill="#dcdcdc" fill-rule="evenodd"/>
<path d="M376.4 448.2l-4 .1-.6-.5-1 0-1.4-1-1 0-1.6-1-1 0-2.4-1.5-1 0-.6-.5-1.4-.5-1-1-.6 0-1-1-.4 0-1-1-.6 0-1.4-1.5-.6 0-1-1-.4 0-8.8-8.8 0-.5-.5-.5 0-.5-.5-.5-.1-.5-.4-.5-.1-.5-.4-.5 0-.5-.5-.5 0-.5-.5-.5 0-.5-1.5-2.5 0-4-.5-.5 0-5.5-.5-.5 0-.5.5-.5 0-2 .5-.5 0-1.5.5-.5 0-2 .5-.5 0-1.5.5-.5 0-2 .5-.5 0-2 .5-.5 0-1.5.5-.5 0-2 .5-.5 0-2 .5-.5 0-1.5.5-.5 0-2 .5-.5 0-2.5.5-.5 0-2.5.5-.5 0-2.5.5-.5 0-2.5.5-.5 0-2 .5-.5-.1-1.5.5-.5 0-2 .5-.5 0-16.5-.5-.5 0-2-.5-.5 0-2-.5-.5 0-2-.5-.5 0-.5-5.4-5.5 0-.5-2-2.5-.4-1.5-2-2.5 0-10.5.5-.5 0-3.5.5-.5 0-.5 1-1 0-.5 2-2 0-.5.7-.2.4-.5 2 0 .6-.5 2 0 .4-.5 2 0 .6-.5 1.4 0 1 1 1.6.5 1 1 .6.2 0 1.5.5.5.1 2 .5.5 0 2 .5.5 0 2 2 2.5 0 .5 1 1 .1.5 1.1 1.2.6 0 .4.5 1.6 0 .4.5 1.6 0 .4.5 2 0 .6.5 1 0 .4-.5 2 0 .6-.5 5 0 .4.5 3.6 0 .4.5 1 0 .6.5 1.4 0 .6.5 1.4 0 .6.5 1 0 .4.5 1 0 1.6 1 1 0 1.4 1 1 0 1.6 1 1 .1.4.5.6 0 1 1 .4 0 1 1 .6 0 1 1 .4 0 1 1 .6 0 1 1 .4 0 1.3 1.2 0 .5 1.5 1.5 0 .5 1.5 1.5 0 .5 1.5 1.5 0 .5.5.5 0 4 .5.5 0 5.5.5.5 0 1-.5.5 0 6.5-.5.5 0 5.5-.5.5 0 2-.5.5 0 3-.4.5-.1 6-.5.5 0 6-.5.5 0 6.5-.5.5 0 4-.5.5 0 3-.5.5 0 3-.5.5 0 3-.5.5 0 1-.5.5 0 1-.5.5 0 1-.5.5 0 1-.5.5 0 1-.5.5 0 1-.5.5 0 1-.5.5 0 1-1 1-.5 1.5-1 1-.5 1.5-1 1-.5 1.5-1 1 0 .5-3 3 0 .5-4 4-.3.7-.4.1-2 2-.6 0-2 2-.4 0-2 2-.6 0-2 2-.4 0-1.6 1.4-.4.1-1 .9z" fill="#c5c5c5" fill-rule="evenodd"/>
<path d="M373.8 442.9l-2 0-.4-.5-1 0-.6-.5-.4 0-.6-.5-1 0-.4-.5-1 0-.6-.5-.4 0-1-1-.6 0-1-1-.4 0-1-1-.6 0-1-1-.4 0-1-1-.6 0-1-1-.4 0-9.5-9.4 0-.5-.5-.5 0-.5-.5-.5 0-.5-.5-.5 0-.5-1.5-2.5 0-15.5.5-.5 0-1.5.5-.5 0-1.5.5-.5 0-1.5.5-.5 0-1.5.5-.5 0-1.5.5-.5 0-1.5.5-.5 0-1 .5-.5 0-1.5.5-.5 0-1 .5-.5 0-1.5.5-.5 0-1 .5-.5 0-1.5.5-.5 0-1 .5-.5 0-1.5.5-.5 0-1 .5-.5 0-1.5.5-.5 0-1 .5-.5 0-1 .5-.5 0-3-.5-.5 0-8 .5-.5 0-7.5.5-.5 0-5 .5-.5 0-4.5.5-.5 0-1 1.5-1.4.4 0 1.6-1.5.4 0 3.6-3 4 0 .4-.5 16.6 0 1.4 1 1 0 1.6 1 1 0 1.4 1 1 0 .6.5.4 0 2.6 2 .4 0 1 1 .6 0 1 1 .4 0 1 1 .6 0 .9.9.5 1.5 1 1 0 .5.5.5.5 1.5.5.5 0 .5 1 1 0 .5.5.5 0 5 .5.5 0 6.5.5.5 0 1-.5.5 0 4.5-.5.5 0 5-.5.5 0 8-.5.5 0 7.5-.5.5 0 6.5-.5.5 0 5-.5.5 0 2.5-.5.5 0 2.5-.5.5 0 2.5-.5.5 0 1-.5.5 0 .5-.5.5 0 .5-1.5 2.5 0 .5-.5.5 0 .5-.5.5 0 .5-.5.5 0 .5-.5.5 0 .5-.5.5 0 .5-1.5 1.5 0 .5-2 2 0 .5-2 2 0 .5-2 2 0 .5-.5.4-.4 0-2 2-.6 0-2 2-.4 0-2 2-.6 0-1.4 1.5-1.6.5-.4.5-1 0-1.6 1z" fill="#aeaeae" fill-rule="evenodd"/>
<path d="M373.8 441l-1 .4-.4-.1-6.6-2.3-9.3-6-8.1-8-3.4-6.5 0-14 3.3-12.5.8-2 .3-1.5.8-2 .2-1.5.9-2 2.2-8 1.6-4 .2-3.5-.5-1.5.3-6 .6-1.5.3-6.5.5-1 .2-4 .5-1.5.2-3.5.6-1.5 5.8-4.2 3-.1 1.6-.4 13.4 0 8.6 3.2 6.1 4 1.2 1 4.3 7 .2 4 .6 1.5.2 5.5.3 1-.1 4.5-.4 1.5.1 4-.4 1.5.2 7-.4 1.5.1 6.5-.5 1.5.1 5.5-.5 1.5-.1 4.5-.4 1 0 1.5-.5 1.5-.7 5-.5 1.5-5.1 10-3 3.5-.5 1-1.5 1.5-.5 1-3.9 3.9-1 .5-1.4 1.5-1 .5-3.6 2.9-4 1.7z" fill="#979797" fill-rule="evenodd"/>
<path d="M372.8 438.6l-5.4-1.6-9.6-5.6-8-7.8-2.9-6.1.1-12.5 5.8-19 3.7-10.5 1.7-4 .6-4.5-.2-2 .5-4 .6-2 .6-5.5 2.8-10 2.7-1.7 3.6-.6 11 0 7 2.5 6 3.5 1.4 1.8 2.3 3.5.4 3 .8 2.5 1 8.5-.2 2 .4 3.5-.3 2 .6 7-.3 1.5.4 6.5-.3 1.5.1 5.5-.4 1.5-.1 4-1.7 9-.7 1.8-4.8 9.2-5.6 7.3-2.8 2.7-7.2 5.6-3.6 1.5z" fill="#808080" fill-rule="evenodd"/>
<path d="M373.8 434.6l-1.4.3-3.6-.7-5-2.4-4.4-2.5-5-4.4-2.6-2.6-2.4-4.8-.3-7 .3-5 1.9-6 6.1-16.5 5.5-12.5.2-2-.6-7 1.6-8 2.1-5 1.6-2.3 3-.6 5-.3 4 .3 5.6 2.5 4 3.1 1.6 2.8 2.8 11.5 1 8.5 1.2 6 0 2.5.7 5.5-.2 2.5.3 5-.3 2-.1 3.5-1.9 9-5.1 9.5-6.7 8.5-3.6 3-5.3 3.6z" fill="#686868" fill-rule="evenodd"/>
<path d="M372.8 430.8l-1.4 0-2-.5-6.6-2.6-2-1-4.4-3.7-2.4-2.5-2-4-.2-6 .4-4.5 4.5-11.5 4.7-11 5.3-9-.1-4-.9-8.5.6-3.5.8-2.5 1.3-2.4 2.8-3.6 4.6-.4 3 .3 3 1.3 3 2.2 1.2 1.1.6 1 1 4 .8 12.2 2.5 7.3 1.7 7.5.8 8.5-.3 5.5-1.3 6-1.2 3.5-4.2 7.4-6.4 8.1-3.2 2.6-4 2.7z" fill="#515151" fill-rule="evenodd"/>
<path d="M372.4 426.2l-.6.2-2-.3-5.4-1.5-2-.9-3.1-2.2-2.5-2.5-1.6-3-.4-5 .8-5 8.2-17.7 2-3.3 2-2.8 4-4.2-1-2-.5-2-1.3-11 0-2 .8-2.6 1.6-2.2 2-1.6 2-.7 3 .5 2 1.1 1.6 1.5.9 2 .6 4 .7 8.5-.3 3-.9 2.5 3.4 6.3 1.6 3.7 1.6 7 0 5-.7 4-2.1 5.5-3.9 6.5-5.5 7.4-5 3.8z" fill="#3a3a3a" fill-rule="evenodd"/>
<path d="M371.8 421.2l-3 .2-3-.3-2.4-1-2-1.3-1.9-1.8-1.1-2-.4-2.5.2-2.5 1.1-3.5 9.1-16.6 2-2.3 2-1.8 2.4-1.6 2.6-1 3.9 3.3 2.9 4.5 1.2 3.5.2 5-.6 2.5-1.4 3-4.4 7.5-4.8 6.5-2.6 2.2z" fill="#232323" fill-rule="evenodd"/>
<path d="M368.8 416.6l-1.4.3-1.6 0-1.4-.5-1.4-.9-.9-1-.4-1-.2-1.5.2-1.5 1.7-3.3 8-13.2 2.4-2.1 1.6-.7 1 0 2.4 1.3 1.6 1.7 1 2.8-.2 2.5-.5 1.5-2.7 4.5-3.6 5.5-3 4.1-2.6 1.5z" fill="#0c0c0c" fill-rule="evenodd"/>
<ellipse rx="13.5" ry="22.0" transform="translate(377.8 359.7) rotate(-20)" fill="none" stroke="#0000f8" stroke-width="1.5"/>
<ellipse rx="14.2" ry="11.6" transform="translate(363.2 402.0) rotate(16)" fill="none" stroke="#f80000" stroke-width="1.5"/>
<ellipse rx="8.5" ry="35.0" transform="translate(320.3 366.6) rotate(5)" fill="none" stroke="#b8b8b8" stroke-width="1.0" stroke-dasharray="4 2.6"/>
<ellipse rx="15.5" ry="28.0" transform="translate(425.5 378.4) rotate(5)" fill="none" stroke="#b8b8b8" stroke-width="1.0" stroke-dasharray="4 2.6"/>
<circle cx="377.8" cy="359.7" r="2.2" fill="#0000f8"/>
<circle cx="363.2" cy="402.0" r="2.2" fill="#f80000"/>
<rect x="319.0" y="365.3" width="2.6" height="2.6" fill="#ffffff" stroke="#c4c4c4" stroke-width=".6"/>
<rect x="424.2" y="377.1" width="2.6" height="2.6" fill="#ffffff" stroke="#c4c4c4" stroke-width=".6"/>
</g>
<rect x="292.35" y="253.85" width="171.05" height="34.70" fill="#e2e2e2"/>
<rect x="326.06" y="253.85" width="1" height="34.20" fill="#f4f4f4"/>
<rect x="360.27" y="253.85" width="1" height="34.20" fill="#f4f4f4"/>
<rect x="394.48" y="253.85" width="1" height="34.20" fill="#f4f4f4"/>
<rect x="428.69" y="253.85" width="1" height="34.20" fill="#f4f4f4"/>
<path d="M292.4 287.9C294.3 287.8 300 287.5 303.9 287.2C307.8 286.9 312 286.4 315.5 285.8C319 285.2 321.6 284.7 324.7 283.7C327.8 282.7 330.9 281.4 334 279.8C337.1 278.2 340.6 275.9 343.3 274C346 272.1 348.1 269.9 350.2 268.2C352.3 266.5 354.1 264.9 356 263.6C357.9 262.3 359.9 261.7 361.8 260.6C363.7 259.5 365.8 258.1 367.6 257.1C369.5 256.1 371.4 255.1 372.9 254.8C374.4 254.5 375.2 254.9 376.8 255.5C378.4 256.1 380.5 257.4 382.6 258.5C384.7 259.6 387.3 260.4 389.6 262C391.9 263.6 394.2 266 396.5 268.2C398.8 270.4 401.2 273.1 403.5 275.2C405.8 277.2 408.1 279 410.4 280.5C412.7 282 414.7 283.4 417.4 284.4C420.1 285.4 422.8 286.1 426.6 286.7C430.5 287.2 434.4 287.5 440.5 287.7C446.6 287.9 459.6 287.9 463.4 287.9L463.4 288.3L292.4 288.3Z" fill="#444444" fill-opacity="0.25"/>
<path d="M292.4 287.9C294.3 287.8 300 287.5 303.9 287.2C307.8 286.9 312 286.4 315.5 285.8C319 285.2 321.6 284.7 324.7 283.7C327.8 282.7 330.9 281.4 334 279.8C337.1 278.2 340.6 275.9 343.3 274C346 272.1 348.1 269.9 350.2 268.2C352.3 266.5 354.1 264.9 356 263.6C357.9 262.3 359.9 261.7 361.8 260.6C363.7 259.5 365.8 258.1 367.6 257.1C369.5 256.1 371.4 255.1 372.9 254.8C374.4 254.5 375.2 254.9 376.8 255.5C378.4 256.1 380.5 257.4 382.6 258.5C384.7 259.6 387.3 260.4 389.6 262C391.9 263.6 394.2 266 396.5 268.2C398.8 270.4 401.2 273.1 403.5 275.2C405.8 277.2 408.1 279 410.4 280.5C412.7 282 414.7 283.4 417.4 284.4C420.1 285.4 422.8 286.1 426.6 286.7C430.5 287.2 434.4 287.5 440.5 287.7C446.6 287.9 459.6 287.9 463.4 287.9" fill="none" stroke="#444444" stroke-width="1.1"/>
<rect x="464.00" y="289.00" width="34.30" height="173.30" fill="#e2e2e2"/>
<rect x="464.00" y="305.83" width="34.30" height="1" fill="#f4f4f4"/>
<rect x="464.00" y="340.49" width="34.30" height="1" fill="#f4f4f4"/>
<rect x="464.00" y="375.15" width="34.30" height="1" fill="#f4f4f4"/>
<rect x="464.00" y="409.81" width="34.30" height="1" fill="#f4f4f4"/>
<rect x="464.00" y="444.47" width="34.30" height="1" fill="#f4f4f4"/>
<path d="M467 289.2C467.5 291 469.1 296.1 470.2 300C471.3 303.9 472.7 308.6 473.9 312.9C475.1 317.2 476.1 321.9 477.6 325.9C479.1 329.9 481.6 333.6 483.1 337C484.7 340.4 486 343.2 486.9 346.3C487.8 349.4 488.3 352.1 488.7 355.5C489.1 358.9 489.1 363.2 489.1 366.6C489.1 370 488.6 372.8 488.7 376C488.8 379.2 488.8 382.6 489.6 386.1C490.4 389.6 492.4 393.5 493.3 397.2C494.2 400.9 495.2 404.9 495.2 408.3C495.2 411.7 494.5 414.8 493.3 417.6C492.1 420.4 490 422.5 487.8 425C485.6 427.5 482.9 429.9 480.4 432.4C477.9 434.9 475 437.3 473 439.8C471 442.3 469.4 444.7 468.3 447.2C467.2 449.7 466.9 452.1 466.5 454.6C466.1 457.1 465.8 461 465.6 462.3L464 462.3L464 289.2Z" fill="#444444" fill-opacity="0.25"/>
<path d="M467 289.2C467.5 291 469.1 296.1 470.2 300C471.3 303.9 472.7 308.6 473.9 312.9C475.1 317.2 476.1 321.9 477.6 325.9C479.1 329.9 481.6 333.6 483.1 337C484.7 340.4 486 343.2 486.9 346.3C487.8 349.4 488.3 352.1 488.7 355.5C489.1 358.9 489.1 363.2 489.1 366.6C489.1 370 488.6 372.8 488.7 376C488.8 379.2 488.8 382.6 489.6 386.1C490.4 389.6 492.4 393.5 493.3 397.2C494.2 400.9 495.2 404.9 495.2 408.3C495.2 411.7 494.5 414.8 493.3 417.6C492.1 420.4 490 422.5 487.8 425C485.6 427.5 482.9 429.9 480.4 432.4C477.9 434.9 475 437.3 473 439.8C471 442.3 469.4 444.7 468.3 447.2C467.2 449.7 466.9 452.1 466.5 454.6C466.1 457.1 465.8 461 465.6 462.3" fill="none" stroke="#444444" stroke-width="1.1"/>
<g opacity=".999" stroke="#3a3a3a" stroke-width=".22">
<text x="291.6" y="471.7" text-anchor="middle">−1.0</text>
<text x="325.8" y="471.7" text-anchor="middle">−1.5</text>
<text x="360.0" y="471.7" text-anchor="middle">−2.0</text>
<text x="394.2" y="471.7" text-anchor="middle">−2.5</text>
<text x="428.4" y="471.7" text-anchor="middle">−3.0</text>
<text x="462.6" y="471.7" text-anchor="middle">−3.5</text>
<text x="290.0" y="308.4" text-anchor="end">−0.4</text>
<text x="290.0" y="343.0" text-anchor="end">−0.2</text>
<text x="290.0" y="377.7" text-anchor="end">0.0</text>
<text x="290.0" y="412.4" text-anchor="end">0.2</text>
<text x="290.0" y="447.0" text-anchor="end">0.4</text>
<text x="331.7" y="485.1" font-size="9.25">[t] = (V - J) - 6.44 (J-H)</text>
<text transform="translate(270.5 375.6) rotate(-90)" font-size="9.25" text-anchor="middle">[m] = (C - V) - 1.10 (V-I)</text>
</g>
<g clip-path="url(#c12)">
<rect x="554.90" y="289.00" width="170.60" height="173.30" fill="#f3f3f3"/>
<path d="M619.4 455.8l-5-.1-.5-.4-5.5-.1-.5-.5-1 0-.5-.5-1 0-.5-.4-1 0-.5-.5-1-.1-.5-.4-1-.1-.5-.5-1 0-3.5-3-.5 0-1.5-1.5-.5 0-5.7-5.7 0-.5-1.5-1.5 0-2-.5-.5 0-2-.5-.5 0-2-.5-.5 0-4.5.5-.5 0-5 .5-.5 0-2.5.5-.5 0-1 .5-.5 0-1 .5-.5 0-1 .5-.5 0-1 .5-.5 0-1 .5-.5 0-1 .5-.5 0-1 .5-.5 0-1.5.5-.5 0-1 .5-.5 0-1.5.5-.5 0-1 .5-.5 0-1.5.5-.5 0-1 .5-.5 0-1.5.5-.5 0-3 .5-.5 0-4 .5-.5 0-4 .5-.5 0-.5-.5-.5 0-1.5-.5-.5 0-1.5-.5-.5 0-2-.4-.5 0-3-.5-.5 0-2.5-.5-.5 0-2.5-.5-.5 0-1-.5-.5 0-1-.5-.5 0-1-.5-.5 0-1-.5-.5 0-1-.5-.5 0-.5-1-1 0-.5-2-2 0-.5-4.4-4.4-.5 0-2-2-.6-.1-4-4.5 0-.5-2-2 0-3.5-.5-.5 0-3-.5-.5 0-3 .5-.5 0-4.5.5-.5 0-5 .5-.5 0-1 .5-.5 0-1 .4-.5.1-1 .4-.5 0-1 .5-.5 0-.5 1-1.5 0-.5.5-.5 0-1 1.5-2.5 0-.5 1-1 .1-.5 1-1 0-.5 1-1 .1-.6 1.5-.5 1-1 .5 0 1-1 .5 0 1.5-1.5.5 0 1.5-1.5.5 0 1.5-1.5.5 0 1.5-1.5.5 0 2.5-2 1.5-.5 1-1 .5 0 .5-.5 26 0 1 1 .5 0 1 1 .5 0 1.5 1.5.5 0 1 1 .5 0 2.5 2 1.5.5 2.5 2 1.5.5.1.6 1.5 1.5 0 .5 1 1 0 .5 1.5 1.5 0 .5 1.9 1.8.5 0 .5.5 1.5.5 1 1 .5 0 .5.5 1.5.5 1 1 1.5.5 1 1 .5 0 1 1 .5 0 1 1 .5 0 1 1 .5 0 2.5 2 1.5.5.5.5.5 0 .5.5 1 0 1.5 1 1 0 1.5 1 1 0 .5.5 1.5.5 2.5 2 1.5.5 1 1 1.5.5 3.5 3 .5 0 1.5 1.5.5 0 2.2 2.2 0 .5 1 1 0 .5 2 2.5 0 1 .5.5 0 1.5.5.5 0 2 .5.5 0 3.5-.5.5 0 1.5-.5.5 0 1.5-.5.5 0 4.5.5.5 0 5.5.5.5 0 5 .5.5 0 6-.5.5 0 1.5-.5.5 0 1-.5.5 0 1-.5.5 0 1-.5.5 0 1-.5.5 0 1.5-.5.5 0 1-.5.5 0 1.5-.5.5 0 1-.5.5 0 1.5-.5.5 0 1.5-.5.5 0 2-.5.5 0 2-.5.5 0 2-1 1.5 0 1-1 1.5 0 1-1 1.5 0 1-.5.5-.5 1.5-1 1 0 .5-1.5 1.5 0 .5-2 2.5 0 .5-1.5 1.5 0 .5-3 3 0 .5-3.9 4 0 .5-3.8 3.8-.5 0-6 6-.5 0-3 3-.5 0-3 3-.5 0-2 2-.5 0-1.5 1.5-.5 0-1 1-.5 0-3.5 3-.5 0-1.5 1-.5 0-.5.5-1 0-.5.5-1 0-.5.5-1 0-1.5 1-1 0-.5.5-1 0-.5.5-2 0-.5.5-2.5 0-.5.5-2 0-.5.5-2.5 0-.5.5z" fill="#dcdcdc" fill-rule="evenodd"/>
<path d="M618.4 451.3l-1 0-.5-.5-2.5 0-.5-.5-2.5 0-.5-.5-2.5 0-.5-.5-2.5-.1-.5-.4-.5-.1-2.5-2.4-.5 0-2-2-.5-.1-1.7-1.7-.6-1.5-1-1-.5-1.5-.5-.5 0-.5-1-1 0-.5-.5-.5 0-1-.5-.5 0-4.5-.5-.5 0-4.5.5-.5 0-1.5.5-.5 0-1.5.5-.5 0-1.5.5-.5 0-1.5.5-.5 0-1.5.5-.5 0-.5.5-.5 0-1 1.5-2.5 0-1 1-1.5 0-1 1-1.5 0-1 .5-.5 0-.5.5-.5 0-1 .5-.5 0-1 .5-.5 0-1 1-1.5 0-1 .5-.5 0-1 .5-.5 0-1 1-1.5 0-4.5.5-.5 0-6.5.5-.5 0-10.5-.5-.5 0-7.5-.5-.5 0-2.5-.5-.5 0-2-.5-.5 0-2.5-.5-.5 0-1-.5-.5 0-1-.5-.5 0-1-.5-.5 0-1-.5-.5 0-1-1-1.5 0-1.5-.5-.5 0-2-.5-.5 0-2.5-.5-.5 0-2-.5-.5 0-2 .5-.5 0-4 .5-.5.1-4 .5-.5 0-2.5.5-.5 0-2.5.5-.5 0-2 .5-.5 0-1.5.5-.5 0-1.5.5-.5 0-1 .5-.5 0-1 .7-.2.5-.5.5 0 .5-.5.5 0 .5-.5 1 0 .5.5.5 0 .5.5.5 0 .5.5.7.2 0 1 .5.5 0 1 .5.5 0 1.5.5.5 0 1 1.6 2.5 0 .5.5.5 0 .5.5.5 0 .5.5.5 0 .5.7.7.5 0 1 1 .5 0 1 1 .5 0 1 .9 1.5 0 .5.5 2 0 .5.5 2 0 .5-.5.5 0 .5-.5.5 0 .5-.5.5 0 2.5-1.4.5 0 1.5-1 1 0 1.5-1 1 0 .5-.5 1 0 .5-.5 2 0 .5.5.5 0 .5.5.5 0 .5.5.5 0 .5.5.5 0 1.5 1 .5 0 .5.5.5 0 2.5 1.5.5 0 .5.5.5 0 .5.5.5 0 .5.5.5 0 .5.5.5 0 .5.5 1 0 1.5 1 1 0 1.5 1 1 0 1.5 1 1 0 1 1 1.5.5 1 1 1.5.5 1 1 .5 0 .5.5.5 0 1 1 .5 0 7.8 7.8 0 1.5.5.5 0 1 .5.5 0 1 .5.5 0 1 .5.5 0 1.5.5.5 0 4.5-.5.5 0 7-.5.5 0 5-.5.5 0 4.5-.5.5 0 6.5-.5.5 0 7-.5.5 0 1.5-.5.5 0 1.5-.5.5 0 1.5-.5.5 0 1.5-.5.5 0 1.5-.5.5 0 1.5-.5.5 0 1.5-.5.5 0 1-.5.5-1 2.5-.5.5 0 .5-.5.5 0 .5-1.5 2.5-.5 1.5-.5.5 0 .5-.5.5-1 2.5-.5.5 0 .5-1.5 2.5 0 1-1.5 2.5 0 .5-.5.5 0 .5-.5.5-.1.5-.5.5 0 .5-.7.7-.5 0-7 6.5-.5 0-2.5 2.5-.5.1-2.5 2.4-.5.1-2 1.9-.5 0-1 1-.5.1-1 .9-.5.1-1 .9-.5.1-2.5 1.9-1.5.6-.5.4-1 .1-2.5 1.4-1 .1-3.5 1.9-2 .1-.5.4-3 .1-.5.4-3 .1-.5.5-2.5 0-.5.5zM591.9 326.2l-2 0-.5-.5-1.5 0-.5-.5-.2-1.7-.4-.5 0-1-.5-.5 0-1-.5-.5 0-2 .5-.5 0-2 1.1-1.6.5 0 1-1 2 0 .5.5 1.5-.1.2.7.5.5 0 1 .5.5 0 1 .5.5 0 6-2.7 2.7z" fill="#c5c5c5" fill-rule="evenodd"/>
<path d="M618.9 447.4l-2 0-.5-.5-1.5 0-.5-.5-1.5 0-.5-.5-1.5 0-.5-.5-1.5 0-.5-.5-1.5 0-.4-.4 0-.5-1.5-1.5 0-.5-1.5-1.5 0-.5-1.5-1.5 0-.5-1.5-1.5 0-.5-.5-.5 0-1.5-.5-.5 0-1.5-.5-.5 0-2-.5-.5 0-3.5.5-.5 0-2.5.5-.5 0-2.5.5-.5 0-2.5.5-.5 0-1 .5-.5 0-1 .5-.5 0-1 .5-.5 0-1 .5-.5 0-1 .5-.5 0-1 .5-.5 0-1 .5-.5 0-1 1-1.5 0-1 .5-.5 0-1 .5-.5 0-1 .5-.5 0-1 1-1.5 0-1 .5-.5 0-1 .5-.5 0-2 .5-.5 0-3.5.5-.5 0-3 .5-.5 0-3.5.5-.5 0-14 .5-.5 0-3.5.5-.5 0-3.5.5-.5 0-8 .5-.5 0-.5 1-1 .5-1.5 1-1 .5-1.5 1-1 .4-1.5 2.5-2.4.5 0 1.5-1.5.5 0 3.5-3 .5 0 .5-.5.5 0 .5-.5 1.5-.5.5-.5.5 0 .5-.5.5 0 .5-.5.5 0 .5-.5.5 0 .5-.5.5 0 .5-.5.5 0 .5-.5.5 0 1.5-1 .5 0 1.5-1 2 0 .5.5 1.5 0 .5.5 1.5 0 .5.5 1.5 0 .5.5 1 0 .5.5 1 0 .5.5 1 0 .5.5 1 0 .5.5 1 0 .5.5 1 0 .5.5 1 0 1 1 .5 0 1.5 1 .5 0 1 1 1.5.5 1 1 1.5.5 8.9 8.9 0 1 .5.5 0 1 .5.5 0 1.5.5.5 0 1 .5.5 0 1 .5.5 0 4.5-.5.5 0 6-.5.5 0 6-.5.5 0 6.5-.5.5 0 3.5-.5.5 0 2.5-.5.5 0 2.5-.5.5 0 2.5-.5.5 0 1.5-.5.5 0 1-.5.5 0 1.5-.5.5 0 1-.5.5 0 1.5-.5.5 0 1-.5.5 0 1.5-.5.5 0 1-.5.5 0 1-.5.5 0 1-.5.5 0 1.5-.5.5 0 1-.5.5 0 1-.5.5 0 1-.5.5 0 1-.5.5 0 1.5-.5.5-.1 1-.8 1.4-3.5 3.5-.5 0-3 3-.5 0-3 3-.5 0-5.5 5-.5 0-1 1-.5 0-1.5 1.5-.5 0-3.5 3-1.5.5-.5.5-1 0-2.5 1.5-1 0-.5.5-1.5.5-1.5 1-1.5 0-.5.5-2 0-.5.5-2 0-.5.5-2 0-.5.5-2 0-.5.5z" fill="#aeaeae" fill-rule="evenodd"/>
<path d="M617.9 445.2l-8-2.1-1.5-.5-1-1-4.7-6.1-.5-1-1.7-7 .4-4 .4-1 0-2 .4-1 0-2 3.8-12.5.8-1.5 1.6-5.5.8-1.5 1-3 .2-1.7.5-1.3.1-2.5.4-1 .2-2.5.5-1.5.1-2.5.6-1.5.5-13 .5-1 .2-3 .5-1 .2-3 .4-1 .4-7 2-3.5 3.2-5 .7-.7 7-4.8 12.5-6 1.5.3 5.5 1.4 9 3 8.5 4.8 7.2 7 2.6 7.5.2 2-.4 2 .2 5-.4 1.5.2 5-.5 1.5.2 5.5-.4 1 .1 3-.4 1 0 2-.4 1-.5 5-3.4 13-4.3 13-.3 1.5-1.1 2.5-2.6 2.6-1 .5-2.5 2.5-1 .5-2.5 2.5-1 .5-5 4.5-2.5 1.4-5.2 4-10.3 4.4-3.5.5-1 .4-1.5.1-1 .4-1.5 0-1 .4-1.5.1-1 .4z" fill="#979797" fill-rule="evenodd"/>
<path d="M620.9 440.5l-3 .4-7-1.9-4.6-5.5-1.4-4-.6-2.5.6-9 3-12 4.2-12 .8-3 .3-2.5 2.3-9 1.6-12.5 2.6-10 .8-5.5 4.4-6.5 5.5-4.3 4-1.9 4.5-1.7 2-.6 1.5.2 3 .7 8 2.8 2.8 1.3 5.2 2.9 5.6 5.1 2.3 5.5 0 2.5.4 4-.1 2.5.5 4.5-.2 2 .5 5-.4 7-.8 8.5-2.9 12-2.1 6.5-2.3 6.5-1 2-14.7 12.5-7.8 5.3-9 3.5-8.5 1.2z" fill="#808080" fill-rule="evenodd"/>
<path d="M623.4 435.5l-5.5.3-3.9-1.3-.6-.4-2.7-3.1-1.3-3.5-.4-5.5.1-4 1.2-8 2.8-10 2.1-5.5 1.4-5 3.3-9.5 2.7-12 2.5-6.5.2-6.5.4-2.5 2.6-4.5 4.1-3.3 5-2.2 4.5-.9 5 1.6 4.4 2.3 1.9 1.5 3.2 3.3 3.5 2.7 1.6 2.5 2.5 12 .2 2.5.9 4.5.4 4.5.1 9-1.3 9-1.1 5-2.1 6.5-2.7 6.5-1.1 1.5-13.4 11-8 5-8 2.5-4.5.5z" fill="#686868" fill-rule="evenodd"/>
<path d="M627.9 429.5l-3 .5-6.5-.3-1.5-.5-.6-.7-.9-2-1.3-7 0-6.5.4-4.5 1.9-7.5 9-20.5 4.6-11.5-.3-12 .5-3.5 1.5-2.5 1.7-1.6 2-1.3 3.5-1.1 3.5-.3 3.2 1.3 3.3 2.4 2.4 3.1 1.7 3.5.4 5 2 4.5 2.6 7 1.9 7.5 1 8-.6 8-.8 4-1.8 5.5-3.5 7-9.8 8.2-3.5 2.6-7.5 4-5.5 1.2z" fill="#515151" fill-rule="evenodd"/>
<path d="M628.9 423.5l-5 .2-1.5-.2-.5-.4-.8-1.6-1.5-5-.7-4.5.1-5 .7-3.5 2.2-5.4 10-16.5 5.5-7.1 3.5-3.5 2.5-2.1 3.7 3.6 3.3 4.5 2.5 4.5 1.9 4.5 1 5 .2 3.5-.3 4-.5 2.5-1.4 4-1.3 2.5-2.1 3-2.2 2-6.8 5.6-3.5 2.4-5.5 2.3-3.5.7z" fill="#3a3a3a" fill-rule="evenodd"/>
<path d="M630.9 417.1l-3.3-.1-2.7-3.7-.9-2.3-.5-2.5 0-2.5.6-2.5 1.8-3.5 9.5-11.8 3.5-3.1 3.5-1.8 2 1.2 2.5 2.2 1.9 2.3 1.1 2 .8 2.5.4 2.5 0 2.5-.6 2.5-1.8 3.5-3.8 4.1-8.1 6.4-2.4 1.2-3.5.9z" fill="#232323" fill-rule="evenodd"/>
<path d="M632.9 410.6l-1 .1-1.5-.6-1.6-1.6-.5-1-.1-1.5.7-2.2 11-10.6.5-.2 1.5-.1 2 .8 1.5 1.5.7 1.8-.1 2-.7 1.5-4.4 4.3-6 4.8-2 1z" fill="#0c0c0c" fill-rule="evenodd"/>
<ellipse rx="13.5" ry="22.0" transform="translate(640.1 359.7) rotate(-20)" fill="none" stroke="#0000f8" stroke-width="1.5"/>
<ellipse rx="14.2" ry="11.6" transform="translate(625.5 402.0) rotate(16)" fill="none" stroke="#f80000" stroke-width="1.5"/>
<ellipse rx="8.5" ry="35.0" transform="translate(582.8 366.6) rotate(5)" fill="none" stroke="#b8b8b8" stroke-width="1.0" stroke-dasharray="4 2.6"/>
<ellipse rx="15.5" ry="28.0" transform="translate(687.7 378.4) rotate(5)" fill="none" stroke="#b8b8b8" stroke-width="1.0" stroke-dasharray="4 2.6"/>
<circle cx="640.1" cy="359.7" r="2.2" fill="#0000f8"/>
<circle cx="625.5" cy="402.0" r="2.2" fill="#f80000"/>
<rect x="581.5" y="365.3" width="2.6" height="2.6" fill="#ffffff" stroke="#c4c4c4" stroke-width=".6"/>
<rect x="686.4" y="377.1" width="2.6" height="2.6" fill="#ffffff" stroke="#c4c4c4" stroke-width=".6"/>
</g>
<rect x="554.90" y="253.85" width="170.60" height="34.70" fill="#e2e2e2"/>
<rect x="588.52" y="253.85" width="1" height="34.20" fill="#f4f4f4"/>
<rect x="622.64" y="253.85" width="1" height="34.20" fill="#f4f4f4"/>
<rect x="656.76" y="253.85" width="1" height="34.20" fill="#f4f4f4"/>
<rect x="690.88" y="253.85" width="1" height="34.20" fill="#f4f4f4"/>
<path d="M554.9 287.4C556.7 287.2 562.1 286.8 565.9 286.3C569.7 285.8 574 285.1 577.5 284.4C581 283.7 583.6 283.1 586.7 282.1C589.8 281.1 593.3 279.8 596 278.6C598.7 277.4 600.6 276.1 602.9 274.7C605.2 273.3 607.6 271.9 609.9 270.5C612.2 269.1 614.5 267.8 616.8 266.6C619.1 265.4 621.5 264.3 623.8 263.1C626.1 261.9 628.8 260.4 630.7 259.6C632.6 258.8 633.3 258.6 635.4 258.5C637.5 258.4 641.2 258.2 643.5 258.9C645.8 259.5 647.2 260.8 649.3 262.4C651.4 263.9 653.9 266.3 656.2 268.2C658.5 270.1 660.9 272.3 663.2 274C665.5 275.7 667.6 277.2 670.1 278.6C672.6 280 675.5 281.5 678.2 282.6C680.9 283.7 683.4 284.4 686.3 285.1C689.2 285.8 691.7 286.3 695.6 286.7C699.5 287.1 704.5 287.5 709.5 287.7C714.5 287.9 722.8 287.9 725.5 287.9L725.5 288.3L554.9 288.3Z" fill="#444444" fill-opacity="0.25"/>
<path d="M554.9 287.4C556.7 287.2 562.1 286.8 565.9 286.3C569.7 285.8 574 285.1 577.5 284.4C581 283.7 583.6 283.1 586.7 282.1C589.8 281.1 593.3 279.8 596 278.6C598.7 277.4 600.6 276.1 602.9 274.7C605.2 273.3 607.6 271.9 609.9 270.5C612.2 269.1 614.5 267.8 616.8 266.6C619.1 265.4 621.5 264.3 623.8 263.1C626.1 261.9 628.8 260.4 630.7 259.6C632.6 258.8 633.3 258.6 635.4 258.5C637.5 258.4 641.2 258.2 643.5 258.9C645.8 259.5 647.2 260.8 649.3 262.4C651.4 263.9 653.9 266.3 656.2 268.2C658.5 270.1 660.9 272.3 663.2 274C665.5 275.7 667.6 277.2 670.1 278.6C672.6 280 675.5 281.5 678.2 282.6C680.9 283.7 683.4 284.4 686.3 285.1C689.2 285.8 691.7 286.3 695.6 286.7C699.5 287.1 704.5 287.5 709.5 287.7C714.5 287.9 722.8 287.9 725.5 287.9" fill="none" stroke="#444444" stroke-width="1.1"/>
<rect x="726.10" y="289.00" width="34.30" height="173.30" fill="#e2e2e2"/>
<rect x="726.10" y="305.83" width="34.30" height="1" fill="#f4f4f4"/>
<rect x="726.10" y="340.49" width="34.30" height="1" fill="#f4f4f4"/>
<rect x="726.10" y="375.15" width="34.30" height="1" fill="#f4f4f4"/>
<rect x="726.10" y="409.81" width="34.30" height="1" fill="#f4f4f4"/>
<rect x="726.10" y="444.47" width="34.30" height="1" fill="#f4f4f4"/>
<path d="M729.4 289.2C729.9 290.7 731.3 294.5 732.2 298.1C733.1 301.8 733.8 306.8 735 311.1C736.2 315.4 737.9 320 739.6 324C741.3 328 743.5 331.7 745.1 335.1C746.7 338.5 748.4 341.3 749.4 344.4C750.4 347.5 750.8 350.3 751.1 353.7C751.4 357.1 751.3 361.2 751.3 364.8C751.3 368.4 751.1 371.4 751.3 375C751.5 378.6 751.8 382.4 752.6 386.1C753.4 389.8 755.1 393.5 755.9 397.2C756.7 400.9 757.3 404.9 757.2 408.3C757.1 411.7 756.5 414.7 755.3 417.6C754.1 420.5 751.9 423.1 749.8 425.9C747.6 428.7 744.9 431.7 742.4 434.3C739.9 436.9 737 439.2 735 441.7C733 444.2 731.5 446.3 730.3 449.1C729.1 451.9 728.1 456.1 727.6 458.3C727.1 460.5 727.1 461.6 727 462.3L726.1 462.3L726.1 289.2Z" fill="#444444" fill-opacity="0.25"/>
<path d="M729.4 289.2C729.9 290.7 731.3 294.5 732.2 298.1C733.1 301.8 733.8 306.8 735 311.1C736.2 315.4 737.9 320 739.6 324C741.3 328 743.5 331.7 745.1 335.1C746.7 338.5 748.4 341.3 749.4 344.4C750.4 347.5 750.8 350.3 751.1 353.7C751.4 357.1 751.3 361.2 751.3 364.8C751.3 368.4 751.1 371.4 751.3 375C751.5 378.6 751.8 382.4 752.6 386.1C753.4 389.8 755.1 393.5 755.9 397.2C756.7 400.9 757.3 404.9 757.2 408.3C757.1 411.7 756.5 414.7 755.3 417.6C754.1 420.5 751.9 423.1 749.8 425.9C747.6 428.7 744.9 431.7 742.4 434.3C739.9 436.9 737 439.2 735 441.7C733 444.2 731.5 446.3 730.3 449.1C729.1 451.9 728.1 456.1 727.6 458.3C727.1 460.5 727.1 461.6 727 462.3" fill="none" stroke="#444444" stroke-width="1.1"/>
<g opacity=".999" stroke="#3a3a3a" stroke-width=".22">
<text x="554.1" y="471.7" text-anchor="middle">−1.0</text>
<text x="588.2" y="471.7" text-anchor="middle">−1.5</text>
<text x="622.3" y="471.7" text-anchor="middle">−2.0</text>
<text x="656.5" y="471.7" text-anchor="middle">−2.5</text>
<text x="690.6" y="471.7" text-anchor="middle">−3.0</text>
<text x="724.7" y="471.7" text-anchor="middle">−3.5</text>
<text x="552.5" y="308.4" text-anchor="end">−0.4</text>
<text x="552.5" y="343.0" text-anchor="end">−0.2</text>
<text x="552.5" y="377.7" text-anchor="end">0.0</text>
<text x="552.5" y="412.4" text-anchor="end">0.2</text>
<text x="552.5" y="447.0" text-anchor="end">0.4</text>
<text x="594.1" y="485.1" font-size="9.25">[t] = (V - J) - 6.44 (J-H)</text>
<text transform="translate(533.0 375.6) rotate(-90)" font-size="9.25" text-anchor="middle">[m] = (C - V) - 1.10 (V-I)</text>
</g></svg>
</body></html>
